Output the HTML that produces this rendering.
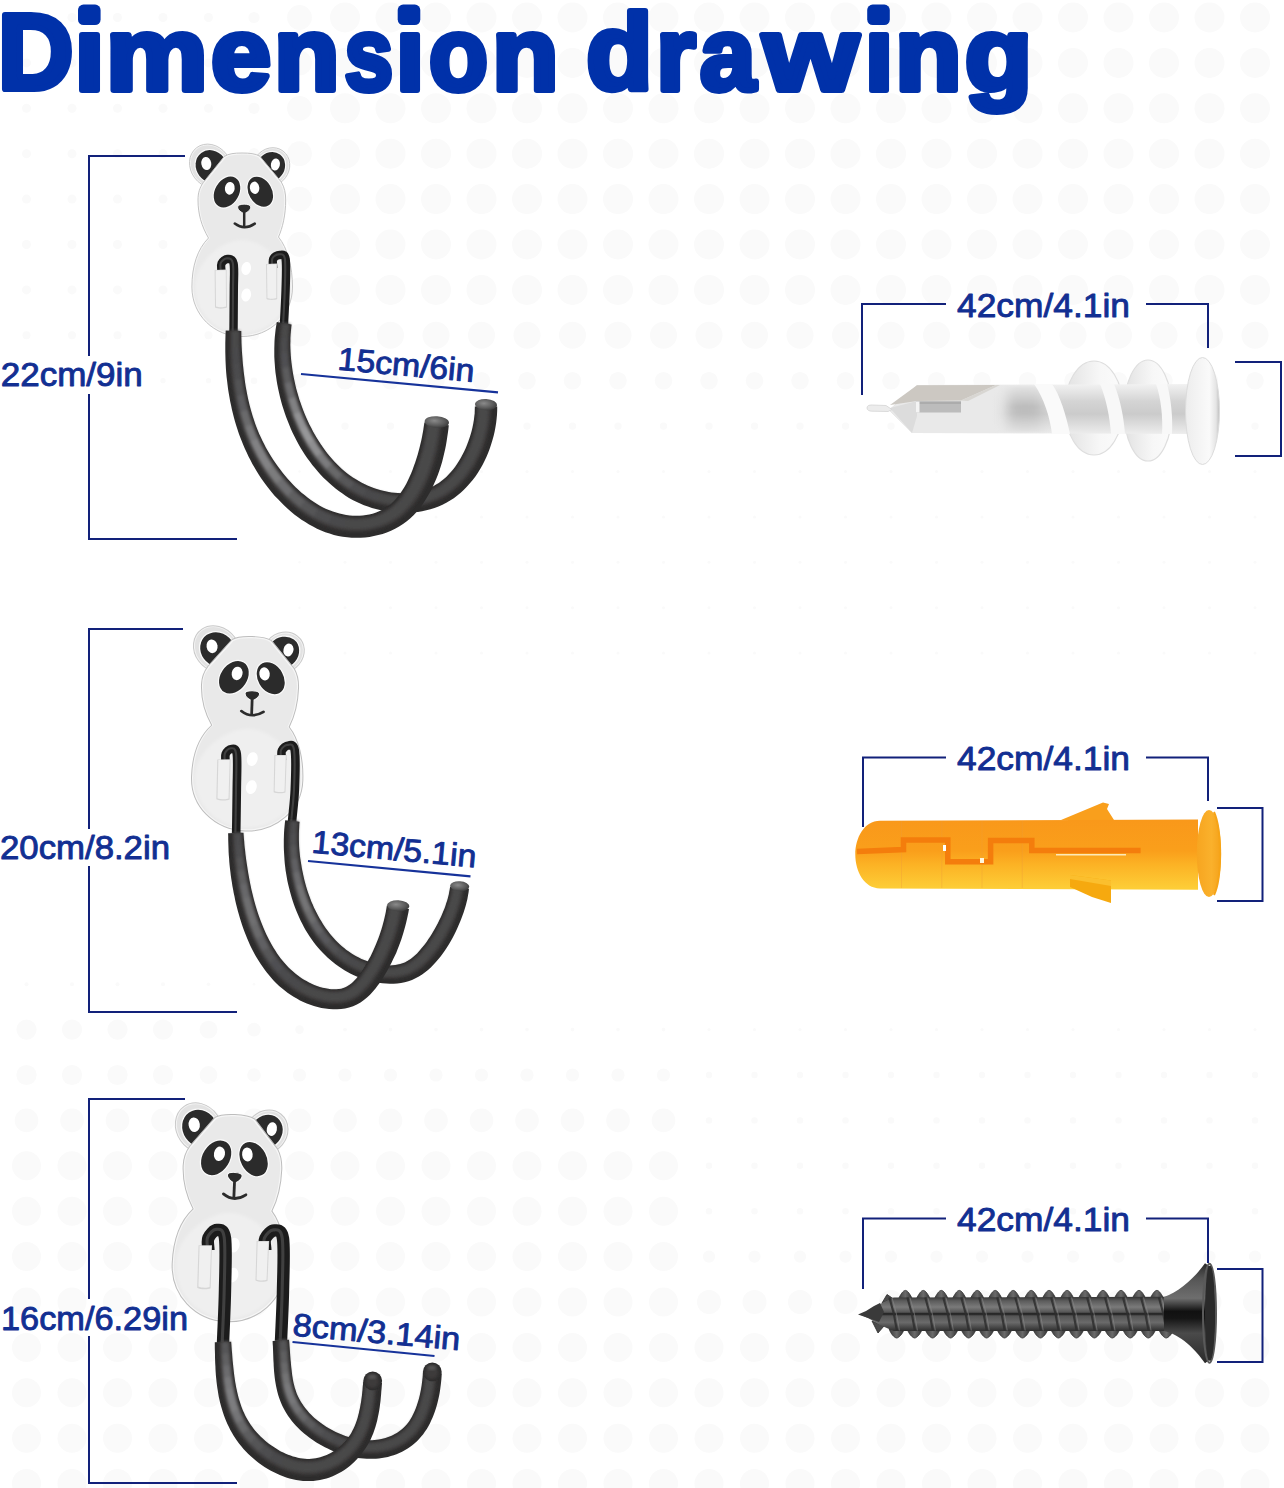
<!DOCTYPE html>
<html><head><meta charset="utf-8">
<style>
html,body{margin:0;padding:0;background:#fff;}
body{width:1284px;height:1488px;overflow:hidden;position:relative;}
svg{position:absolute;left:0;top:0;}
.t{font-family:"Liberation Sans",sans-serif;font-weight:normal;fill:#122f92;stroke:#122f92;stroke-width:0.9px;stroke-linejoin:round;}
</style></head><body>
<svg width="1284" height="1488" viewBox="0 0 1284 1488">

<defs>
<filter id="b1" x="-20%" y="-20%" width="140%" height="140%"><feGaussianBlur stdDeviation="1.6"/></filter>
<filter id="b3" x="-50%" y="-50%" width="200%" height="200%"><feGaussianBlur stdDeviation="6"/></filter>
<radialGradient id="capg" cx="0.4" cy="0.4" r="0.7"><stop offset="0" stop-color="#8a8a8a"/><stop offset="0.6" stop-color="#5a5a5a"/><stop offset="1" stop-color="#333"/></radialGradient>

<g id="plate">
 <ellipse cx="210.5" cy="166" rx="19.8" ry="23" transform="rotate(-37 210.5 166)" fill="#f3f3f3" stroke="#c9c9c9" stroke-width="0.9"/>
 <ellipse cx="271" cy="167" rx="18" ry="20" transform="rotate(37 271 167)" fill="#f3f3f3" stroke="#c9c9c9" stroke-width="0.9"/>
 <ellipse cx="210.5" cy="166" rx="18.5" ry="21.7" transform="rotate(-37 210.5 166)" fill="#e2e2e2"/>
 <ellipse cx="271" cy="167" rx="16.7" ry="18.7" transform="rotate(37 271 167)" fill="#e2e2e2"/>
 <ellipse cx="211.5" cy="166.5" rx="16.4" ry="18.2" transform="rotate(-37 211.5 166.5)" fill="#fafafa"/>
 <ellipse cx="211.5" cy="166.5" rx="15.2" ry="17" transform="rotate(-37 211.5 166.5)" fill="#2b2b2b"/>
 <ellipse cx="206.3" cy="163.5" rx="5" ry="6.5" transform="rotate(-10 206.3 163.5)" fill="#fff"/>
 <ellipse cx="270.6" cy="167" rx="15" ry="16.8" transform="rotate(37 270.6 167)" fill="#fafafa"/>
 <ellipse cx="270.6" cy="167" rx="13.8" ry="15.6" transform="rotate(37 270.6 167)" fill="#2b2b2b"/>
 <ellipse cx="275.4" cy="164.5" rx="4.5" ry="6.1" transform="rotate(10 275.4 164.5)" fill="#fff"/>
 <path d="M242,153 C249.5,153 255.5,153.6 259.8,156.2 L281.3,182 C284.5,187.5 285.7,193 285.7,200 C285.7,215 282.5,228 278.5,237 C287.5,248 292.5,267 292.5,287 C292.5,315 270,336.5 242,336.5 C214,336.5 191.9,315 191.9,287 C191.9,266 197.5,249 208.5,238 C201.5,226 198,214 198,200 C198,193 199.5,188 203.3,182.5 L224.2,156.5 C228.5,153.6 234.5,153 242,153 Z" fill="#f6f6f6" stroke="#bdbdbd" stroke-width="0.9"/>
 <path d="M242,154.6 C249,154.6 254.5,155.2 258.5,157.5 L279.8,182.8 C283,188 284.2,193 284.2,200 C284.2,215 281,228 277,237 C286,248 291,267 291,287 C291,314 269,335 242,335 C215,335 193.4,314 193.4,287 C193.4,266 199,249 210,238 C203,226 199.5,214 199.5,200 C199.5,193 201,188.5 204.8,183.3 L225.5,157.8 C229.5,155.2 235,154.6 242,154.6 Z" fill="#e9e9e9"/>
 <path d="M242,240 C262,240 289.5,262 289.5,287 C289.5,313 268,333.5 242,333.5 C216,333.5 194.9,313 194.9,287 C194.9,262 222,240 242,240Z" fill="#efefef" filter="url(#b1)"/>
 <!-- eye patches -->
 <ellipse cx="227" cy="192" rx="13.1" ry="17.6" transform="rotate(30 227 192)" fill="#fbfbfb"/>
 <ellipse cx="227" cy="192" rx="12" ry="16.5" transform="rotate(30 227 192)" fill="#2b2b2b"/>
 <ellipse cx="229.8" cy="188.3" rx="4.9" ry="6.4" transform="rotate(8 229.8 188.3)" fill="#fff"/>
 <ellipse cx="260.3" cy="191.7" rx="12.6" ry="17.1" transform="rotate(-30 260.3 191.7)" fill="#fbfbfb"/>
 <ellipse cx="260.3" cy="191.7" rx="11.5" ry="16" transform="rotate(-30 260.3 191.7)" fill="#2b2b2b"/>
 <ellipse cx="254.6" cy="187.8" rx="4.7" ry="6.2" transform="rotate(-8 254.6 187.8)" fill="#fff"/>
 <!-- nose & mouth -->
 <path d="M237.6,207 C237.6,203.2 250.8,203.2 250.8,207 C250.8,210.2 246.6,212.8 244.2,213.5 C241.8,212.8 237.6,210.2 237.6,207 Z" fill="#2b2b2b" stroke="#fbfbfb" stroke-width="0.9"/>
 <path d="M244.2,212 V226.5" stroke="#2b2b2b" stroke-width="2.5" fill="none"/>
 <path d="M234.8,223.6 Q244.3,230.8 254.8,223.6" stroke="#2b2b2b" stroke-width="2.5" fill="none" stroke-linecap="round"/>
 <!-- holes -->
 <ellipse cx="246.2" cy="268.5" rx="4.8" ry="6.6" transform="rotate(12 246.2 268.5)" fill="#fff"/>
 <ellipse cx="246.2" cy="295" rx="4.8" ry="6.6" transform="rotate(12 246.2 295)" fill="#fff"/>
</g>

<g id="brk">
 <path d="M214.6,270 L226.6,269.5 L227,307.5 C224,309 217.5,309 215,307.5 Z" fill="#d6d6d6"/>
 <path d="M215.6,270.6 L225.8,270.2 L226,306.5 C223.5,307.6 218.5,307.6 216,306.5 Z" fill="#f0f0f0"/>
 <path d="M266,264 L277.2,263.6 L277.2,299 C275,300.2 268.5,300.2 266.5,299 Z" fill="#d6d6d6"/>
 <path d="M267,264.6 L276.3,264.3 L276.3,298 C274.2,299 269,299 267.4,298 Z" fill="#f0f0f0"/>
</g>

</defs>
<g fill="#fafafa"><circle cx="26.5" cy="17.5" r="4.5"/><circle cx="72.0" cy="17.5" r="4.5"/><circle cx="117.5" cy="17.5" r="4.5"/><circle cx="163.0" cy="17.5" r="4.5"/><circle cx="208.5" cy="17.5" r="4.5"/><circle cx="254.0" cy="17.5" r="5.6"/><circle cx="299.5" cy="17.5" r="12.4"/><circle cx="345.0" cy="17.5" r="15.0"/><circle cx="390.5" cy="17.5" r="15.0"/><circle cx="436.0" cy="17.5" r="15.0"/><circle cx="481.5" cy="17.5" r="15.0"/><circle cx="527.0" cy="17.5" r="15.0"/><circle cx="572.5" cy="17.5" r="15.0"/><circle cx="618.0" cy="17.5" r="15.0"/><circle cx="663.5" cy="17.5" r="15.0"/><circle cx="709.0" cy="17.5" r="15.0"/><circle cx="754.5" cy="17.5" r="15.0"/><circle cx="800.0" cy="17.5" r="15.0"/><circle cx="845.5" cy="17.5" r="15.0"/><circle cx="891.0" cy="17.5" r="15.0"/><circle cx="936.5" cy="17.5" r="15.0"/><circle cx="982.0" cy="17.5" r="15.0"/><circle cx="1027.5" cy="17.5" r="15.0"/><circle cx="1073.0" cy="17.5" r="15.0"/><circle cx="1118.5" cy="17.5" r="15.0"/><circle cx="1164.0" cy="17.5" r="15.0"/><circle cx="1209.5" cy="17.5" r="15.0"/><circle cx="1255.0" cy="17.5" r="15.0"/><circle cx="1300.5" cy="17.5" r="15.0"/><circle cx="26.5" cy="62.9" r="4.5"/><circle cx="72.0" cy="62.9" r="4.5"/><circle cx="117.5" cy="62.9" r="4.5"/><circle cx="163.0" cy="62.9" r="4.5"/><circle cx="208.5" cy="62.9" r="4.5"/><circle cx="254.0" cy="62.9" r="5.6"/><circle cx="299.5" cy="62.9" r="12.4"/><circle cx="345.0" cy="62.9" r="15.0"/><circle cx="390.5" cy="62.9" r="15.0"/><circle cx="436.0" cy="62.9" r="15.0"/><circle cx="481.5" cy="62.9" r="15.0"/><circle cx="527.0" cy="62.9" r="15.0"/><circle cx="572.5" cy="62.9" r="15.0"/><circle cx="618.0" cy="62.9" r="15.0"/><circle cx="663.5" cy="62.9" r="15.0"/><circle cx="709.0" cy="62.9" r="15.0"/><circle cx="754.5" cy="62.9" r="15.0"/><circle cx="800.0" cy="62.9" r="15.0"/><circle cx="845.5" cy="62.9" r="15.0"/><circle cx="891.0" cy="62.9" r="15.0"/><circle cx="936.5" cy="62.9" r="15.0"/><circle cx="982.0" cy="62.9" r="15.0"/><circle cx="1027.5" cy="62.9" r="15.0"/><circle cx="1073.0" cy="62.9" r="15.0"/><circle cx="1118.5" cy="62.9" r="15.0"/><circle cx="1164.0" cy="62.9" r="15.0"/><circle cx="1209.5" cy="62.9" r="15.0"/><circle cx="1255.0" cy="62.9" r="15.0"/><circle cx="1300.5" cy="62.9" r="15.0"/><circle cx="26.5" cy="108.3" r="4.5"/><circle cx="72.0" cy="108.3" r="4.5"/><circle cx="117.5" cy="108.3" r="4.5"/><circle cx="163.0" cy="108.3" r="4.5"/><circle cx="208.5" cy="108.3" r="4.5"/><circle cx="254.0" cy="108.3" r="5.6"/><circle cx="299.5" cy="108.3" r="12.4"/><circle cx="345.0" cy="108.3" r="15.0"/><circle cx="390.5" cy="108.3" r="15.0"/><circle cx="436.0" cy="108.3" r="15.0"/><circle cx="481.5" cy="108.3" r="15.0"/><circle cx="527.0" cy="108.3" r="15.0"/><circle cx="572.5" cy="108.3" r="15.0"/><circle cx="618.0" cy="108.3" r="15.0"/><circle cx="663.5" cy="108.3" r="15.0"/><circle cx="709.0" cy="108.3" r="15.0"/><circle cx="754.5" cy="108.3" r="15.0"/><circle cx="800.0" cy="108.3" r="15.0"/><circle cx="845.5" cy="108.3" r="15.0"/><circle cx="891.0" cy="108.3" r="15.0"/><circle cx="936.5" cy="108.3" r="15.0"/><circle cx="982.0" cy="108.3" r="15.0"/><circle cx="1027.5" cy="108.3" r="15.0"/><circle cx="1073.0" cy="108.3" r="15.0"/><circle cx="1118.5" cy="108.3" r="15.0"/><circle cx="1164.0" cy="108.3" r="15.0"/><circle cx="1209.5" cy="108.3" r="15.0"/><circle cx="1255.0" cy="108.3" r="15.0"/><circle cx="1300.5" cy="108.3" r="15.0"/><circle cx="26.5" cy="153.7" r="4.5"/><circle cx="72.0" cy="153.7" r="4.5"/><circle cx="117.5" cy="153.7" r="4.5"/><circle cx="163.0" cy="153.7" r="4.5"/><circle cx="208.5" cy="153.7" r="4.5"/><circle cx="254.0" cy="153.7" r="5.6"/><circle cx="299.5" cy="153.7" r="12.4"/><circle cx="345.0" cy="153.7" r="15.0"/><circle cx="390.5" cy="153.7" r="15.0"/><circle cx="436.0" cy="153.7" r="15.0"/><circle cx="481.5" cy="153.7" r="15.0"/><circle cx="527.0" cy="153.7" r="15.0"/><circle cx="572.5" cy="153.7" r="15.0"/><circle cx="618.0" cy="153.7" r="15.0"/><circle cx="663.5" cy="153.7" r="15.0"/><circle cx="709.0" cy="153.7" r="15.0"/><circle cx="754.5" cy="153.7" r="15.0"/><circle cx="800.0" cy="153.7" r="15.0"/><circle cx="845.5" cy="153.7" r="15.0"/><circle cx="891.0" cy="153.7" r="15.0"/><circle cx="936.5" cy="153.7" r="15.0"/><circle cx="982.0" cy="153.7" r="15.0"/><circle cx="1027.5" cy="153.7" r="15.0"/><circle cx="1073.0" cy="153.7" r="15.0"/><circle cx="1118.5" cy="153.7" r="15.0"/><circle cx="1164.0" cy="153.7" r="15.0"/><circle cx="1209.5" cy="153.7" r="15.0"/><circle cx="1255.0" cy="153.7" r="15.0"/><circle cx="1300.5" cy="153.7" r="15.0"/><circle cx="26.5" cy="199.1" r="4.5"/><circle cx="72.0" cy="199.1" r="4.5"/><circle cx="117.5" cy="199.1" r="4.5"/><circle cx="163.0" cy="199.1" r="4.5"/><circle cx="208.5" cy="199.1" r="4.5"/><circle cx="254.0" cy="199.1" r="5.6"/><circle cx="299.5" cy="199.1" r="12.4"/><circle cx="345.0" cy="199.1" r="15.0"/><circle cx="390.5" cy="199.1" r="15.0"/><circle cx="436.0" cy="199.1" r="15.0"/><circle cx="481.5" cy="199.1" r="15.0"/><circle cx="527.0" cy="199.1" r="15.0"/><circle cx="572.5" cy="199.1" r="15.0"/><circle cx="618.0" cy="199.1" r="15.0"/><circle cx="663.5" cy="199.1" r="15.0"/><circle cx="709.0" cy="199.1" r="15.0"/><circle cx="754.5" cy="199.1" r="15.0"/><circle cx="800.0" cy="199.1" r="15.0"/><circle cx="845.5" cy="199.1" r="15.0"/><circle cx="891.0" cy="199.1" r="15.0"/><circle cx="936.5" cy="199.1" r="15.0"/><circle cx="982.0" cy="199.1" r="15.0"/><circle cx="1027.5" cy="199.1" r="15.0"/><circle cx="1073.0" cy="199.1" r="15.0"/><circle cx="1118.5" cy="199.1" r="15.0"/><circle cx="1164.0" cy="199.1" r="15.0"/><circle cx="1209.5" cy="199.1" r="15.0"/><circle cx="1255.0" cy="199.1" r="15.0"/><circle cx="1300.5" cy="199.1" r="15.0"/><circle cx="26.5" cy="244.5" r="4.5"/><circle cx="72.0" cy="244.5" r="4.5"/><circle cx="117.5" cy="244.5" r="4.5"/><circle cx="163.0" cy="244.5" r="4.5"/><circle cx="208.5" cy="244.5" r="4.5"/><circle cx="254.0" cy="244.5" r="5.6"/><circle cx="299.5" cy="244.5" r="12.4"/><circle cx="345.0" cy="244.5" r="15.0"/><circle cx="390.5" cy="244.5" r="15.0"/><circle cx="436.0" cy="244.5" r="15.0"/><circle cx="481.5" cy="244.5" r="15.0"/><circle cx="527.0" cy="244.5" r="15.0"/><circle cx="572.5" cy="244.5" r="15.0"/><circle cx="618.0" cy="244.5" r="15.0"/><circle cx="663.5" cy="244.5" r="15.0"/><circle cx="709.0" cy="244.5" r="15.0"/><circle cx="754.5" cy="244.5" r="15.0"/><circle cx="800.0" cy="244.5" r="15.0"/><circle cx="845.5" cy="244.5" r="15.0"/><circle cx="891.0" cy="244.5" r="15.0"/><circle cx="936.5" cy="244.5" r="15.0"/><circle cx="982.0" cy="244.5" r="15.0"/><circle cx="1027.5" cy="244.5" r="15.0"/><circle cx="1073.0" cy="244.5" r="15.0"/><circle cx="1118.5" cy="244.5" r="15.0"/><circle cx="1164.0" cy="244.5" r="15.0"/><circle cx="1209.5" cy="244.5" r="15.0"/><circle cx="1255.0" cy="244.5" r="15.0"/><circle cx="1300.5" cy="244.5" r="15.0"/><circle cx="26.5" cy="289.9" r="4.5"/><circle cx="72.0" cy="289.9" r="4.5"/><circle cx="117.5" cy="289.9" r="4.5"/><circle cx="163.0" cy="289.9" r="4.5"/><circle cx="208.5" cy="289.9" r="4.5"/><circle cx="254.0" cy="289.9" r="5.6"/><circle cx="299.5" cy="289.9" r="12.4"/><circle cx="345.0" cy="289.9" r="15.0"/><circle cx="390.5" cy="289.9" r="15.0"/><circle cx="436.0" cy="289.9" r="15.0"/><circle cx="481.5" cy="289.9" r="15.0"/><circle cx="527.0" cy="289.9" r="15.0"/><circle cx="572.5" cy="289.9" r="15.0"/><circle cx="618.0" cy="289.9" r="15.0"/><circle cx="663.5" cy="289.9" r="15.0"/><circle cx="709.0" cy="289.9" r="15.0"/><circle cx="754.5" cy="289.9" r="15.0"/><circle cx="800.0" cy="289.9" r="15.0"/><circle cx="845.5" cy="289.9" r="15.0"/><circle cx="891.0" cy="289.9" r="15.0"/><circle cx="936.5" cy="289.9" r="15.0"/><circle cx="982.0" cy="289.9" r="15.0"/><circle cx="1027.5" cy="289.9" r="15.0"/><circle cx="1073.0" cy="289.9" r="15.0"/><circle cx="1118.5" cy="289.9" r="15.0"/><circle cx="1164.0" cy="289.9" r="15.0"/><circle cx="1209.5" cy="289.9" r="15.0"/><circle cx="1255.0" cy="289.9" r="15.0"/><circle cx="1300.5" cy="289.9" r="15.0"/><circle cx="26.5" cy="335.3" r="4.0"/><circle cx="72.0" cy="335.3" r="4.0"/><circle cx="117.5" cy="335.3" r="4.0"/><circle cx="163.0" cy="335.3" r="4.0"/><circle cx="208.5" cy="335.3" r="4.0"/><circle cx="254.0" cy="335.3" r="5.0"/><circle cx="299.5" cy="335.3" r="11.2"/><circle cx="345.0" cy="335.3" r="13.5"/><circle cx="390.5" cy="335.3" r="13.5"/><circle cx="436.0" cy="335.3" r="13.5"/><circle cx="481.5" cy="335.3" r="13.5"/><circle cx="527.0" cy="335.3" r="13.5"/><circle cx="572.5" cy="335.3" r="13.5"/><circle cx="618.0" cy="335.3" r="13.5"/><circle cx="663.5" cy="335.3" r="13.5"/><circle cx="709.0" cy="335.3" r="13.5"/><circle cx="754.5" cy="335.3" r="13.5"/><circle cx="800.0" cy="335.3" r="13.5"/><circle cx="845.5" cy="335.3" r="13.5"/><circle cx="891.0" cy="335.3" r="13.5"/><circle cx="936.5" cy="335.3" r="13.5"/><circle cx="982.0" cy="335.3" r="13.5"/><circle cx="1027.5" cy="335.3" r="13.5"/><circle cx="1073.0" cy="335.3" r="13.5"/><circle cx="1118.5" cy="335.3" r="13.5"/><circle cx="1164.0" cy="335.3" r="13.5"/><circle cx="1209.5" cy="335.3" r="13.5"/><circle cx="1255.0" cy="335.3" r="13.5"/><circle cx="1300.5" cy="335.3" r="13.5"/><circle cx="26.5" cy="380.7" r="2.6"/><circle cx="72.0" cy="380.7" r="2.6"/><circle cx="117.5" cy="380.7" r="2.6"/><circle cx="163.0" cy="380.7" r="2.6"/><circle cx="208.5" cy="380.7" r="2.6"/><circle cx="254.0" cy="380.7" r="3.3"/><circle cx="299.5" cy="380.7" r="7.3"/><circle cx="345.0" cy="380.7" r="8.8"/><circle cx="390.5" cy="380.7" r="8.8"/><circle cx="436.0" cy="380.7" r="8.8"/><circle cx="481.5" cy="380.7" r="8.8"/><circle cx="527.0" cy="380.7" r="8.8"/><circle cx="572.5" cy="380.7" r="8.8"/><circle cx="618.0" cy="380.7" r="8.8"/><circle cx="663.5" cy="380.7" r="8.8"/><circle cx="709.0" cy="380.7" r="8.8"/><circle cx="754.5" cy="380.7" r="8.8"/><circle cx="800.0" cy="380.7" r="8.8"/><circle cx="845.5" cy="380.7" r="8.8"/><circle cx="891.0" cy="380.7" r="8.8"/><circle cx="936.5" cy="380.7" r="8.8"/><circle cx="982.0" cy="380.7" r="8.8"/><circle cx="1027.5" cy="380.7" r="8.8"/><circle cx="1073.0" cy="380.7" r="8.8"/><circle cx="1118.5" cy="380.7" r="8.8"/><circle cx="1164.0" cy="380.7" r="8.8"/><circle cx="1209.5" cy="380.7" r="8.8"/><circle cx="1255.0" cy="380.7" r="8.8"/><circle cx="1300.5" cy="380.7" r="8.8"/><circle cx="254.0" cy="426.1" r="1.4"/><circle cx="299.5" cy="426.1" r="3.1"/><circle cx="345.0" cy="426.1" r="3.7"/><circle cx="390.5" cy="426.1" r="3.7"/><circle cx="436.0" cy="426.1" r="3.7"/><circle cx="481.5" cy="426.1" r="3.7"/><circle cx="527.0" cy="426.1" r="3.7"/><circle cx="572.5" cy="426.1" r="3.7"/><circle cx="618.0" cy="426.1" r="3.7"/><circle cx="663.5" cy="426.1" r="3.7"/><circle cx="709.0" cy="426.1" r="3.7"/><circle cx="754.5" cy="426.1" r="3.7"/><circle cx="800.0" cy="426.1" r="3.7"/><circle cx="845.5" cy="426.1" r="3.7"/><circle cx="891.0" cy="426.1" r="3.7"/><circle cx="936.5" cy="426.1" r="3.7"/><circle cx="982.0" cy="426.1" r="3.7"/><circle cx="1027.5" cy="426.1" r="3.7"/><circle cx="1073.0" cy="426.1" r="3.7"/><circle cx="1118.5" cy="426.1" r="3.7"/><circle cx="1164.0" cy="426.1" r="3.7"/><circle cx="1209.5" cy="426.1" r="3.7"/><circle cx="1255.0" cy="426.1" r="3.7"/><circle cx="1300.5" cy="426.1" r="3.7"/><circle cx="299.5" cy="471.5" r="1.2"/><circle cx="345.0" cy="471.5" r="1.5"/><circle cx="390.5" cy="471.5" r="1.5"/><circle cx="436.0" cy="471.5" r="1.5"/><circle cx="481.5" cy="471.5" r="1.5"/><circle cx="527.0" cy="471.5" r="1.5"/><circle cx="572.5" cy="471.5" r="1.5"/><circle cx="618.0" cy="471.5" r="1.5"/><circle cx="663.5" cy="471.5" r="1.5"/><circle cx="709.0" cy="471.5" r="1.5"/><circle cx="754.5" cy="471.5" r="1.5"/><circle cx="800.0" cy="471.5" r="1.5"/><circle cx="845.5" cy="471.5" r="1.5"/><circle cx="891.0" cy="471.5" r="1.5"/><circle cx="936.5" cy="471.5" r="1.5"/><circle cx="982.0" cy="471.5" r="1.5"/><circle cx="1027.5" cy="471.5" r="1.5"/><circle cx="1073.0" cy="471.5" r="1.5"/><circle cx="1118.5" cy="471.5" r="1.5"/><circle cx="1164.0" cy="471.5" r="1.5"/><circle cx="1209.5" cy="471.5" r="1.5"/><circle cx="1255.0" cy="471.5" r="1.5"/><circle cx="1300.5" cy="471.5" r="1.5"/><circle cx="299.5" cy="516.9" r="1.2"/><circle cx="345.0" cy="516.9" r="1.5"/><circle cx="390.5" cy="516.9" r="1.5"/><circle cx="436.0" cy="516.9" r="1.5"/><circle cx="481.5" cy="516.9" r="1.5"/><circle cx="527.0" cy="516.9" r="1.5"/><circle cx="572.5" cy="516.9" r="1.5"/><circle cx="618.0" cy="516.9" r="1.5"/><circle cx="663.5" cy="516.9" r="1.5"/><circle cx="709.0" cy="516.9" r="1.5"/><circle cx="754.5" cy="516.9" r="1.5"/><circle cx="800.0" cy="516.9" r="1.5"/><circle cx="845.5" cy="516.9" r="1.5"/><circle cx="891.0" cy="516.9" r="1.5"/><circle cx="936.5" cy="516.9" r="1.5"/><circle cx="982.0" cy="516.9" r="1.5"/><circle cx="1027.5" cy="516.9" r="1.5"/><circle cx="1073.0" cy="516.9" r="1.5"/><circle cx="1118.5" cy="516.9" r="1.5"/><circle cx="1164.0" cy="516.9" r="1.5"/><circle cx="1209.5" cy="516.9" r="1.5"/><circle cx="1255.0" cy="516.9" r="1.5"/><circle cx="1300.5" cy="516.9" r="1.5"/><circle cx="299.5" cy="562.3" r="1.2"/><circle cx="345.0" cy="562.3" r="1.5"/><circle cx="390.5" cy="562.3" r="1.5"/><circle cx="436.0" cy="562.3" r="1.5"/><circle cx="481.5" cy="562.3" r="1.5"/><circle cx="527.0" cy="562.3" r="1.5"/><circle cx="572.5" cy="562.3" r="1.5"/><circle cx="618.0" cy="562.3" r="1.5"/><circle cx="663.5" cy="562.3" r="1.5"/><circle cx="709.0" cy="562.3" r="1.5"/><circle cx="754.5" cy="562.3" r="1.5"/><circle cx="800.0" cy="562.3" r="1.5"/><circle cx="845.5" cy="562.3" r="1.5"/><circle cx="891.0" cy="562.3" r="1.5"/><circle cx="936.5" cy="562.3" r="1.5"/><circle cx="982.0" cy="562.3" r="1.5"/><circle cx="1027.5" cy="562.3" r="1.5"/><circle cx="1073.0" cy="562.3" r="1.5"/><circle cx="1118.5" cy="562.3" r="1.5"/><circle cx="1164.0" cy="562.3" r="1.5"/><circle cx="1209.5" cy="562.3" r="1.5"/><circle cx="1255.0" cy="562.3" r="1.5"/><circle cx="1300.5" cy="562.3" r="1.5"/><circle cx="299.5" cy="607.7" r="1.2"/><circle cx="345.0" cy="607.7" r="1.5"/><circle cx="390.5" cy="607.7" r="1.5"/><circle cx="436.0" cy="607.7" r="1.5"/><circle cx="481.5" cy="607.7" r="1.5"/><circle cx="527.0" cy="607.7" r="1.5"/><circle cx="572.5" cy="607.7" r="1.5"/><circle cx="618.0" cy="607.7" r="1.5"/><circle cx="663.5" cy="607.7" r="1.5"/><circle cx="709.0" cy="607.7" r="1.5"/><circle cx="754.5" cy="607.7" r="1.5"/><circle cx="800.0" cy="607.7" r="1.5"/><circle cx="845.5" cy="607.7" r="1.5"/><circle cx="891.0" cy="607.7" r="1.5"/><circle cx="936.5" cy="607.7" r="1.5"/><circle cx="982.0" cy="607.7" r="1.5"/><circle cx="1027.5" cy="607.7" r="1.5"/><circle cx="1073.0" cy="607.7" r="1.5"/><circle cx="1118.5" cy="607.7" r="1.5"/><circle cx="1164.0" cy="607.7" r="1.5"/><circle cx="1209.5" cy="607.7" r="1.5"/><circle cx="1255.0" cy="607.7" r="1.5"/><circle cx="1300.5" cy="607.7" r="1.5"/><circle cx="299.5" cy="653.1" r="1.2"/><circle cx="345.0" cy="653.1" r="1.5"/><circle cx="390.5" cy="653.1" r="1.5"/><circle cx="436.0" cy="653.1" r="1.5"/><circle cx="481.5" cy="653.1" r="1.5"/><circle cx="527.0" cy="653.1" r="1.5"/><circle cx="572.5" cy="653.1" r="1.5"/><circle cx="618.0" cy="653.1" r="1.5"/><circle cx="663.5" cy="653.1" r="1.5"/><circle cx="709.0" cy="653.1" r="1.5"/><circle cx="754.5" cy="653.1" r="1.5"/><circle cx="800.0" cy="653.1" r="1.5"/><circle cx="845.5" cy="653.1" r="1.5"/><circle cx="891.0" cy="653.1" r="1.5"/><circle cx="936.5" cy="653.1" r="1.5"/><circle cx="982.0" cy="653.1" r="1.5"/><circle cx="1027.5" cy="653.1" r="1.5"/><circle cx="1073.0" cy="653.1" r="1.5"/><circle cx="1118.5" cy="653.1" r="1.5"/><circle cx="1164.0" cy="653.1" r="1.5"/><circle cx="1209.5" cy="653.1" r="1.5"/><circle cx="1255.0" cy="653.1" r="1.5"/><circle cx="1300.5" cy="653.1" r="1.5"/><circle cx="26.5" cy="984.2" r="2.0"/><circle cx="72.0" cy="984.2" r="2.0"/><circle cx="117.5" cy="984.2" r="2.0"/><circle cx="163.0" cy="984.2" r="2.0"/><circle cx="208.5" cy="984.2" r="1.8"/><circle cx="254.0" cy="984.2" r="1.3"/><circle cx="26.5" cy="1029.6" r="10.1"/><circle cx="72.0" cy="1029.6" r="10.1"/><circle cx="117.5" cy="1029.6" r="10.1"/><circle cx="163.0" cy="1029.6" r="10.1"/><circle cx="208.5" cy="1029.6" r="8.9"/><circle cx="254.0" cy="1029.6" r="6.8"/><circle cx="299.5" cy="1029.6" r="4.3"/><circle cx="345.0" cy="1029.6" r="1.9"/><circle cx="390.5" cy="1029.6" r="1.8"/><circle cx="436.0" cy="1029.6" r="1.8"/><circle cx="481.5" cy="1029.6" r="1.8"/><circle cx="527.0" cy="1029.6" r="1.8"/><circle cx="572.5" cy="1029.6" r="1.8"/><circle cx="618.0" cy="1029.6" r="1.8"/><circle cx="663.5" cy="1029.6" r="1.8"/><circle cx="709.0" cy="1029.6" r="1.6"/><circle cx="754.5" cy="1029.6" r="1.6"/><circle cx="800.0" cy="1029.6" r="1.6"/><circle cx="845.5" cy="1029.6" r="1.6"/><circle cx="891.0" cy="1029.6" r="1.6"/><circle cx="936.5" cy="1029.6" r="1.6"/><circle cx="982.0" cy="1029.6" r="1.6"/><circle cx="1027.5" cy="1029.6" r="1.6"/><circle cx="1073.0" cy="1029.6" r="1.6"/><circle cx="1118.5" cy="1029.6" r="1.6"/><circle cx="1164.0" cy="1029.6" r="1.6"/><circle cx="1209.5" cy="1029.6" r="1.6"/><circle cx="1255.0" cy="1029.6" r="1.6"/><circle cx="1300.5" cy="1029.6" r="1.6"/><circle cx="26.5" cy="1075.0" r="10.1"/><circle cx="72.0" cy="1075.0" r="10.1"/><circle cx="117.5" cy="1075.0" r="10.1"/><circle cx="163.0" cy="1075.0" r="10.1"/><circle cx="208.5" cy="1075.0" r="8.9"/><circle cx="254.0" cy="1075.0" r="6.8"/><circle cx="299.5" cy="1075.0" r="6.6"/><circle cx="345.0" cy="1075.0" r="6.6"/><circle cx="390.5" cy="1075.0" r="6.6"/><circle cx="436.0" cy="1075.0" r="6.6"/><circle cx="481.5" cy="1075.0" r="6.6"/><circle cx="527.0" cy="1075.0" r="6.6"/><circle cx="572.5" cy="1075.0" r="6.6"/><circle cx="618.0" cy="1075.0" r="6.6"/><circle cx="663.5" cy="1075.0" r="6.6"/><circle cx="709.0" cy="1075.0" r="3.2"/><circle cx="754.5" cy="1075.0" r="3.2"/><circle cx="800.0" cy="1075.0" r="3.2"/><circle cx="845.5" cy="1075.0" r="3.2"/><circle cx="891.0" cy="1075.0" r="3.2"/><circle cx="936.5" cy="1075.0" r="3.2"/><circle cx="982.0" cy="1075.0" r="3.2"/><circle cx="1027.5" cy="1075.0" r="3.2"/><circle cx="1073.0" cy="1075.0" r="3.2"/><circle cx="1118.5" cy="1075.0" r="3.2"/><circle cx="1164.0" cy="1075.0" r="3.2"/><circle cx="1209.5" cy="1075.0" r="3.2"/><circle cx="1255.0" cy="1075.0" r="3.2"/><circle cx="1300.5" cy="1075.0" r="3.2"/><circle cx="26.5" cy="1120.4" r="11.8"/><circle cx="72.0" cy="1120.4" r="11.8"/><circle cx="117.5" cy="1120.4" r="11.8"/><circle cx="163.0" cy="1120.4" r="11.8"/><circle cx="208.5" cy="1120.4" r="11.8"/><circle cx="254.0" cy="1120.4" r="11.8"/><circle cx="299.5" cy="1120.4" r="11.8"/><circle cx="345.0" cy="1120.4" r="11.8"/><circle cx="390.5" cy="1120.4" r="11.8"/><circle cx="436.0" cy="1120.4" r="11.8"/><circle cx="481.5" cy="1120.4" r="11.8"/><circle cx="527.0" cy="1120.4" r="11.8"/><circle cx="572.5" cy="1120.4" r="11.8"/><circle cx="618.0" cy="1120.4" r="11.8"/><circle cx="663.5" cy="1120.4" r="11.8"/><circle cx="709.0" cy="1120.4" r="3.2"/><circle cx="754.5" cy="1120.4" r="3.2"/><circle cx="800.0" cy="1120.4" r="3.2"/><circle cx="845.5" cy="1120.4" r="3.2"/><circle cx="891.0" cy="1120.4" r="3.2"/><circle cx="936.5" cy="1120.4" r="3.2"/><circle cx="982.0" cy="1120.4" r="3.2"/><circle cx="1027.5" cy="1120.4" r="3.2"/><circle cx="1073.0" cy="1120.4" r="3.2"/><circle cx="1118.5" cy="1120.4" r="3.2"/><circle cx="1164.0" cy="1120.4" r="3.2"/><circle cx="1209.5" cy="1120.4" r="3.2"/><circle cx="1255.0" cy="1120.4" r="3.2"/><circle cx="1300.5" cy="1120.4" r="3.2"/><circle cx="26.5" cy="1165.8" r="14.5"/><circle cx="72.0" cy="1165.8" r="14.5"/><circle cx="117.5" cy="1165.8" r="14.5"/><circle cx="163.0" cy="1165.8" r="14.5"/><circle cx="208.5" cy="1165.8" r="14.5"/><circle cx="254.0" cy="1165.8" r="14.5"/><circle cx="299.5" cy="1165.8" r="14.5"/><circle cx="345.0" cy="1165.8" r="14.5"/><circle cx="390.5" cy="1165.8" r="14.5"/><circle cx="436.0" cy="1165.8" r="14.5"/><circle cx="481.5" cy="1165.8" r="14.5"/><circle cx="527.0" cy="1165.8" r="14.5"/><circle cx="572.5" cy="1165.8" r="14.5"/><circle cx="618.0" cy="1165.8" r="14.5"/><circle cx="663.5" cy="1165.8" r="14.5"/><circle cx="709.0" cy="1165.8" r="3.2"/><circle cx="754.5" cy="1165.8" r="3.2"/><circle cx="800.0" cy="1165.8" r="3.2"/><circle cx="845.5" cy="1165.8" r="3.2"/><circle cx="891.0" cy="1165.8" r="3.2"/><circle cx="936.5" cy="1165.8" r="3.2"/><circle cx="982.0" cy="1165.8" r="3.2"/><circle cx="1027.5" cy="1165.8" r="3.2"/><circle cx="1073.0" cy="1165.8" r="3.2"/><circle cx="1118.5" cy="1165.8" r="3.2"/><circle cx="1164.0" cy="1165.8" r="3.2"/><circle cx="1209.5" cy="1165.8" r="3.2"/><circle cx="1255.0" cy="1165.8" r="3.2"/><circle cx="1300.5" cy="1165.8" r="3.2"/><circle cx="26.5" cy="1211.2" r="14.5"/><circle cx="72.0" cy="1211.2" r="14.5"/><circle cx="117.5" cy="1211.2" r="14.5"/><circle cx="163.0" cy="1211.2" r="14.5"/><circle cx="208.5" cy="1211.2" r="14.5"/><circle cx="254.0" cy="1211.2" r="14.5"/><circle cx="299.5" cy="1211.2" r="14.5"/><circle cx="345.0" cy="1211.2" r="14.5"/><circle cx="390.5" cy="1211.2" r="14.5"/><circle cx="436.0" cy="1211.2" r="14.5"/><circle cx="481.5" cy="1211.2" r="14.5"/><circle cx="527.0" cy="1211.2" r="14.5"/><circle cx="572.5" cy="1211.2" r="14.5"/><circle cx="618.0" cy="1211.2" r="14.5"/><circle cx="663.5" cy="1211.2" r="14.5"/><circle cx="709.0" cy="1211.2" r="3.2"/><circle cx="754.5" cy="1211.2" r="3.2"/><circle cx="800.0" cy="1211.2" r="3.2"/><circle cx="845.5" cy="1211.2" r="3.2"/><circle cx="891.0" cy="1211.2" r="3.2"/><circle cx="936.5" cy="1211.2" r="3.2"/><circle cx="982.0" cy="1211.2" r="3.2"/><circle cx="1027.5" cy="1211.2" r="3.2"/><circle cx="1073.0" cy="1211.2" r="3.2"/><circle cx="1118.5" cy="1211.2" r="3.2"/><circle cx="1164.0" cy="1211.2" r="3.2"/><circle cx="1209.5" cy="1211.2" r="3.2"/><circle cx="1255.0" cy="1211.2" r="3.2"/><circle cx="1300.5" cy="1211.2" r="3.2"/><circle cx="26.5" cy="1256.6" r="14.5"/><circle cx="72.0" cy="1256.6" r="14.5"/><circle cx="117.5" cy="1256.6" r="14.5"/><circle cx="163.0" cy="1256.6" r="14.5"/><circle cx="208.5" cy="1256.6" r="14.5"/><circle cx="254.0" cy="1256.6" r="14.5"/><circle cx="299.5" cy="1256.6" r="14.5"/><circle cx="345.0" cy="1256.6" r="14.5"/><circle cx="390.5" cy="1256.6" r="14.5"/><circle cx="436.0" cy="1256.6" r="14.5"/><circle cx="481.5" cy="1256.6" r="14.5"/><circle cx="527.0" cy="1256.6" r="14.5"/><circle cx="572.5" cy="1256.6" r="14.5"/><circle cx="618.0" cy="1256.6" r="14.5"/><circle cx="663.5" cy="1256.6" r="14.5"/><circle cx="709.0" cy="1256.6" r="6.1"/><circle cx="754.5" cy="1256.6" r="6.1"/><circle cx="800.0" cy="1256.6" r="6.1"/><circle cx="845.5" cy="1256.6" r="6.1"/><circle cx="891.0" cy="1256.6" r="6.1"/><circle cx="936.5" cy="1256.6" r="6.1"/><circle cx="982.0" cy="1256.6" r="6.1"/><circle cx="1027.5" cy="1256.6" r="6.1"/><circle cx="1073.0" cy="1256.6" r="6.1"/><circle cx="1118.5" cy="1256.6" r="6.1"/><circle cx="1164.0" cy="1256.6" r="6.1"/><circle cx="1209.5" cy="1256.6" r="6.1"/><circle cx="1255.0" cy="1256.6" r="6.1"/><circle cx="1300.5" cy="1256.6" r="6.1"/><circle cx="26.5" cy="1302.0" r="14.5"/><circle cx="72.0" cy="1302.0" r="14.5"/><circle cx="117.5" cy="1302.0" r="14.5"/><circle cx="163.0" cy="1302.0" r="14.5"/><circle cx="208.5" cy="1302.0" r="14.5"/><circle cx="254.0" cy="1302.0" r="14.5"/><circle cx="299.5" cy="1302.0" r="14.5"/><circle cx="345.0" cy="1302.0" r="14.5"/><circle cx="390.5" cy="1302.0" r="14.5"/><circle cx="436.0" cy="1302.0" r="14.5"/><circle cx="481.5" cy="1302.0" r="14.5"/><circle cx="527.0" cy="1302.0" r="14.5"/><circle cx="572.5" cy="1302.0" r="14.5"/><circle cx="618.0" cy="1302.0" r="14.5"/><circle cx="663.5" cy="1302.0" r="14.5"/><circle cx="709.0" cy="1302.0" r="12.0"/><circle cx="754.5" cy="1302.0" r="12.0"/><circle cx="800.0" cy="1302.0" r="12.0"/><circle cx="845.5" cy="1302.0" r="12.0"/><circle cx="891.0" cy="1302.0" r="12.0"/><circle cx="936.5" cy="1302.0" r="12.0"/><circle cx="982.0" cy="1302.0" r="12.0"/><circle cx="1027.5" cy="1302.0" r="12.0"/><circle cx="1073.0" cy="1302.0" r="12.0"/><circle cx="1118.5" cy="1302.0" r="12.0"/><circle cx="1164.0" cy="1302.0" r="12.0"/><circle cx="1209.5" cy="1302.0" r="12.0"/><circle cx="1255.0" cy="1302.0" r="12.0"/><circle cx="1300.5" cy="1302.0" r="12.0"/><circle cx="26.5" cy="1347.4" r="14.5"/><circle cx="72.0" cy="1347.4" r="14.5"/><circle cx="117.5" cy="1347.4" r="14.5"/><circle cx="163.0" cy="1347.4" r="14.5"/><circle cx="208.5" cy="1347.4" r="14.5"/><circle cx="254.0" cy="1347.4" r="14.5"/><circle cx="299.5" cy="1347.4" r="14.5"/><circle cx="345.0" cy="1347.4" r="14.5"/><circle cx="390.5" cy="1347.4" r="14.5"/><circle cx="436.0" cy="1347.4" r="14.5"/><circle cx="481.5" cy="1347.4" r="14.5"/><circle cx="527.0" cy="1347.4" r="14.5"/><circle cx="572.5" cy="1347.4" r="14.5"/><circle cx="618.0" cy="1347.4" r="14.5"/><circle cx="663.5" cy="1347.4" r="14.5"/><circle cx="709.0" cy="1347.4" r="14.5"/><circle cx="754.5" cy="1347.4" r="14.5"/><circle cx="800.0" cy="1347.4" r="14.5"/><circle cx="845.5" cy="1347.4" r="14.5"/><circle cx="891.0" cy="1347.4" r="14.5"/><circle cx="936.5" cy="1347.4" r="14.5"/><circle cx="982.0" cy="1347.4" r="14.5"/><circle cx="1027.5" cy="1347.4" r="14.5"/><circle cx="1073.0" cy="1347.4" r="14.5"/><circle cx="1118.5" cy="1347.4" r="14.5"/><circle cx="1164.0" cy="1347.4" r="14.5"/><circle cx="1209.5" cy="1347.4" r="14.5"/><circle cx="1255.0" cy="1347.4" r="14.5"/><circle cx="1300.5" cy="1347.4" r="14.5"/><circle cx="26.5" cy="1392.8" r="14.5"/><circle cx="72.0" cy="1392.8" r="14.5"/><circle cx="117.5" cy="1392.8" r="14.5"/><circle cx="163.0" cy="1392.8" r="14.5"/><circle cx="208.5" cy="1392.8" r="14.5"/><circle cx="254.0" cy="1392.8" r="14.5"/><circle cx="299.5" cy="1392.8" r="14.5"/><circle cx="345.0" cy="1392.8" r="14.5"/><circle cx="390.5" cy="1392.8" r="14.5"/><circle cx="436.0" cy="1392.8" r="14.5"/><circle cx="481.5" cy="1392.8" r="14.5"/><circle cx="527.0" cy="1392.8" r="14.5"/><circle cx="572.5" cy="1392.8" r="14.5"/><circle cx="618.0" cy="1392.8" r="14.5"/><circle cx="663.5" cy="1392.8" r="14.5"/><circle cx="709.0" cy="1392.8" r="14.5"/><circle cx="754.5" cy="1392.8" r="14.5"/><circle cx="800.0" cy="1392.8" r="14.5"/><circle cx="845.5" cy="1392.8" r="14.5"/><circle cx="891.0" cy="1392.8" r="14.5"/><circle cx="936.5" cy="1392.8" r="14.5"/><circle cx="982.0" cy="1392.8" r="14.5"/><circle cx="1027.5" cy="1392.8" r="14.5"/><circle cx="1073.0" cy="1392.8" r="14.5"/><circle cx="1118.5" cy="1392.8" r="14.5"/><circle cx="1164.0" cy="1392.8" r="14.5"/><circle cx="1209.5" cy="1392.8" r="14.5"/><circle cx="1255.0" cy="1392.8" r="14.5"/><circle cx="1300.5" cy="1392.8" r="14.5"/><circle cx="26.5" cy="1438.2" r="14.5"/><circle cx="72.0" cy="1438.2" r="14.5"/><circle cx="117.5" cy="1438.2" r="14.5"/><circle cx="163.0" cy="1438.2" r="14.5"/><circle cx="208.5" cy="1438.2" r="14.5"/><circle cx="254.0" cy="1438.2" r="14.5"/><circle cx="299.5" cy="1438.2" r="14.5"/><circle cx="345.0" cy="1438.2" r="14.5"/><circle cx="390.5" cy="1438.2" r="14.5"/><circle cx="436.0" cy="1438.2" r="14.5"/><circle cx="481.5" cy="1438.2" r="14.5"/><circle cx="527.0" cy="1438.2" r="14.5"/><circle cx="572.5" cy="1438.2" r="14.5"/><circle cx="618.0" cy="1438.2" r="14.5"/><circle cx="663.5" cy="1438.2" r="14.5"/><circle cx="709.0" cy="1438.2" r="14.5"/><circle cx="754.5" cy="1438.2" r="14.5"/><circle cx="800.0" cy="1438.2" r="14.5"/><circle cx="845.5" cy="1438.2" r="14.5"/><circle cx="891.0" cy="1438.2" r="14.5"/><circle cx="936.5" cy="1438.2" r="14.5"/><circle cx="982.0" cy="1438.2" r="14.5"/><circle cx="1027.5" cy="1438.2" r="14.5"/><circle cx="1073.0" cy="1438.2" r="14.5"/><circle cx="1118.5" cy="1438.2" r="14.5"/><circle cx="1164.0" cy="1438.2" r="14.5"/><circle cx="1209.5" cy="1438.2" r="14.5"/><circle cx="1255.0" cy="1438.2" r="14.5"/><circle cx="1300.5" cy="1438.2" r="14.5"/><circle cx="26.5" cy="1483.6" r="14.5"/><circle cx="72.0" cy="1483.6" r="14.5"/><circle cx="117.5" cy="1483.6" r="14.5"/><circle cx="163.0" cy="1483.6" r="14.5"/><circle cx="208.5" cy="1483.6" r="14.5"/><circle cx="254.0" cy="1483.6" r="14.5"/><circle cx="299.5" cy="1483.6" r="14.5"/><circle cx="345.0" cy="1483.6" r="14.5"/><circle cx="390.5" cy="1483.6" r="14.5"/><circle cx="436.0" cy="1483.6" r="14.5"/><circle cx="481.5" cy="1483.6" r="14.5"/><circle cx="527.0" cy="1483.6" r="14.5"/><circle cx="572.5" cy="1483.6" r="14.5"/><circle cx="618.0" cy="1483.6" r="14.5"/><circle cx="663.5" cy="1483.6" r="14.5"/><circle cx="709.0" cy="1483.6" r="14.5"/><circle cx="754.5" cy="1483.6" r="14.5"/><circle cx="800.0" cy="1483.6" r="14.5"/><circle cx="845.5" cy="1483.6" r="14.5"/><circle cx="891.0" cy="1483.6" r="14.5"/><circle cx="936.5" cy="1483.6" r="14.5"/><circle cx="982.0" cy="1483.6" r="14.5"/><circle cx="1027.5" cy="1483.6" r="14.5"/><circle cx="1073.0" cy="1483.6" r="14.5"/><circle cx="1118.5" cy="1483.6" r="14.5"/><circle cx="1164.0" cy="1483.6" r="14.5"/><circle cx="1209.5" cy="1483.6" r="14.5"/><circle cx="1255.0" cy="1483.6" r="14.5"/><circle cx="1300.5" cy="1483.6" r="14.5"/></g><g style="font-family:'Liberation Sans',sans-serif;font-weight:bold;font-size:104px;fill:#0031a9;stroke:#0031a9;stroke-width:6px;stroke-linejoin:round"><text x="0" y="89.5" transform="translate(2.00,-3.24) scale(1.0031,1.0350) translate(-3.96,0)">D</text><text x="0" y="89.5" transform="translate(79.00,0.00) scale(1.0360,1.0000) translate(-4.36,0)">ı</text><text x="0" y="89.5" transform="translate(110.00,0.00) scale(1.1037,1.0000) translate(-3.86,0)">m</text><text x="0" y="89.5" transform="translate(212.00,0.00) scale(1.0405,1.0000) translate(-1.06,0)">e</text><text x="0" y="89.5" transform="translate(278.00,0.00) scale(1.0316,1.0000) translate(-3.86,0)">n</text><text x="0" y="89.5" transform="translate(345.00,0.00) scale(0.8405,1.0000) translate(-0.66,0)">s</text><text x="0" y="89.5" transform="translate(400.00,0.00) scale(0.9867,1.0000) translate(-4.36,0)">ı</text><text x="0" y="89.5" transform="translate(430.00,0.00) scale(0.9283,1.0000) translate(-1.06,0)">o</text><text x="0" y="89.5" transform="translate(496.00,0.00) scale(1.0494,1.0000) translate(-3.86,0)">n</text><text x="0" y="89.5" transform="translate(587.50,-2.78) scale(1.0444,1.0300) translate(-1.27,0)">d</text><text x="0" y="89.5" transform="translate(660.00,0.00) scale(0.9726,1.0000) translate(-3.86,0)">r</text><text x="0" y="89.5" transform="translate(700.00,0.00) scale(0.9601,1.0000) translate(-0.05,0)">a</text><text x="0" y="89.5" transform="translate(759.00,0.00) scale(1.1785,1.0000) translate(3.30,0)">w</text><text x="0" y="89.5" transform="translate(869.00,0.00) scale(0.9867,1.0000) translate(-4.36,0)">ı</text><text x="0" y="89.5" transform="translate(899.00,0.00) scale(1.0494,1.0000) translate(-3.86,0)">n</text><text x="0" y="89.5" transform="translate(966.00,0.00) scale(1.0634,1.0000) translate(-1.27,0)">g</text></g><rect x="78.0" y="4.6" width="22.6" height="20.4" rx="5.5" fill="#0031a9"/><rect x="397.7" y="4.6" width="22.6" height="20.4" rx="5.5" fill="#0031a9"/><rect x="867.2" y="4.6" width="22.6" height="20.4" rx="5.5" fill="#0031a9"/><use href="#plate"/><path d="M221.5,272.0 C221.5,269.2 220.5,265.7 221.5,263.5 C222.5,261.3 225.5,259.0 227.5,259.0 C229.5,259.0 232.5,258.3 233.6,263.5 C234.7,268.7 233.8,278.6 233.8,290.0 C233.8,301.4 233.6,318.0 233.5,332.0" fill="none" stroke="#1c1c1c" stroke-width="8.4" stroke-linejoin="round"/><path d="M221.5,272.0 C221.5,269.2 220.5,265.7 221.5,263.5 C222.5,261.3 225.5,259.0 227.5,259.0 C229.5,259.0 232.5,258.3 233.6,263.5 C234.7,268.7 233.8,278.6 233.8,290.0 C233.8,301.4 233.6,318.0 233.5,332.0" fill="none" stroke="#505050" stroke-width="2.1" transform="translate(-0.8,-0.6)" opacity="0.7"/><path d="M273.2,268.0 C273.2,265.0 272.2,261.2 273.2,259.0 C274.2,256.8 277.3,255.0 279.4,255.0 C281.5,255.0 284.6,253.2 285.6,259.0 C286.6,264.8 285.9,279.2 285.6,290.0 C285.3,300.8 284.5,312.7 284.0,324.0" fill="none" stroke="#1c1c1c" stroke-width="8.4" stroke-linejoin="round"/><path d="M273.2,268.0 C273.2,265.0 272.2,261.2 273.2,259.0 C274.2,256.8 277.3,255.0 279.4,255.0 C281.5,255.0 284.6,253.2 285.6,259.0 C286.6,264.8 285.9,279.2 285.6,290.0 C285.3,300.8 284.5,312.7 284.0,324.0" fill="none" stroke="#505050" stroke-width="2.1" transform="translate(-0.8,-0.6)" opacity="0.7"/><use href="#brk"/><path d="M291.6,324.6 L291.2,327.9 L290.9,331.2 L290.6,334.6 L290.4,338.0 L290.4,341.5 L290.3,345.0 L290.4,348.6 L290.6,352.2 L290.8,355.8 L291.1,359.4 L291.5,363.0 L292.0,366.7 L292.5,370.4 L293.1,374.1 L293.8,377.8 L294.6,381.5 L295.4,385.2 L296.3,388.9 L297.3,392.6 L298.4,396.2 L299.5,399.9 L300.8,403.5 L302.0,407.1 L303.4,410.7 L304.8,414.3 L306.3,417.8 L307.9,421.2 L309.5,424.7 L311.3,428.0 L313.0,431.4 L314.9,434.7 L316.8,437.9 L318.7,441.1 L320.8,444.2 L322.9,447.3 L325.0,450.3 L327.2,453.2 L329.5,456.0 L331.9,458.8 L334.3,461.4 L336.8,464.0 L339.3,466.5 L341.9,468.9 L344.5,471.2 L347.3,473.4 L350.0,475.5 L352.9,477.5 L355.9,479.3 L358.8,481.0 L361.8,482.7 L364.9,484.3 L368.0,485.7 L371.1,487.0 L374.4,488.2 L377.6,489.3 L381.0,490.3 L384.3,491.1 L387.7,491.8 L391.2,492.4 L394.6,492.8 L398.0,493.1 L401.5,493.2 L404.9,493.3 L408.3,493.1 L411.6,492.7 L414.9,492.2 L418.2,491.6 L421.4,490.8 L424.5,489.9 L427.5,488.8 L430.5,487.5 L433.4,486.2 L436.1,484.6 L438.8,482.9 L441.4,481.1 L443.9,479.1 L446.3,476.9 L448.6,474.6 L450.9,472.1 L453.1,469.4 L455.2,466.7 L457.2,463.8 L459.1,460.8 L460.9,457.7 L462.6,454.5 L464.3,451.2 L465.8,447.9 L467.2,444.5 L468.5,441.1 L469.7,437.6 L470.8,434.1 L471.8,430.6 L472.6,427.0 L473.3,423.5 L473.9,420.0 L474.3,416.6 L474.7,413.2 L474.8,409.8 L474.9,406.5 L497.2,406.4 L497.2,410.6 L497.0,414.8 L496.6,419.0 L496.1,423.3 L495.4,427.5 L494.6,431.8 L493.6,436.1 L492.4,440.3 L491.1,444.6 L489.7,448.8 L488.1,452.9 L486.4,457.0 L484.5,461.1 L482.5,465.0 L480.2,468.9 L477.9,472.7 L475.4,476.4 L472.7,479.9 L469.9,483.3 L467.0,486.6 L463.9,489.8 L460.7,492.8 L457.3,495.6 L453.8,498.2 L450.1,500.6 L446.3,502.8 L442.5,504.7 L438.5,506.5 L434.5,508.0 L430.4,509.2 L426.3,510.3 L422.1,511.2 L417.9,511.9 L413.7,512.3 L409.5,512.6 L405.3,512.7 L401.0,512.7 L396.8,512.6 L392.6,512.2 L388.4,511.7 L384.2,511.0 L380.0,510.1 L375.9,509.1 L371.9,507.9 L367.9,506.6 L364.0,505.2 L360.1,503.5 L356.3,501.8 L352.6,499.9 L349.0,497.9 L345.5,495.7 L342.1,493.3 L338.8,490.9 L335.5,488.4 L332.3,485.8 L329.2,483.1 L326.2,480.3 L323.2,477.4 L320.4,474.4 L317.6,471.3 L314.9,468.1 L312.3,464.9 L309.8,461.6 L307.3,458.2 L304.9,454.7 L302.7,451.2 L300.5,447.7 L298.4,444.0 L296.4,440.3 L294.5,436.6 L292.6,432.8 L290.9,428.9 L289.3,425.0 L287.7,421.1 L286.2,417.2 L284.8,413.2 L283.5,409.2 L282.2,405.2 L281.1,401.2 L280.0,397.1 L279.1,393.1 L278.2,389.0 L277.4,384.9 L276.7,380.9 L276.1,376.8 L275.5,372.7 L275.1,368.7 L274.8,364.6 L274.5,360.6 L274.3,356.6 L274.3,352.6 L274.3,348.7 L274.4,344.8 L274.5,340.9 L274.8,337.0 L275.2,333.2 L275.6,329.5 L276.2,325.8 L276.8,322.1Z" fill="#2d2c2c"/><path d="M290.2,324.3 L289.7,327.6 L289.4,331.0 L289.1,334.4 L288.9,337.9 L288.8,341.4 L288.7,345.0 L288.8,348.6 L288.9,352.2 L289.1,355.8 L289.4,359.5 L289.8,363.2 L290.3,366.9 L290.8,370.6 L291.4,374.4 L292.1,378.1 L292.8,381.8 L293.7,385.6 L294.6,389.3 L295.6,393.0 L296.7,396.7 L297.8,400.4 L299.0,404.1 L300.3,407.7 L301.7,411.3 L303.1,414.9 L304.6,418.5 L306.2,422.0 L307.9,425.5 L309.6,428.9 L311.4,432.3 L313.2,435.6 L315.2,438.9 L317.1,442.1 L319.2,445.3 L321.3,448.4 L323.5,451.4 L325.7,454.3 L328.1,457.2 L330.4,460.0 L332.9,462.7 L335.4,465.4 L338.0,467.9 L340.6,470.3 L343.3,472.7 L346.1,474.9 L348.9,477.1 L351.8,479.1 L354.8,480.9 L357.8,482.7 L360.9,484.4 L364.0,486.0 L367.2,487.5 L370.4,488.8 L373.7,490.1 L377.1,491.2 L380.5,492.2 L383.9,493.0 L387.4,493.7 L390.9,494.3 L394.4,494.7 L397.9,495.0 L401.4,495.2 L404.9,495.2 L408.4,495.0 L411.8,494.7 L415.2,494.2 L418.6,493.6 L421.9,492.8 L425.1,491.8 L428.2,490.7 L431.3,489.4 L434.3,488.0 L437.1,486.4 L439.9,484.7 L442.6,482.8 L445.2,480.7 L447.7,478.5 L450.2,476.1 L452.5,473.5 L454.8,470.8 L456.9,468.0 L459.0,465.0 L461.0,462.0 L462.8,458.8 L464.6,455.5 L466.3,452.2 L467.8,448.8 L469.3,445.4 L470.6,441.8 L471.9,438.3 L473.0,434.7 L473.9,431.1 L474.8,427.5 L475.5,423.9 L476.1,420.4 L476.6,416.8 L476.9,413.3 L477.1,409.9 L477.1,406.5 L491.0,406.4 L490.9,410.3 L490.7,414.3 L490.4,418.3 L489.9,422.4 L489.2,426.4 L488.4,430.5 L487.5,434.5 L486.4,438.6 L485.1,442.6 L483.8,446.6 L482.3,450.6 L480.6,454.5 L478.8,458.3 L476.9,462.1 L474.8,465.8 L472.6,469.3 L470.3,472.8 L467.8,476.2 L465.2,479.4 L462.5,482.6 L459.6,485.5 L456.6,488.3 L453.5,490.9 L450.3,493.4 L446.9,495.6 L443.5,497.7 L439.9,499.5 L436.3,501.2 L432.5,502.6 L428.8,503.8 L424.9,504.9 L421.0,505.7 L417.1,506.4 L413.1,506.8 L409.1,507.1 L405.2,507.3 L401.1,507.3 L397.1,507.1 L393.1,506.8 L389.1,506.3 L385.2,505.6 L381.2,504.8 L377.3,503.8 L373.5,502.7 L369.7,501.5 L366.0,500.1 L362.3,498.5 L358.7,496.9 L355.2,495.1 L351.7,493.2 L348.4,491.1 L345.1,488.9 L341.9,486.6 L338.8,484.2 L335.7,481.7 L332.7,479.1 L329.8,476.4 L327.0,473.6 L324.3,470.7 L321.6,467.8 L319.0,464.7 L316.5,461.6 L314.0,458.4 L311.7,455.1 L309.4,451.8 L307.2,448.4 L305.0,444.9 L303.0,441.4 L301.0,437.8 L299.2,434.2 L297.4,430.5 L295.7,426.8 L294.0,423.0 L292.5,419.2 L291.0,415.4 L289.6,411.5 L288.3,407.6 L287.1,403.7 L285.9,399.8 L284.9,395.8 L283.9,391.9 L283.0,387.9 L282.2,384.0 L281.5,380.0 L280.8,376.0 L280.3,372.1 L279.8,368.1 L279.4,364.2 L279.1,360.3 L278.9,356.4 L278.8,352.5 L278.8,348.7 L278.8,344.8 L279.0,341.1 L279.2,337.3 L279.5,333.6 L279.9,330.0 L280.4,326.3 L281.0,322.8Z" fill="#3c3b3b" filter="url(#b1)"/><g filter="url(#b1)"><path d="M289.3,324.2 L289.0,325.8 L288.8,327.5 L288.6,329.2 L288.4,330.9 L288.3,332.6 L288.2,334.4 L288.0,336.1 L287.9,337.9 L287.9,339.6 L281.0,339.3 L281.1,337.4 L281.2,335.6 L281.4,333.8 L281.5,332.0 L281.7,330.2 L282.0,328.4 L282.2,326.6 L282.5,324.8 L282.8,323.1Z" fill="#48484a"/><path d="M287.9,337.9 L287.9,339.6 L287.8,341.4 L287.8,343.2 L287.8,345.0 L287.8,346.8 L287.8,348.6 L287.9,350.4 L287.9,352.2 L288.0,354.1 L280.8,354.4 L280.8,352.4 L280.7,350.5 L280.7,348.6 L280.7,346.8 L280.8,344.9 L280.8,343.0 L280.9,341.1 L281.0,339.3 L281.1,337.4Z" fill="#4b4b4d"/><path d="M287.9,352.2 L288.0,354.1 L288.2,355.9 L288.3,357.7 L288.4,359.6 L288.6,361.4 L288.8,363.3 L289.0,365.2 L289.3,367.0 L289.5,368.9 L282.1,369.8 L281.8,367.9 L281.6,365.9 L281.4,364.0 L281.3,362.1 L281.1,360.1 L281.0,358.2 L280.9,356.3 L280.8,354.4 L280.8,352.4Z" fill="#505052"/><path d="M289.3,367.0 L289.5,368.9 L289.8,370.8 L290.1,372.6 L290.4,374.5 L290.7,376.4 L291.1,378.3 L291.4,380.2 L291.8,382.0 L292.2,383.9 L284.7,385.5 L284.3,383.5 L283.9,381.6 L283.5,379.6 L283.2,377.7 L282.9,375.7 L282.6,373.8 L282.3,371.8 L282.1,369.8 L281.8,367.9Z" fill="#5b5b5d"/><path d="M291.8,382.0 L292.2,383.9 L292.6,385.8 L293.1,387.7 L293.6,389.5 L294.0,391.4 L294.6,393.3 L295.1,395.2 L295.6,397.0 L296.2,398.9 L288.6,401.1 L288.0,399.2 L287.5,397.2 L287.0,395.3 L286.5,393.3 L286.0,391.4 L285.5,389.4 L285.1,387.5 L284.7,385.5 L284.3,383.5Z" fill="#6c6c6e"/><path d="M295.6,397.0 L296.2,398.9 L296.8,400.7 L297.4,402.6 L298.0,404.4 L298.6,406.3 L299.3,408.1 L299.9,409.9 L300.6,411.7 L301.3,413.5 L293.8,416.5 L293.1,414.6 L292.4,412.7 L291.7,410.8 L291.0,408.9 L290.4,406.9 L289.8,405.0 L289.2,403.1 L288.6,401.1 L288.0,399.2Z" fill="#818183"/><path d="M300.6,411.7 L301.3,413.5 L302.1,415.4 L302.8,417.1 L303.6,418.9 L304.4,420.7 L305.2,422.5 L306.0,424.2 L306.8,426.0 L307.7,427.7 L300.3,431.3 L299.4,429.5 L298.5,427.7 L297.7,425.8 L296.9,424.0 L296.1,422.1 L295.3,420.3 L294.5,418.4 L293.8,416.5 L293.1,414.6Z" fill="#929294"/><path d="M306.8,426.0 L307.7,427.7 L308.6,429.4 L309.5,431.1 L310.4,432.8 L311.3,434.5 L312.2,436.2 L313.2,437.8 L314.2,439.5 L315.2,441.1 L308.0,445.5 L307.0,443.8 L306.0,442.0 L305.0,440.3 L304.0,438.5 L303.0,436.7 L302.1,435.0 L301.2,433.2 L300.3,431.3 L299.4,429.5Z" fill="#979799"/><path d="M314.2,439.5 L315.2,441.1 L316.2,442.7 L317.2,444.3 L318.2,445.9 L319.3,447.5 L320.4,449.0 L321.5,450.6 L322.6,452.1 L323.7,453.6 L317.0,458.6 L315.9,457.1 L314.7,455.5 L313.5,453.8 L312.4,452.2 L311.3,450.5 L310.2,448.9 L309.1,447.2 L308.0,445.5 L307.0,443.8Z" fill="#8e8e90"/><path d="M322.6,452.1 L323.7,453.6 L324.8,455.0 L326.0,456.5 L327.2,457.9 L328.4,459.4 L329.6,460.8 L330.8,462.1 L332.1,463.5 L333.3,464.8 L327.3,470.6 L325.9,469.2 L324.6,467.7 L323.3,466.3 L322.0,464.8 L320.7,463.3 L319.5,461.8 L318.3,460.2 L317.0,458.6 L315.9,457.1Z" fill="#7c7c7e"/><path d="M332.1,463.5 L333.3,464.8 L334.6,466.2 L335.9,467.4 L337.2,468.7 L338.5,470.0 L339.9,471.2 L341.2,472.4 L342.6,473.6 L344.0,474.7 L338.7,481.2 L337.2,480.0 L335.7,478.7 L334.3,477.4 L332.8,476.1 L331.4,474.8 L330.0,473.4 L328.6,472.0 L327.3,470.6 L325.9,469.2Z" fill="#676769"/><path d="M342.6,473.6 L344.0,474.7 L345.4,475.8 L346.8,476.9 L348.2,478.0 L349.7,479.0 L351.2,480.0 L352.7,481.0 L354.2,481.9 L355.7,482.8 L351.3,490.1 L349.6,489.1 L348.0,488.1 L346.4,487.0 L344.8,485.9 L343.3,484.7 L341.7,483.6 L340.2,482.4 L338.7,481.2 L337.2,480.0Z" fill="#575759"/><path d="M354.2,481.9 L355.7,482.8 L357.2,483.7 L358.8,484.6 L360.3,485.4 L361.9,486.3 L363.5,487.1 L365.1,487.8 L366.7,488.6 L368.3,489.3 L365.0,497.2 L363.2,496.4 L361.5,495.6 L359.7,494.8 L358.0,493.9 L356.3,493.0 L354.6,492.1 L352.9,491.1 L351.3,490.1 L349.6,489.1Z" fill="#4e4e50"/><path d="M366.7,488.6 L368.3,489.3 L370.0,489.9 L371.6,490.6 L373.3,491.2 L375.0,491.7 L376.7,492.3 L378.4,492.8 L380.2,493.3 L381.9,493.7 L379.9,502.1 L378.0,501.6 L376.1,501.1 L374.2,500.5 L372.3,499.9 L370.5,499.3 L368.6,498.6 L366.8,497.9 L365.0,497.2 L363.2,496.4Z" fill="#4a4a4c"/><path d="M380.2,493.3 L381.9,493.7 L383.7,494.1 L385.4,494.5 L387.2,494.9 L388.9,495.2 L390.7,495.5 L392.5,495.7 L394.3,495.9 L396.1,496.1 L395.3,504.6 L393.4,504.4 L391.4,504.2 L389.5,503.9 L387.5,503.6 L385.6,503.3 L383.7,502.9 L381.8,502.5 L379.9,502.1 L378.0,501.6Z" fill="#48484a"/><path d="M394.3,495.9 L396.1,496.1 L397.8,496.2 L399.6,496.3 L401.4,496.4 L403.2,496.4 L404.9,496.4 L406.7,496.3 L408.5,496.2 L410.2,496.1 L410.9,504.7 L409.0,504.8 L407.1,504.9 L405.1,505.0 L403.2,505.0 L401.2,504.9 L399.2,504.9 L397.3,504.8 L395.3,504.6 L393.4,504.4Z" fill="#48484a"/><path d="M408.5,496.2 L410.2,496.1 L412.0,495.9 L413.7,495.6 L415.4,495.4 L417.1,495.1 L418.8,494.7 L420.5,494.3 L422.2,493.9 L423.8,493.5 L426.2,502.0 L424.3,502.5 L422.4,503.0 L420.6,503.3 L418.6,503.7 L416.7,504.0 L414.8,504.3 L412.9,504.5 L410.9,504.7 L409.0,504.8Z" fill="#48484a"/><path d="M422.2,493.9 L423.8,493.5 L425.4,493.0 L427.1,492.4 L428.6,491.8 L430.2,491.2 L431.8,490.6 L433.3,489.9 L434.8,489.1 L436.3,488.3 L440.5,496.4 L438.8,497.3 L437.1,498.1 L435.3,498.9 L433.5,499.6 L431.7,500.3 L429.9,500.9 L428.0,501.5 L426.2,502.0 L424.3,502.5Z" fill="#48484a"/><path d="M434.8,489.1 L436.3,488.3 L437.8,487.5 L439.2,486.7 L440.6,485.8 L442.0,484.8 L443.4,483.8 L444.7,482.8 L446.0,481.7 L447.3,480.6 L453.4,487.7 L451.9,489.0 L450.4,490.2 L448.8,491.3 L447.2,492.5 L445.6,493.5 L443.9,494.5 L442.2,495.5 L440.5,496.4 L438.8,497.3Z" fill="#48484a"/><path d="M446.0,481.7 L447.3,480.6 L448.6,479.4 L449.8,478.2 L451.1,477.0 L452.3,475.7 L453.5,474.4 L454.6,473.0 L455.8,471.7 L456.9,470.2 L464.5,476.2 L463.2,477.8 L461.9,479.3 L460.6,480.8 L459.2,482.3 L457.8,483.7 L456.4,485.1 L454.9,486.4 L453.4,487.7 L451.9,489.0Z" fill="#48484a"/><path d="M455.8,471.7 L456.9,470.2 L458.0,468.8 L459.1,467.3 L460.1,465.8 L461.1,464.3 L462.1,462.7 L463.1,461.1 L464.0,459.5 L464.9,457.8 L473.5,462.6 L472.5,464.4 L471.5,466.2 L470.4,467.9 L469.2,469.6 L468.1,471.3 L466.9,473.0 L465.7,474.6 L464.5,476.2 L463.2,477.8Z" fill="#48484a"/><path d="M464.0,459.5 L464.9,457.8 L465.8,456.2 L466.6,454.5 L467.5,452.8 L468.3,451.1 L469.1,449.4 L469.8,447.6 L470.6,445.9 L471.3,444.1 L480.5,447.6 L479.7,449.6 L479.0,451.5 L478.1,453.4 L477.3,455.3 L476.4,457.1 L475.5,459.0 L474.5,460.8 L473.5,462.6 L472.5,464.4Z" fill="#48484a"/><path d="M470.6,445.9 L471.3,444.1 L471.9,442.3 L472.6,440.5 L473.2,438.7 L473.7,436.9 L474.3,435.1 L474.8,433.3 L475.2,431.5 L475.7,429.6 L485.3,431.9 L484.8,433.9 L484.3,435.9 L483.8,437.8 L483.2,439.8 L482.6,441.8 L481.9,443.7 L481.2,445.7 L480.5,447.6 L479.7,449.6Z" fill="#48484a"/><path d="M475.2,431.5 L475.7,429.6 L476.1,427.8 L476.5,426.0 L476.8,424.2 L477.1,422.4 L477.4,420.6 L477.7,418.8 L477.9,417.0 L478.1,415.2 L487.9,416.1 L487.7,418.0 L487.5,420.0 L487.2,422.0 L486.9,423.9 L486.6,425.9 L486.2,427.9 L485.8,429.9 L485.3,431.9 L484.8,433.9Z" fill="#48484a"/><path d="M477.9,417.0 L478.1,415.2 L478.2,413.4 L478.3,411.7 L478.4,409.9 L478.5,408.2 L478.5,406.5 L478.5,404.8 L488.3,404.6 L488.3,406.4 L488.3,408.3 L488.2,410.3 L488.2,412.2 L488.0,414.1 L487.9,416.1 L487.7,418.0Z" fill="#48484a"/></g><ellipse cx="486.0" cy="404.6" rx="11.1" ry="5.6" transform="rotate(3.0 486.0 404.6)" fill="url(#capg)"/><path d="M241.3,330.9 L241.3,335.0 L241.4,339.1 L241.5,343.1 L241.7,347.2 L241.9,351.2 L242.2,355.2 L242.5,359.2 L242.8,363.2 L243.2,367.1 L243.6,371.1 L244.1,375.0 L244.6,378.8 L245.1,382.7 L245.7,386.5 L246.4,390.3 L247.1,394.1 L247.9,397.9 L248.7,401.6 L249.6,405.3 L250.6,409.0 L251.6,412.6 L252.7,416.2 L253.9,419.8 L255.1,423.4 L256.4,426.9 L257.8,430.4 L259.2,433.9 L260.8,437.3 L262.4,440.7 L264.1,444.1 L265.8,447.4 L267.7,450.7 L269.6,454.0 L271.6,457.2 L273.7,460.4 L275.8,463.6 L278.1,466.7 L280.4,469.8 L282.8,472.9 L285.3,475.9 L287.8,478.9 L290.4,481.8 L293.1,484.7 L295.8,487.4 L298.6,490.1 L301.5,492.7 L304.5,495.1 L307.5,497.4 L310.5,499.7 L313.5,501.8 L316.6,503.8 L319.8,505.7 L323.0,507.4 L326.2,508.9 L329.5,510.3 L332.8,511.5 L336.1,512.6 L339.4,513.6 L342.8,514.3 L346.1,515.0 L349.5,515.4 L352.9,515.7 L356.3,515.8 L359.6,515.7 L363.0,515.5 L366.2,515.1 L369.4,514.5 L372.6,513.7 L375.6,512.8 L378.6,511.6 L381.4,510.3 L384.2,508.8 L386.8,507.1 L389.3,505.2 L391.7,503.2 L394.0,501.0 L396.2,498.6 L398.3,496.0 L400.4,493.2 L402.4,490.3 L404.3,487.2 L406.2,483.9 L407.9,480.5 L409.5,477.1 L411.1,473.5 L412.6,469.8 L413.9,466.1 L415.2,462.4 L416.4,458.7 L417.6,454.9 L418.6,451.2 L419.6,447.4 L420.5,443.7 L421.4,440.0 L422.1,436.4 L422.8,432.8 L423.4,429.2 L423.9,425.8 L424.4,422.4 L448.8,425.2 L448.4,428.9 L447.9,432.8 L447.3,436.7 L446.7,440.8 L446.0,444.9 L445.2,449.1 L444.2,453.3 L443.2,457.6 L442.1,461.9 L440.8,466.3 L439.4,470.6 L437.8,474.9 L436.1,479.3 L434.2,483.5 L432.3,487.8 L430.1,492.0 L427.8,496.1 L425.4,500.1 L422.8,504.0 L420.0,507.8 L417.0,511.5 L413.8,514.9 L410.4,518.2 L406.8,521.2 L403.0,524.0 L399.1,526.5 L395.1,528.8 L391.0,530.7 L386.8,532.4 L382.6,533.9 L378.3,535.1 L373.9,536.1 L369.5,536.9 L365.1,537.4 L360.6,537.7 L356.1,537.8 L351.6,537.7 L347.2,537.3 L342.7,536.7 L338.3,535.9 L333.9,534.9 L329.6,533.6 L325.3,532.2 L321.1,530.5 L317.0,528.7 L313.0,526.6 L309.1,524.4 L305.3,522.1 L301.5,519.7 L297.8,517.1 L294.3,514.4 L290.8,511.5 L287.4,508.5 L284.2,505.5 L281.0,502.3 L277.9,499.1 L274.8,495.9 L271.9,492.5 L269.1,489.1 L266.4,485.6 L263.8,482.1 L261.3,478.5 L259.0,474.9 L256.7,471.2 L254.5,467.6 L252.4,463.9 L250.4,460.1 L248.5,456.4 L246.7,452.6 L244.9,448.8 L243.3,445.0 L241.7,441.1 L240.2,437.2 L238.8,433.4 L237.5,429.4 L236.2,425.5 L235.0,421.6 L233.9,417.6 L232.9,413.6 L231.9,409.6 L231.1,405.5 L230.2,401.5 L229.5,397.4 L228.8,393.4 L228.1,389.3 L227.6,385.2 L227.1,381.0 L226.6,376.9 L226.2,372.7 L225.9,368.6 L225.7,364.4 L225.5,360.2 L225.4,356.0 L225.3,351.8 L225.3,347.6 L225.3,343.3 L225.4,339.1 L225.5,334.9 L225.7,330.6Z" fill="#2d2c2c"/><path d="M239.7,330.9 L239.7,335.0 L239.8,339.1 L239.9,343.2 L240.0,347.2 L240.2,351.3 L240.5,355.3 L240.8,359.3 L241.1,363.3 L241.5,367.3 L241.9,371.2 L242.3,375.2 L242.8,379.1 L243.4,382.9 L244.0,386.8 L244.6,390.6 L245.3,394.5 L246.1,398.2 L246.9,402.0 L247.8,405.7 L248.8,409.4 L249.9,413.1 L251.0,416.8 L252.1,420.4 L253.4,424.0 L254.7,427.6 L256.0,431.1 L257.5,434.6 L259.0,438.1 L260.6,441.5 L262.3,444.9 L264.1,448.3 L265.9,451.6 L267.9,455.0 L269.9,458.2 L272.0,461.5 L274.1,464.7 L276.4,467.9 L278.7,471.0 L281.2,474.2 L283.7,477.2 L286.2,480.2 L288.9,483.2 L291.6,486.1 L294.3,488.9 L297.2,491.6 L300.1,494.2 L303.1,496.7 L306.2,499.1 L309.2,501.4 L312.3,503.6 L315.5,505.7 L318.7,507.6 L322.0,509.3 L325.3,510.9 L328.7,512.3 L332.0,513.6 L335.4,514.7 L338.9,515.7 L342.3,516.5 L345.8,517.1 L349.3,517.6 L352.8,517.9 L356.3,518.0 L359.7,517.9 L363.2,517.7 L366.6,517.3 L369.9,516.7 L373.1,515.9 L376.3,514.9 L379.4,513.7 L382.4,512.3 L385.3,510.8 L388.1,509.0 L390.7,507.1 L393.2,505.0 L395.6,502.7 L398.0,500.2 L400.2,497.5 L402.4,494.7 L404.4,491.6 L406.4,488.4 L408.3,485.1 L410.1,481.7 L411.8,478.1 L413.4,474.5 L414.9,470.8 L416.3,467.0 L417.6,463.2 L418.9,459.4 L420.0,455.6 L421.1,451.8 L422.1,448.0 L423.0,444.2 L423.8,440.5 L424.6,436.8 L425.3,433.2 L425.8,429.6 L426.4,426.1 L426.8,422.7 L441.9,424.4 L441.5,428.0 L441.0,431.8 L440.5,435.6 L439.8,439.5 L439.1,443.5 L438.3,447.6 L437.4,451.7 L436.3,455.8 L435.2,460.0 L434.0,464.1 L432.6,468.3 L431.1,472.5 L429.5,476.6 L427.8,480.7 L425.9,484.8 L423.9,488.8 L421.8,492.7 L419.5,496.5 L417.1,500.2 L414.5,503.7 L411.7,507.1 L408.9,510.3 L405.8,513.4 L402.6,516.2 L399.2,518.8 L395.7,521.1 L392.1,523.2 L388.3,525.0 L384.5,526.6 L380.6,528.0 L376.7,529.1 L372.6,530.1 L368.6,530.8 L364.5,531.3 L360.3,531.6 L356.2,531.6 L352.0,531.5 L347.8,531.2 L343.7,530.6 L339.6,529.9 L335.5,528.9 L331.4,527.8 L327.4,526.4 L323.5,524.9 L319.6,523.1 L315.8,521.2 L312.1,519.2 L308.5,517.0 L304.9,514.7 L301.4,512.2 L298.0,509.6 L294.6,506.9 L291.4,504.1 L288.2,501.2 L285.1,498.2 L282.1,495.1 L279.2,491.9 L276.4,488.7 L273.6,485.4 L271.0,482.0 L268.5,478.6 L266.0,475.2 L263.7,471.7 L261.4,468.2 L259.3,464.7 L257.2,461.1 L255.2,457.5 L253.3,453.9 L251.5,450.2 L249.8,446.5 L248.2,442.8 L246.6,439.1 L245.1,435.3 L243.7,431.6 L242.4,427.7 L241.2,423.9 L240.0,420.1 L238.9,416.2 L237.9,412.3 L236.9,408.4 L236.0,404.4 L235.2,400.5 L234.4,396.5 L233.7,392.5 L233.1,388.5 L232.5,384.5 L232.0,380.4 L231.5,376.4 L231.1,372.3 L230.8,368.2 L230.5,364.1 L230.3,359.9 L230.1,355.8 L230.0,351.6 L229.9,347.5 L229.9,343.3 L229.9,339.1 L229.9,334.9 L230.0,330.7Z" fill="#3c3b3b" filter="url(#b1)"/><g filter="url(#b1)"><path d="M238.8,330.8 L238.8,332.9 L238.8,335.0 L238.8,337.0 L238.8,339.1 L238.9,341.1 L238.9,343.2 L239.0,345.2 L239.1,347.3 L239.2,349.3 L231.9,349.5 L231.9,347.4 L231.8,345.3 L231.8,343.3 L231.8,341.2 L231.8,339.1 L231.8,337.0 L231.8,334.9 L231.9,332.8 L231.9,330.7Z" fill="#48484a"/><path d="M239.1,347.3 L239.2,349.3 L239.2,351.3 L239.4,353.3 L239.5,355.4 L239.6,357.4 L239.8,359.4 L239.9,361.4 L240.1,363.4 L240.3,365.4 L232.7,366.0 L232.5,363.9 L232.4,361.9 L232.3,359.8 L232.2,357.8 L232.1,355.7 L232.0,353.6 L232.0,351.6 L231.9,349.5 L231.9,347.4Z" fill="#49494b"/><path d="M240.1,363.4 L240.3,365.4 L240.4,367.4 L240.7,369.4 L240.9,371.3 L241.1,373.3 L241.3,375.3 L241.5,377.2 L241.8,379.2 L242.0,381.1 L234.3,382.2 L234.1,380.2 L233.8,378.1 L233.6,376.1 L233.4,374.1 L233.2,372.1 L233.0,370.0 L232.8,368.0 L232.7,366.0 L232.5,363.9Z" fill="#4c4c4e"/><path d="M241.8,379.2 L242.0,381.1 L242.3,383.1 L242.6,385.0 L242.9,387.0 L243.2,388.9 L243.6,390.8 L243.9,392.7 L244.3,394.7 L244.6,396.6 L236.9,398.1 L236.5,396.1 L236.2,394.1 L235.8,392.2 L235.5,390.2 L235.2,388.2 L234.9,386.2 L234.6,384.2 L234.3,382.2 L234.1,380.2Z" fill="#525254"/><path d="M244.3,394.7 L244.6,396.6 L245.0,398.5 L245.5,400.4 L245.9,402.2 L246.3,404.1 L246.8,406.0 L247.3,407.9 L247.8,409.7 L248.3,411.6 L240.5,413.7 L240.0,411.7 L239.5,409.8 L239.0,407.9 L238.6,405.9 L238.1,404.0 L237.7,402.0 L237.3,400.1 L236.9,398.1 L236.5,396.1Z" fill="#5c5c5e"/><path d="M247.8,409.7 L248.3,411.6 L248.8,413.4 L249.3,415.3 L249.9,417.1 L250.5,418.9 L251.1,420.7 L251.7,422.5 L252.3,424.4 L252.9,426.2 L245.2,428.9 L244.5,427.0 L243.9,425.1 L243.3,423.2 L242.7,421.3 L242.1,419.4 L241.5,417.5 L241.0,415.6 L240.5,413.7 L240.0,411.7Z" fill="#6a6a6c"/><path d="M252.3,424.4 L252.9,426.2 L253.6,427.9 L254.3,429.7 L255.0,431.5 L255.7,433.3 L256.4,435.0 L257.2,436.8 L258.0,438.5 L258.8,440.3 L251.1,443.7 L250.3,441.9 L249.5,440.1 L248.7,438.2 L248.0,436.4 L247.2,434.5 L246.5,432.6 L245.8,430.8 L245.2,428.9 L244.5,427.0Z" fill="#78787a"/><path d="M258.0,438.5 L258.8,440.3 L259.6,442.0 L260.4,443.7 L261.3,445.4 L262.2,447.1 L263.1,448.8 L264.0,450.5 L264.9,452.2 L265.9,453.9 L258.3,458.1 L257.3,456.4 L256.3,454.6 L255.4,452.8 L254.5,451.0 L253.6,449.2 L252.8,447.4 L251.9,445.6 L251.1,443.7 L250.3,441.9Z" fill="#828284"/><path d="M264.9,452.2 L265.9,453.9 L266.8,455.6 L267.8,457.2 L268.9,458.9 L269.9,460.5 L270.9,462.1 L272.0,463.8 L273.1,465.4 L274.3,467.0 L266.9,472.1 L265.7,470.4 L264.6,468.6 L263.5,466.9 L262.4,465.2 L261.3,463.4 L260.3,461.7 L259.3,459.9 L258.3,458.1 L257.3,456.4Z" fill="#838385"/><path d="M273.1,465.4 L274.3,467.0 L275.4,468.6 L276.6,470.2 L277.8,471.8 L279.0,473.4 L280.2,474.9 L281.4,476.5 L282.7,478.0 L284.0,479.5 L276.9,485.4 L275.6,483.8 L274.3,482.2 L273.0,480.5 L271.7,478.8 L270.5,477.2 L269.2,475.5 L268.0,473.8 L266.9,472.1 L265.7,470.4Z" fill="#7b7b7d"/><path d="M282.7,478.0 L284.0,479.5 L285.3,481.0 L286.6,482.6 L287.9,484.0 L289.3,485.5 L290.7,487.0 L292.0,488.4 L293.4,489.8 L294.9,491.2 L288.4,497.9 L286.9,496.4 L285.4,494.9 L284.0,493.3 L282.5,491.8 L281.1,490.2 L279.7,488.7 L278.3,487.1 L276.9,485.4 L275.6,483.8Z" fill="#6d6d6f"/><path d="M293.4,489.8 L294.9,491.2 L296.3,492.6 L297.8,493.9 L299.3,495.2 L300.8,496.5 L302.3,497.7 L303.8,498.9 L305.4,500.1 L306.9,501.3 L301.2,508.9 L299.5,507.6 L297.9,506.3 L296.3,504.9 L294.7,503.6 L293.1,502.2 L291.5,500.8 L290.0,499.3 L288.4,497.9 L286.9,496.4Z" fill="#5f5f61"/><path d="M305.4,500.1 L306.9,501.3 L308.5,502.5 L310.0,503.6 L311.6,504.7 L313.2,505.7 L314.8,506.8 L316.5,507.7 L318.1,508.7 L319.7,509.6 L315.2,518.0 L313.4,516.9 L311.6,515.9 L309.8,514.8 L308.1,513.7 L306.3,512.5 L304.6,511.3 L302.9,510.1 L301.2,508.9 L299.5,507.6Z" fill="#545456"/><path d="M318.1,508.7 L319.7,509.6 L321.4,510.4 L323.1,511.3 L324.8,512.1 L326.5,512.8 L328.2,513.5 L329.9,514.2 L331.6,514.8 L333.3,515.4 L330.2,524.6 L328.3,523.9 L326.4,523.2 L324.5,522.4 L322.6,521.6 L320.7,520.8 L318.8,519.9 L317.0,518.9 L315.2,518.0 L313.4,516.9Z" fill="#4d4d4f"/><path d="M331.6,514.8 L333.3,515.4 L335.0,516.0 L336.8,516.5 L338.5,517.0 L340.3,517.4 L342.1,517.8 L343.8,518.1 L345.6,518.4 L347.4,518.7 L346.1,528.3 L344.1,528.0 L342.1,527.7 L340.1,527.3 L338.1,526.8 L336.1,526.3 L334.1,525.8 L332.2,525.2 L330.2,524.6 L328.3,523.9Z" fill="#4a4a4c"/><path d="M345.6,518.4 L347.4,518.7 L349.2,518.9 L350.9,519.1 L352.7,519.2 L354.5,519.3 L356.3,519.3 L358.0,519.3 L359.8,519.3 L361.6,519.2 L362.2,528.8 L360.2,528.9 L358.2,529.0 L356.2,529.0 L354.2,529.0 L352.2,528.9 L350.1,528.7 L348.1,528.5 L346.1,528.3 L344.1,528.0Z" fill="#48484a"/><path d="M359.8,519.3 L361.6,519.2 L363.3,519.0 L365.0,518.8 L366.8,518.6 L368.5,518.3 L370.2,518.0 L371.8,517.6 L373.5,517.2 L375.1,516.7 L377.9,526.0 L376.0,526.6 L374.1,527.1 L372.1,527.5 L370.2,527.9 L368.2,528.2 L366.2,528.4 L364.2,528.7 L362.2,528.8 L360.2,528.9Z" fill="#48484a"/><path d="M373.5,517.2 L375.1,516.7 L376.7,516.1 L378.3,515.6 L379.9,515.0 L381.5,514.3 L383.0,513.6 L384.5,512.8 L385.9,512.0 L387.4,511.1 L392.5,519.8 L390.8,520.8 L389.0,521.7 L387.2,522.6 L385.4,523.4 L383.5,524.1 L381.7,524.8 L379.8,525.5 L377.9,526.0 L376.0,526.6Z" fill="#48484a"/><path d="M385.9,512.0 L387.4,511.1 L388.8,510.2 L390.2,509.2 L391.5,508.2 L392.8,507.2 L394.1,506.1 L395.4,505.0 L396.6,503.8 L397.8,502.5 L405.3,509.9 L403.8,511.3 L402.3,512.7 L400.8,514.0 L399.2,515.3 L397.6,516.5 L395.9,517.7 L394.2,518.8 L392.5,519.8 L390.8,520.8Z" fill="#48484a"/><path d="M396.6,503.8 L397.8,502.5 L399.0,501.2 L400.2,499.9 L401.3,498.5 L402.4,497.0 L403.5,495.5 L404.6,494.0 L405.7,492.5 L406.7,490.9 L415.8,496.8 L414.6,498.5 L413.4,500.3 L412.1,502.0 L410.8,503.6 L409.5,505.3 L408.1,506.9 L406.7,508.4 L405.3,509.9 L403.8,511.3Z" fill="#48484a"/><path d="M405.7,492.5 L406.7,490.9 L407.7,489.2 L408.7,487.6 L409.6,485.9 L410.5,484.1 L411.4,482.4 L412.3,480.6 L413.2,478.8 L414.0,476.9 L424.1,481.5 L423.2,483.5 L422.2,485.5 L421.2,487.4 L420.2,489.3 L419.2,491.2 L418.1,493.1 L417.0,494.9 L415.8,496.8 L414.6,498.5Z" fill="#48484a"/><path d="M413.2,478.8 L414.0,476.9 L414.8,475.1 L415.6,473.2 L416.3,471.3 L417.0,469.4 L417.7,467.5 L418.4,465.6 L419.1,463.7 L419.7,461.8 L430.4,465.3 L429.7,467.3 L429.0,469.4 L428.3,471.4 L427.5,473.5 L426.7,475.5 L425.9,477.5 L425.0,479.5 L424.1,481.5 L423.2,483.5Z" fill="#48484a"/><path d="M419.1,463.7 L419.7,461.8 L420.3,459.9 L420.9,458.0 L421.5,456.0 L422.0,454.1 L422.6,452.2 L423.1,450.3 L423.6,448.4 L424.0,446.5 L434.9,448.9 L434.4,451.0 L433.9,453.0 L433.4,455.0 L432.8,457.1 L432.3,459.1 L431.7,461.2 L431.0,463.2 L430.4,465.3 L429.7,467.3Z" fill="#48484a"/><path d="M423.6,448.4 L424.0,446.5 L424.5,444.6 L424.9,442.7 L425.3,440.8 L425.7,438.9 L426.1,437.1 L426.4,435.2 L426.7,433.4 L427.0,431.6 L437.8,433.2 L437.5,435.2 L437.2,437.1 L436.9,439.0 L436.5,441.0 L436.1,442.9 L435.7,444.9 L435.3,446.9 L434.9,448.9 L434.4,451.0Z" fill="#48484a"/><path d="M426.7,433.4 L427.0,431.6 L427.3,429.8 L427.6,428.0 L427.8,426.3 L428.1,424.5 L428.3,422.8 L428.5,421.2 L439.2,422.3 L439.0,424.1 L438.8,425.8 L438.6,427.7 L438.4,429.5 L438.1,431.4 L437.8,433.2 L437.5,435.2Z" fill="#48484a"/></g><ellipse cx="436.8" cy="422.0" rx="12.2" ry="5.8" transform="rotate(4.0 436.8 422.0)" fill="url(#capg)"/><use href="#plate" transform="translate(252.3,695.4) rotate(2) scale(1.107,1.06) translate(-244.2,-208.5)"/><path d="M225.7,764.0 C225.7,760.7 224.8,756.5 225.7,754.0 C226.6,751.5 229.3,749.0 231.2,749.0 C233.0,749.0 235.9,747.2 236.8,754.0 C237.7,760.8 236.9,776.8 236.8,790.0 C236.7,803.2 236.4,818.7 236.2,833.0" fill="none" stroke="#1c1c1c" stroke-width="8.6" stroke-linejoin="round"/><path d="M225.7,764.0 C225.7,760.7 224.8,756.5 225.7,754.0 C226.6,751.5 229.3,749.0 231.2,749.0 C233.0,749.0 235.9,747.2 236.8,754.0 C237.7,760.8 236.9,776.8 236.8,790.0 C236.7,803.2 236.4,818.7 236.2,833.0" fill="none" stroke="#505050" stroke-width="2.1" transform="translate(-0.8,-0.6)" opacity="0.7"/><path d="M281.9,760.0 C281.9,756.8 280.8,752.9 281.9,750.5 C283.0,748.1 286.1,745.5 288.3,745.5 C290.5,745.5 293.7,743.1 294.8,750.5 C295.9,757.9 295.3,778.1 294.8,790.0 C294.3,801.9 292.9,811.3 292.0,822.0" fill="none" stroke="#1c1c1c" stroke-width="8.6" stroke-linejoin="round"/><path d="M281.9,760.0 C281.9,756.8 280.8,752.9 281.9,750.5 C283.0,748.1 286.1,745.5 288.3,745.5 C290.5,745.5 293.7,743.1 294.8,750.5 C295.9,757.9 295.3,778.1 294.8,790.0 C294.3,801.9 292.9,811.3 292.0,822.0" fill="none" stroke="#505050" stroke-width="2.1" transform="translate(-0.8,-0.6)" opacity="0.7"/><use href="#brk" transform="translate(252.3,695.4) rotate(2) scale(1.107,1.06) translate(-244.2,-208.5)"/><path d="M299.6,821.8 L299.3,824.8 L299.2,827.7 L299.0,830.7 L298.9,833.7 L298.9,836.8 L298.9,839.8 L299.0,842.9 L299.1,846.0 L299.3,849.1 L299.6,852.3 L299.9,855.4 L300.3,858.6 L300.8,861.7 L301.3,864.8 L301.8,868.0 L302.4,871.1 L303.1,874.3 L303.8,877.4 L304.5,880.5 L305.3,883.6 L306.2,886.7 L307.1,889.7 L308.1,892.8 L309.2,895.8 L310.3,898.7 L311.4,901.7 L312.7,904.6 L313.9,907.4 L315.3,910.3 L316.7,913.0 L318.1,915.8 L319.6,918.4 L321.2,921.1 L322.8,923.7 L324.4,926.2 L326.1,928.7 L327.9,931.1 L329.7,933.5 L331.6,935.8 L333.6,938.0 L335.6,940.2 L337.6,942.3 L339.7,944.3 L341.9,946.2 L344.1,948.1 L346.4,949.9 L348.8,951.6 L351.2,953.2 L353.6,954.8 L356.2,956.2 L358.8,957.6 L361.4,958.9 L364.2,960.1 L366.9,961.1 L369.8,962.1 L372.6,963.0 L375.5,963.8 L378.4,964.4 L381.3,964.9 L384.2,965.2 L387.0,965.4 L389.8,965.4 L392.5,965.3 L395.2,965.0 L397.7,964.6 L400.2,964.0 L402.5,963.3 L404.8,962.4 L406.9,961.3 L409.0,960.1 L411.0,958.7 L413.1,957.1 L415.1,955.3 L417.1,953.4 L419.0,951.3 L420.9,949.1 L422.8,946.8 L424.7,944.4 L426.6,941.9 L428.3,939.3 L430.1,936.7 L431.8,934.0 L433.4,931.3 L435.0,928.6 L436.5,925.8 L438.0,923.0 L439.4,920.1 L440.8,917.3 L442.0,914.4 L443.2,911.6 L444.4,908.8 L445.4,905.9 L446.3,903.1 L447.2,900.4 L448.0,897.6 L448.7,894.8 L449.2,892.1 L449.7,889.4 L450.1,886.7 L469.0,888.8 L468.6,892.2 L468.0,895.6 L467.4,899.0 L466.6,902.3 L465.7,905.7 L464.7,909.0 L463.7,912.3 L462.5,915.5 L461.3,918.8 L460.0,922.0 L458.6,925.3 L457.2,928.5 L455.7,931.7 L454.1,935.0 L452.4,938.2 L450.7,941.3 L448.8,944.5 L446.9,947.5 L444.9,950.6 L442.8,953.6 L440.6,956.5 L438.3,959.3 L435.9,962.1 L433.4,964.8 L430.8,967.4 L428.0,969.9 L425.1,972.3 L422.1,974.5 L418.9,976.5 L415.5,978.3 L412.0,979.9 L408.4,981.2 L404.7,982.2 L401.0,982.9 L397.3,983.4 L393.6,983.7 L389.8,983.7 L386.1,983.6 L382.3,983.2 L378.6,982.7 L375.0,982.1 L371.3,981.3 L367.7,980.3 L364.2,979.2 L360.7,978.0 L357.3,976.7 L353.9,975.2 L350.7,973.7 L347.5,972.0 L344.4,970.2 L341.4,968.3 L338.4,966.3 L335.6,964.3 L332.8,962.1 L330.1,959.8 L327.5,957.5 L325.0,955.1 L322.5,952.6 L320.1,950.0 L317.9,947.4 L315.6,944.7 L313.5,941.9 L311.4,939.1 L309.5,936.2 L307.6,933.3 L305.7,930.3 L304.0,927.2 L302.4,924.1 L300.8,921.0 L299.3,917.8 L297.9,914.6 L296.5,911.3 L295.2,908.0 L294.0,904.7 L292.9,901.4 L291.8,898.0 L290.8,894.6 L289.9,891.2 L289.0,887.8 L288.2,884.4 L287.4,881.0 L286.8,877.5 L286.2,874.1 L285.6,870.6 L285.2,867.1 L284.8,863.7 L284.5,860.2 L284.3,856.8 L284.1,853.4 L283.9,850.0 L283.8,846.6 L283.8,843.2 L283.8,839.8 L283.9,836.5 L284.0,833.2 L284.2,829.9 L284.5,826.6 L284.8,823.4 L285.2,820.2Z" fill="#2d2c2c"/><path d="M298.2,821.7 L297.9,824.6 L297.7,827.6 L297.5,830.6 L297.4,833.7 L297.4,836.7 L297.4,839.8 L297.5,842.9 L297.6,846.1 L297.8,849.2 L298.0,852.4 L298.4,855.5 L298.7,858.7 L299.2,861.9 L299.7,865.1 L300.2,868.3 L300.8,871.4 L301.4,874.6 L302.1,877.7 L302.9,880.9 L303.7,884.0 L304.6,887.1 L305.5,890.2 L306.5,893.3 L307.5,896.3 L308.7,899.3 L309.8,902.3 L311.0,905.2 L312.3,908.2 L313.7,911.0 L315.1,913.8 L316.6,916.6 L318.1,919.3 L319.7,922.0 L321.3,924.6 L322.9,927.2 L324.7,929.7 L326.5,932.2 L328.3,934.6 L330.2,937.0 L332.2,939.2 L334.2,941.4 L336.3,943.6 L338.5,945.6 L340.7,947.6 L343.0,949.5 L345.3,951.3 L347.7,953.1 L350.2,954.7 L352.7,956.3 L355.3,957.8 L358.0,959.2 L360.7,960.5 L363.5,961.7 L366.3,962.8 L369.2,963.8 L372.2,964.7 L375.1,965.5 L378.1,966.2 L381.1,966.7 L384.0,967.0 L386.9,967.2 L389.8,967.2 L392.6,967.1 L395.4,966.9 L398.1,966.4 L400.6,965.8 L403.1,965.1 L405.5,964.1 L407.7,963.0 L410.0,961.7 L412.1,960.3 L414.3,958.6 L416.4,956.8 L418.4,954.8 L420.5,952.7 L422.4,950.4 L424.4,948.0 L426.3,945.6 L428.2,943.0 L430.0,940.4 L431.8,937.8 L433.5,935.1 L435.1,932.3 L436.7,929.5 L438.3,926.7 L439.8,923.8 L441.2,921.0 L442.5,918.1 L443.8,915.2 L445.0,912.3 L446.2,909.4 L447.2,906.6 L448.2,903.7 L449.1,900.9 L449.8,898.1 L450.5,895.3 L451.1,892.5 L451.6,889.7 L452.0,886.9 L463.7,888.2 L463.3,891.4 L462.8,894.6 L462.1,897.8 L461.4,901.0 L460.5,904.2 L459.6,907.3 L458.6,910.5 L457.4,913.6 L456.2,916.8 L455.0,919.9 L453.6,923.0 L452.2,926.2 L450.7,929.3 L449.2,932.4 L447.5,935.5 L445.8,938.5 L444.0,941.5 L442.2,944.5 L440.2,947.4 L438.2,950.3 L436.2,953.1 L434.0,955.8 L431.7,958.5 L429.4,961.0 L427.0,963.5 L424.4,965.8 L421.8,968.0 L419.0,970.1 L416.1,971.9 L413.1,973.6 L410.0,975.0 L406.8,976.2 L403.5,977.1 L400.1,977.8 L396.7,978.3 L393.3,978.5 L389.8,978.6 L386.3,978.5 L382.9,978.2 L379.4,977.7 L375.9,977.1 L372.5,976.4 L369.1,975.5 L365.7,974.4 L362.4,973.3 L359.2,972.0 L356.0,970.6 L352.9,969.2 L349.9,967.6 L347.0,965.9 L344.1,964.1 L341.3,962.2 L338.6,960.2 L336.0,958.2 L333.4,956.0 L330.9,953.8 L328.5,951.5 L326.2,949.1 L323.9,946.7 L321.7,944.1 L319.6,941.6 L317.5,938.9 L315.6,936.2 L313.7,933.4 L311.8,930.6 L310.1,927.7 L308.4,924.8 L306.8,921.8 L305.2,918.7 L303.8,915.7 L302.4,912.6 L301.0,909.4 L299.8,906.2 L298.6,903.0 L297.4,899.8 L296.4,896.5 L295.4,893.3 L294.4,890.0 L293.6,886.6 L292.8,883.3 L292.0,880.0 L291.3,876.6 L290.7,873.2 L290.2,869.9 L289.7,866.5 L289.3,863.1 L288.9,859.8 L288.6,856.4 L288.4,853.1 L288.2,849.7 L288.1,846.4 L288.0,843.1 L288.0,839.8 L288.1,836.6 L288.2,833.3 L288.4,830.1 L288.6,826.9 L288.9,823.8 L289.2,820.7Z" fill="#3c3b3b" filter="url(#b1)"/><g filter="url(#b1)"><path d="M297.3,821.6 L297.1,823.1 L297.0,824.5 L296.9,826.0 L296.8,827.5 L296.7,829.0 L296.6,830.6 L296.6,832.1 L296.5,833.6 L296.5,835.2 L289.9,835.0 L290.0,833.4 L290.1,831.8 L290.1,830.2 L290.2,828.6 L290.4,827.1 L290.5,825.5 L290.6,823.9 L290.8,822.4 L290.9,820.9Z" fill="#4b4b4d"/><path d="M296.5,833.6 L296.5,835.2 L296.5,836.7 L296.5,838.3 L296.5,839.8 L296.5,841.4 L296.6,843.0 L296.6,844.5 L296.7,846.1 L296.8,847.7 L290.0,848.0 L289.9,846.3 L289.9,844.7 L289.9,843.1 L289.8,841.4 L289.8,839.8 L289.9,838.2 L289.9,836.6 L289.9,835.0 L290.0,833.4Z" fill="#4f4f51"/><path d="M296.7,846.1 L296.8,847.7 L296.9,849.3 L297.0,850.9 L297.1,852.4 L297.2,854.0 L297.4,855.6 L297.6,857.2 L297.8,858.8 L298.0,860.4 L291.0,861.2 L290.8,859.6 L290.7,857.9 L290.5,856.2 L290.4,854.6 L290.3,852.9 L290.2,851.3 L290.1,849.6 L290.0,848.0 L289.9,846.3Z" fill="#575759"/><path d="M297.8,858.8 L298.0,860.4 L298.2,862.0 L298.5,863.6 L298.7,865.2 L299.0,866.8 L299.2,868.4 L299.5,870.0 L299.8,871.6 L300.1,873.2 L293.0,874.6 L292.7,872.9 L292.4,871.2 L292.1,869.6 L291.9,867.9 L291.6,866.2 L291.4,864.6 L291.2,862.9 L291.0,861.2 L290.8,859.6Z" fill="#616163"/><path d="M299.8,871.6 L300.1,873.2 L300.5,874.8 L300.8,876.4 L301.2,878.0 L301.5,879.5 L301.9,881.1 L302.3,882.7 L302.7,884.3 L303.2,885.8 L296.0,887.8 L295.5,886.1 L295.1,884.5 L294.7,882.8 L294.3,881.2 L294.0,879.5 L293.6,877.9 L293.3,876.2 L293.0,874.6 L292.7,872.9Z" fill="#6c6c6e"/><path d="M302.7,884.3 L303.2,885.8 L303.6,887.4 L304.1,889.0 L304.5,890.5 L305.0,892.1 L305.5,893.6 L306.0,895.1 L306.6,896.7 L307.1,898.2 L300.0,900.7 L299.4,899.1 L298.9,897.5 L298.3,895.9 L297.8,894.3 L297.3,892.7 L296.9,891.0 L296.4,889.4 L296.0,887.8 L295.5,886.1Z" fill="#737375"/><path d="M306.6,896.7 L307.1,898.2 L307.7,899.7 L308.3,901.2 L308.8,902.7 L309.5,904.2 L310.1,905.7 L310.7,907.1 L311.4,908.6 L312.0,910.0 L305.0,913.2 L304.3,911.7 L303.6,910.2 L303.0,908.6 L302.3,907.1 L301.7,905.5 L301.1,903.9 L300.5,902.3 L300.0,900.7 L299.4,899.1Z" fill="#747476"/><path d="M311.4,908.6 L312.0,910.0 L312.7,911.5 L313.4,912.9 L314.1,914.3 L314.9,915.7 L315.6,917.1 L316.4,918.5 L317.1,919.9 L317.9,921.2 L311.1,925.2 L310.3,923.7 L309.5,922.3 L308.7,920.8 L307.9,919.3 L307.1,917.8 L306.4,916.3 L305.7,914.8 L305.0,913.2 L304.3,911.7Z" fill="#6e6e70"/><path d="M317.1,919.9 L317.9,921.2 L318.7,922.6 L319.5,923.9 L320.4,925.2 L321.2,926.5 L322.0,927.8 L322.9,929.1 L323.8,930.4 L324.7,931.6 L318.3,936.3 L317.3,934.9 L316.4,933.6 L315.5,932.2 L314.5,930.8 L313.7,929.4 L312.8,928.0 L311.9,926.6 L311.1,925.2 L310.3,923.7Z" fill="#646466"/><path d="M323.8,930.4 L324.7,931.6 L325.6,932.9 L326.5,934.1 L327.5,935.3 L328.4,936.5 L329.4,937.6 L330.4,938.8 L331.4,939.9 L332.4,941.1 L326.6,946.4 L325.5,945.2 L324.4,944.0 L323.4,942.8 L322.3,941.5 L321.3,940.2 L320.3,938.9 L319.3,937.6 L318.3,936.3 L317.3,934.9Z" fill="#59595b"/><path d="M331.4,939.9 L332.4,941.1 L333.5,942.2 L334.5,943.3 L335.6,944.3 L336.7,945.4 L337.8,946.4 L338.9,947.4 L340.0,948.4 L341.2,949.4 L336.1,955.5 L334.8,954.4 L333.6,953.3 L332.4,952.2 L331.2,951.1 L330.0,950.0 L328.9,948.8 L327.7,947.6 L326.6,946.4 L325.5,945.2Z" fill="#515153"/><path d="M340.0,948.4 L341.2,949.4 L342.3,950.3 L343.5,951.3 L344.7,952.2 L345.9,953.1 L347.1,954.0 L348.3,954.8 L349.6,955.6 L350.9,956.4 L346.7,963.2 L345.3,962.3 L343.9,961.4 L342.6,960.4 L341.2,959.5 L339.9,958.5 L338.6,957.5 L337.3,956.5 L336.1,955.5 L334.8,954.4Z" fill="#4c4c4e"/><path d="M349.6,955.6 L350.9,956.4 L352.2,957.2 L353.5,958.0 L354.8,958.7 L356.1,959.5 L357.5,960.2 L358.8,960.8 L360.2,961.5 L361.6,962.1 L358.5,969.4 L356.9,968.7 L355.4,968.0 L353.9,967.2 L352.4,966.5 L351.0,965.7 L349.5,964.9 L348.1,964.0 L346.7,963.2 L345.3,962.3Z" fill="#49494b"/><path d="M360.2,961.5 L361.6,962.1 L363.1,962.7 L364.5,963.3 L365.9,963.8 L367.4,964.4 L368.9,964.9 L370.4,965.3 L371.9,965.8 L373.4,966.2 L371.3,973.8 L369.7,973.4 L368.1,972.9 L366.4,972.4 L364.8,971.8 L363.2,971.3 L361.6,970.7 L360.0,970.0 L358.5,969.4 L356.9,968.7Z" fill="#48484a"/><path d="M371.9,965.8 L373.4,966.2 L374.9,966.6 L376.4,966.9 L377.9,967.2 L379.4,967.5 L380.9,967.7 L382.4,967.9 L383.9,968.1 L385.4,968.2 L384.8,976.2 L383.1,976.0 L381.4,975.8 L379.7,975.6 L378.0,975.3 L376.4,975.0 L374.7,974.6 L373.0,974.3 L371.3,973.8 L369.7,973.4Z" fill="#48484a"/><path d="M383.9,968.1 L385.4,968.2 L386.9,968.3 L388.4,968.3 L389.8,968.3 L391.3,968.3 L392.7,968.2 L394.1,968.1 L395.5,968.0 L396.9,967.8 L398.1,975.8 L396.5,976.0 L394.8,976.2 L393.2,976.3 L391.5,976.4 L389.8,976.4 L388.1,976.4 L386.5,976.3 L384.8,976.2 L383.1,976.0Z" fill="#48484a"/><path d="M395.5,968.0 L396.9,967.8 L398.3,967.5 L399.6,967.2 L400.9,966.9 L402.2,966.5 L403.5,966.1 L404.7,965.7 L405.9,965.2 L407.1,964.6 L410.6,972.2 L409.1,972.9 L407.6,973.5 L406.1,974.0 L404.5,974.5 L402.9,974.9 L401.3,975.3 L399.7,975.6 L398.1,975.8 L396.5,976.0Z" fill="#48484a"/><path d="M405.9,965.2 L407.1,964.6 L408.3,964.1 L409.4,963.4 L410.6,962.7 L411.7,962.0 L412.8,961.2 L413.9,960.4 L415.0,959.5 L416.1,958.6 L421.6,965.2 L420.3,966.2 L419.0,967.2 L417.7,968.2 L416.3,969.1 L414.9,970.0 L413.5,970.8 L412.1,971.5 L410.6,972.2 L409.1,972.9Z" fill="#48484a"/><path d="M415.0,959.5 L416.1,958.6 L417.2,957.7 L418.2,956.7 L419.3,955.7 L420.3,954.6 L421.3,953.5 L422.3,952.4 L423.3,951.2 L424.3,950.0 L431.0,955.6 L429.9,956.9 L428.8,958.2 L427.7,959.4 L426.5,960.6 L425.3,961.8 L424.1,963.0 L422.9,964.1 L421.6,965.2 L420.3,966.2Z" fill="#48484a"/><path d="M423.3,951.2 L424.3,950.0 L425.3,948.8 L426.3,947.6 L427.3,946.3 L428.2,945.0 L429.2,943.7 L430.1,942.4 L431.0,941.1 L431.9,939.8 L439.2,944.6 L438.3,946.1 L437.3,947.5 L436.3,948.9 L435.3,950.3 L434.3,951.6 L433.2,953.0 L432.1,954.3 L431.0,955.6 L429.9,956.9Z" fill="#48484a"/><path d="M431.0,941.1 L431.9,939.8 L432.8,938.4 L433.6,937.1 L434.5,935.7 L435.3,934.3 L436.1,932.9 L437.0,931.5 L437.8,930.1 L438.6,928.7 L446.3,932.8 L445.4,934.3 L444.6,935.8 L443.8,937.3 L442.9,938.8 L442.0,940.3 L441.1,941.7 L440.2,943.2 L439.2,944.6 L438.3,946.1Z" fill="#48484a"/><path d="M437.8,930.1 L438.6,928.7 L439.3,927.2 L440.1,925.8 L440.8,924.4 L441.5,922.9 L442.2,921.5 L442.9,920.0 L443.6,918.6 L444.3,917.1 L452.2,920.5 L451.5,922.1 L450.8,923.6 L450.1,925.2 L449.4,926.7 L448.6,928.2 L447.8,929.8 L447.1,931.3 L446.3,932.8 L445.4,934.3Z" fill="#48484a"/><path d="M443.6,918.6 L444.3,917.1 L444.9,915.7 L445.5,914.2 L446.1,912.7 L446.7,911.3 L447.3,909.8 L447.8,908.4 L448.3,907.0 L448.8,905.5 L456.9,908.2 L456.4,909.7 L455.8,911.3 L455.3,912.8 L454.7,914.4 L454.1,915.9 L453.4,917.5 L452.8,919.0 L452.2,920.5 L451.5,922.1Z" fill="#48484a"/><path d="M448.3,907.0 L448.8,905.5 L449.3,904.1 L449.7,902.6 L450.2,901.2 L450.6,899.8 L451.0,898.3 L451.3,896.9 L451.7,895.5 L452.0,894.1 L460.2,895.8 L459.9,897.3 L459.5,898.9 L459.2,900.4 L458.7,902.0 L458.3,903.5 L457.9,905.1 L457.4,906.6 L456.9,908.2 L456.4,909.7Z" fill="#48484a"/><path d="M451.7,895.5 L452.0,894.1 L452.3,892.7 L452.5,891.3 L452.7,889.8 L453.0,888.4 L453.1,887.0 L453.3,885.6 L461.6,886.4 L461.5,888.0 L461.3,889.5 L461.0,891.1 L460.8,892.7 L460.5,894.2 L460.2,895.8 L459.9,897.3Z" fill="#48484a"/></g><ellipse cx="459.7" cy="886.2" rx="9.6" ry="4.9" transform="rotate(4.0 459.7 886.2)" fill="url(#capg)"/><path d="M243.5,832.8 L243.7,835.7 L243.9,838.6 L244.2,841.5 L244.4,844.5 L244.7,847.5 L245.1,850.6 L245.4,853.7 L245.8,856.8 L246.2,860.0 L246.7,863.2 L247.2,866.4 L247.7,869.7 L248.2,872.9 L248.8,876.2 L249.4,879.5 L250.0,882.8 L250.7,886.1 L251.4,889.4 L252.2,892.7 L253.0,896.0 L253.8,899.3 L254.7,902.5 L255.6,905.8 L256.6,909.0 L257.6,912.3 L258.7,915.4 L259.8,918.6 L261.0,921.7 L262.2,924.8 L263.5,927.9 L264.8,930.9 L266.1,933.9 L267.5,936.8 L269.0,939.7 L270.5,942.5 L272.0,945.3 L273.6,948.0 L275.3,950.6 L276.9,953.2 L278.7,955.8 L280.5,958.2 L282.4,960.6 L284.3,962.8 L286.3,965.0 L288.3,967.2 L290.4,969.2 L292.5,971.1 L294.7,973.0 L296.9,974.8 L299.2,976.6 L301.6,978.2 L304.0,979.7 L306.5,981.1 L309.0,982.5 L311.6,983.7 L314.3,984.9 L317.0,985.9 L319.8,986.9 L322.6,987.7 L325.5,988.3 L328.3,988.8 L331.0,989.2 L333.7,989.3 L336.3,989.3 L338.8,989.1 L341.1,988.7 L343.3,988.1 L345.3,987.3 L347.2,986.3 L349.1,985.1 L351.0,983.7 L353.0,982.0 L354.9,980.0 L356.8,977.9 L358.6,975.6 L360.5,973.1 L362.3,970.4 L364.0,967.7 L365.7,964.8 L367.4,962.0 L369.0,959.1 L370.6,956.2 L372.0,953.3 L373.4,950.3 L374.7,947.3 L375.9,944.4 L377.1,941.4 L378.3,938.4 L379.4,935.4 L380.4,932.4 L381.4,929.4 L382.3,926.4 L383.1,923.4 L383.9,920.4 L384.6,917.4 L385.3,914.4 L385.9,911.4 L386.4,908.4 L386.9,905.4 L409.0,909.1 L408.4,912.4 L407.7,915.8 L407.0,919.1 L406.2,922.5 L405.3,925.9 L404.4,929.3 L403.4,932.7 L402.4,936.1 L401.3,939.4 L400.1,942.8 L398.8,946.2 L397.5,949.6 L396.2,952.9 L394.6,956.3 L393.0,959.6 L391.4,962.9 L389.6,966.2 L387.9,969.4 L386.1,972.7 L384.1,976.0 L382.1,979.2 L380.0,982.4 L377.7,985.6 L375.3,988.7 L372.7,991.7 L370.0,994.7 L367.0,997.4 L363.9,1000.0 L360.5,1002.4 L356.9,1004.5 L353.1,1006.2 L349.1,1007.5 L345.1,1008.4 L341.1,1009.0 L337.1,1009.3 L333.1,1009.3 L329.2,1009.1 L325.3,1008.6 L321.4,1007.9 L317.6,1007.0 L313.9,1006.0 L310.3,1004.8 L306.8,1003.4 L303.3,1001.9 L300.0,1000.4 L296.8,998.6 L293.6,996.8 L290.5,994.8 L287.5,992.8 L284.7,990.6 L281.9,988.3 L279.1,986.0 L276.5,983.5 L274.0,981.0 L271.6,978.3 L269.3,975.6 L267.0,972.8 L264.9,970.0 L262.8,967.0 L260.7,964.1 L258.8,961.1 L256.9,958.0 L255.1,954.9 L253.4,951.7 L251.7,948.4 L250.1,945.2 L248.6,941.8 L247.2,938.5 L245.8,935.1 L244.5,931.7 L243.2,928.3 L242.0,924.8 L240.9,921.3 L239.8,917.8 L238.8,914.3 L237.8,910.8 L236.9,907.3 L236.0,903.7 L235.2,900.2 L234.5,896.6 L233.7,893.1 L233.1,889.6 L232.4,886.0 L231.9,882.5 L231.3,879.0 L230.8,875.6 L230.4,872.1 L230.0,868.7 L229.6,865.3 L229.3,861.9 L229.1,858.5 L228.8,855.2 L228.6,851.9 L228.5,848.7 L228.4,845.5 L228.3,842.4 L228.2,839.3 L228.2,836.3 L228.1,833.3Z" fill="#2d2c2c"/><path d="M242.0,832.9 L242.2,835.7 L242.4,838.6 L242.6,841.6 L242.8,844.6 L243.1,847.6 L243.4,850.7 L243.8,853.9 L244.1,857.0 L244.6,860.2 L245.0,863.4 L245.5,866.7 L246.0,869.9 L246.5,873.2 L247.0,876.5 L247.6,879.8 L248.3,883.1 L248.9,886.4 L249.6,889.8 L250.4,893.1 L251.2,896.4 L252.0,899.7 L252.9,903.0 L253.9,906.3 L254.8,909.6 L255.9,912.8 L256.9,916.0 L258.0,919.2 L259.2,922.4 L260.4,925.5 L261.7,928.6 L263.0,931.7 L264.4,934.7 L265.8,937.7 L267.2,940.6 L268.8,943.4 L270.3,946.2 L272.0,949.0 L273.6,951.7 L275.3,954.3 L277.1,956.9 L278.9,959.4 L280.8,961.8 L282.8,964.1 L284.8,966.4 L286.9,968.5 L289.0,970.6 L291.2,972.6 L293.4,974.6 L295.7,976.4 L298.1,978.2 L300.5,979.8 L302.9,981.4 L305.5,982.9 L308.1,984.3 L310.8,985.6 L313.5,986.7 L316.4,987.8 L319.2,988.8 L322.1,989.6 L325.1,990.3 L328.0,990.8 L330.8,991.2 L333.7,991.3 L336.4,991.3 L339.0,991.1 L341.5,990.7 L343.9,990.0 L346.1,989.2 L348.2,988.1 L350.3,986.8 L352.3,985.3 L354.4,983.5 L356.4,981.5 L358.3,979.3 L360.3,976.9 L362.2,974.3 L364.0,971.6 L365.8,968.8 L367.6,966.0 L369.3,963.1 L370.9,960.1 L372.5,957.2 L374.0,954.2 L375.3,951.2 L376.6,948.2 L377.9,945.2 L379.2,942.2 L380.3,939.2 L381.4,936.2 L382.5,933.1 L383.5,930.1 L384.4,927.1 L385.2,924.0 L386.0,921.0 L386.8,917.9 L387.4,914.9 L388.0,911.8 L388.6,908.8 L389.1,905.8 L402.8,908.0 L402.2,911.3 L401.6,914.6 L400.9,917.8 L400.1,921.1 L399.3,924.4 L398.4,927.6 L397.5,930.9 L396.5,934.2 L395.4,937.5 L394.3,940.8 L393.1,944.0 L391.8,947.3 L390.5,950.5 L389.0,953.8 L387.5,957.0 L386.0,960.2 L384.3,963.4 L382.6,966.5 L380.8,969.7 L379.0,972.8 L377.0,976.0 L375.0,979.0 L372.9,982.1 L370.6,985.0 L368.2,987.9 L365.7,990.6 L363.1,993.1 L360.3,995.4 L357.3,997.5 L354.2,999.4 L350.9,1000.9 L347.5,1002.1 L344.0,1002.9 L340.4,1003.4 L336.9,1003.7 L333.3,1003.7 L329.7,1003.5 L326.1,1003.1 L322.5,1002.4 L319.0,1001.6 L315.6,1000.6 L312.2,999.5 L308.9,998.2 L305.7,996.8 L302.5,995.3 L299.5,993.7 L296.5,992.0 L293.6,990.2 L290.8,988.2 L288.1,986.2 L285.5,984.1 L282.9,981.8 L280.4,979.5 L278.0,977.1 L275.7,974.6 L273.5,972.0 L271.3,969.4 L269.2,966.7 L267.2,963.9 L265.3,961.0 L263.4,958.1 L261.6,955.2 L259.8,952.2 L258.2,949.1 L256.6,946.0 L255.0,942.8 L253.5,939.6 L252.1,936.4 L250.7,933.1 L249.4,929.8 L248.2,926.4 L247.0,923.1 L245.9,919.7 L244.8,916.3 L243.8,912.8 L242.8,909.4 L241.9,905.9 L241.0,902.5 L240.2,899.0 L239.4,895.5 L238.7,892.1 L238.0,888.6 L237.4,885.1 L236.8,881.7 L236.2,878.2 L235.7,874.8 L235.2,871.4 L234.8,868.0 L234.4,864.7 L234.1,861.4 L233.8,858.1 L233.5,854.8 L233.2,851.6 L233.0,848.4 L232.9,845.2 L232.7,842.1 L232.6,839.1 L232.5,836.1 L232.5,833.2Z" fill="#3c3b3b" filter="url(#b1)"/><g filter="url(#b1)"><path d="M241.1,832.9 L241.1,834.3 L241.2,835.8 L241.3,837.2 L241.4,838.7 L241.5,840.2 L241.6,841.6 L241.7,843.1 L241.9,844.7 L242.0,846.2 L234.9,846.7 L234.8,845.1 L234.7,843.6 L234.6,842.0 L234.6,840.5 L234.5,839.0 L234.4,837.5 L234.4,836.0 L234.3,834.6 L234.3,833.1Z" fill="#4b4b4d"/><path d="M241.9,844.7 L242.0,846.2 L242.1,847.7 L242.3,849.3 L242.4,850.8 L242.6,852.4 L242.8,853.9 L243.0,855.5 L243.1,857.1 L243.3,858.7 L235.9,859.5 L235.8,857.9 L235.6,856.2 L235.5,854.6 L235.3,853.0 L235.2,851.4 L235.1,849.8 L235.0,848.2 L234.9,846.7 L234.8,845.1Z" fill="#4e4e50"/><path d="M243.1,857.1 L243.3,858.7 L243.5,860.3 L243.7,861.9 L244.0,863.5 L244.2,865.2 L244.4,866.8 L244.7,868.4 L244.9,870.1 L245.2,871.7 L237.5,872.8 L237.3,871.1 L237.1,869.4 L236.9,867.8 L236.7,866.1 L236.5,864.4 L236.3,862.8 L236.1,861.1 L235.9,859.5 L235.8,857.9Z" fill="#555557"/><path d="M244.9,870.1 L245.2,871.7 L245.4,873.4 L245.7,875.0 L246.0,876.7 L246.3,878.3 L246.6,880.0 L246.9,881.6 L247.2,883.3 L247.5,885.0 L239.8,886.5 L239.5,884.7 L239.2,883.0 L238.9,881.3 L238.6,879.6 L238.3,877.9 L238.0,876.2 L237.8,874.5 L237.5,872.8 L237.3,871.1Z" fill="#5e5e60"/><path d="M247.2,883.3 L247.5,885.0 L247.9,886.6 L248.2,888.3 L248.6,890.0 L249.0,891.7 L249.3,893.3 L249.7,895.0 L250.1,896.7 L250.6,898.3 L242.7,900.2 L242.3,898.5 L241.9,896.8 L241.5,895.1 L241.2,893.3 L240.8,891.6 L240.5,889.9 L240.1,888.2 L239.8,886.5 L239.5,884.7Z" fill="#68686a"/><path d="M250.1,896.7 L250.6,898.3 L251.0,900.0 L251.4,901.6 L251.9,903.3 L252.3,905.0 L252.8,906.6 L253.3,908.2 L253.8,909.9 L254.3,911.5 L246.4,913.9 L245.9,912.2 L245.4,910.5 L245.0,908.8 L244.5,907.1 L244.0,905.4 L243.6,903.7 L243.2,901.9 L242.7,900.2 L242.3,898.5Z" fill="#6e6e70"/><path d="M253.8,909.9 L254.3,911.5 L254.8,913.1 L255.3,914.8 L255.9,916.4 L256.4,918.0 L257.0,919.6 L257.6,921.2 L258.2,922.8 L258.8,924.4 L250.9,927.3 L250.3,925.7 L249.7,924.0 L249.2,922.3 L248.6,920.7 L248.0,919.0 L247.5,917.3 L247.0,915.6 L246.4,913.9 L245.9,912.2Z" fill="#6f6f71"/><path d="M258.2,922.8 L258.8,924.4 L259.4,925.9 L260.0,927.5 L260.6,929.1 L261.3,930.6 L262.0,932.1 L262.6,933.7 L263.3,935.2 L264.0,936.7 L256.4,940.2 L255.6,938.7 L254.9,937.1 L254.2,935.5 L253.5,933.9 L252.9,932.2 L252.2,930.6 L251.6,929.0 L250.9,927.3 L250.3,925.7Z" fill="#6a6a6c"/><path d="M263.3,935.2 L264.0,936.7 L264.7,938.2 L265.5,939.6 L266.2,941.1 L267.0,942.5 L267.7,944.0 L268.5,945.4 L269.3,946.8 L270.1,948.2 L262.7,952.5 L261.9,951.0 L261.0,949.5 L260.2,948.0 L259.4,946.5 L258.6,944.9 L257.9,943.4 L257.1,941.8 L256.4,940.2 L255.6,938.7Z" fill="#616163"/><path d="M269.3,946.8 L270.1,948.2 L271.0,949.6 L271.8,951.0 L272.6,952.3 L273.5,953.7 L274.4,955.0 L275.2,956.3 L276.1,957.6 L277.1,958.8 L270.1,963.9 L269.1,962.5 L268.2,961.1 L267.2,959.7 L266.3,958.3 L265.4,956.9 L264.5,955.4 L263.6,954.0 L262.7,952.5 L261.9,951.0Z" fill="#575759"/><path d="M276.1,957.6 L277.1,958.8 L278.0,960.1 L279.0,961.3 L279.9,962.5 L280.9,963.7 L281.9,964.9 L282.9,966.0 L283.9,967.2 L285.0,968.3 L278.6,974.2 L277.5,973.0 L276.4,971.8 L275.3,970.5 L274.2,969.2 L273.2,967.9 L272.1,966.6 L271.1,965.3 L270.1,963.9 L269.1,962.5Z" fill="#505052"/><path d="M283.9,967.2 L285.0,968.3 L286.0,969.4 L287.1,970.4 L288.2,971.5 L289.3,972.5 L290.4,973.5 L291.5,974.5 L292.7,975.5 L293.8,976.4 L288.3,983.3 L287.0,982.2 L285.7,981.1 L284.5,980.1 L283.3,978.9 L282.1,977.8 L280.9,976.6 L279.8,975.4 L278.6,974.2 L277.5,973.0Z" fill="#4b4b4d"/><path d="M292.7,975.5 L293.8,976.4 L295.0,977.4 L296.2,978.3 L297.4,979.1 L298.6,980.0 L299.8,980.8 L301.1,981.7 L302.3,982.4 L303.6,983.2 L299.2,990.8 L297.7,990.0 L296.3,989.1 L294.9,988.2 L293.6,987.2 L292.2,986.3 L290.9,985.3 L289.6,984.3 L288.3,983.3 L287.0,982.2Z" fill="#49494b"/><path d="M302.3,982.4 L303.6,983.2 L304.9,983.9 L306.2,984.7 L307.6,985.3 L308.9,986.0 L310.3,986.6 L311.7,987.3 L313.1,987.8 L314.5,988.4 L311.4,996.6 L309.8,996.0 L308.2,995.3 L306.6,994.7 L305.1,993.9 L303.6,993.2 L302.1,992.4 L300.6,991.6 L299.2,990.8 L297.7,990.0Z" fill="#48484a"/><path d="M313.1,987.8 L314.5,988.4 L315.9,988.9 L317.4,989.4 L318.9,989.9 L320.4,990.4 L321.8,990.8 L323.3,991.1 L324.8,991.4 L326.3,991.7 L324.7,1000.4 L323.0,1000.1 L321.3,999.7 L319.6,999.3 L318.0,998.8 L316.3,998.3 L314.6,997.8 L313.0,997.2 L311.4,996.6 L309.8,996.0Z" fill="#48484a"/><path d="M324.8,991.4 L326.3,991.7 L327.8,992.0 L329.3,992.2 L330.7,992.3 L332.2,992.5 L333.6,992.5 L335.0,992.5 L336.4,992.5 L337.8,992.4 L338.5,1001.2 L336.8,1001.3 L335.1,1001.3 L333.4,1001.3 L331.6,1001.2 L329.9,1001.1 L328.2,1000.9 L326.5,1000.7 L324.7,1000.4 L323.0,1000.1Z" fill="#48484a"/><path d="M336.4,992.5 L337.8,992.4 L339.2,992.3 L340.5,992.1 L341.8,991.8 L343.0,991.5 L344.2,991.2 L345.4,990.8 L346.6,990.3 L347.7,989.8 L351.5,998.0 L350.0,998.6 L348.4,999.2 L346.8,999.7 L345.2,1000.2 L343.5,1000.5 L341.8,1000.8 L340.2,1001.0 L338.5,1001.2 L336.8,1001.3Z" fill="#48484a"/><path d="M346.6,990.3 L347.7,989.8 L348.8,989.2 L349.9,988.6 L351.0,987.9 L352.0,987.1 L353.1,986.3 L354.2,985.4 L355.2,984.4 L356.2,983.4 L362.7,990.1 L361.4,991.2 L360.1,992.4 L358.8,993.5 L357.4,994.5 L356.0,995.5 L354.5,996.4 L353.0,997.2 L351.5,998.0 L350.0,998.6Z" fill="#48484a"/><path d="M355.2,984.4 L356.2,983.4 L357.3,982.4 L358.3,981.3 L359.3,980.1 L360.3,978.9 L361.3,977.7 L362.3,976.4 L363.2,975.1 L364.2,973.7 L371.8,979.1 L370.8,980.6 L369.7,982.0 L368.6,983.4 L367.5,984.8 L366.3,986.2 L365.1,987.5 L363.9,988.8 L362.7,990.1 L361.4,991.2Z" fill="#48484a"/><path d="M363.2,975.1 L364.2,973.7 L365.1,972.3 L366.0,970.9 L366.9,969.5 L367.8,968.1 L368.7,966.6 L369.5,965.2 L370.4,963.7 L371.2,962.2 L379.5,966.9 L378.6,968.4 L377.7,970.0 L376.8,971.5 L375.8,973.0 L374.9,974.6 L373.9,976.1 L372.9,977.6 L371.8,979.1 L370.8,980.6Z" fill="#48484a"/><path d="M370.4,963.7 L371.2,962.2 L372.1,960.8 L372.9,959.3 L373.6,957.8 L374.4,956.3 L375.1,954.8 L375.8,953.3 L376.5,951.8 L377.2,950.3 L385.9,954.3 L385.2,955.9 L384.4,957.5 L383.6,959.0 L382.8,960.6 L382.0,962.2 L381.2,963.7 L380.3,965.3 L379.5,966.9 L378.6,968.4Z" fill="#48484a"/><path d="M376.5,951.8 L377.2,950.3 L377.8,948.8 L378.5,947.2 L379.1,945.7 L379.8,944.2 L380.4,942.7 L381.0,941.2 L381.6,939.7 L382.1,938.1 L391.2,941.5 L390.6,943.1 L390.0,944.7 L389.4,946.3 L388.7,947.9 L388.0,949.5 L387.4,951.1 L386.6,952.7 L385.9,954.3 L385.2,955.9Z" fill="#48484a"/><path d="M381.6,939.7 L382.1,938.1 L382.7,936.6 L383.2,935.1 L383.7,933.6 L384.2,932.0 L384.7,930.5 L385.2,929.0 L385.6,927.4 L386.1,925.9 L395.4,928.6 L395.0,930.2 L394.5,931.8 L394.0,933.4 L393.5,935.0 L392.9,936.6 L392.4,938.3 L391.8,939.9 L391.2,941.5 L390.6,943.1Z" fill="#48484a"/><path d="M385.6,927.4 L386.1,925.9 L386.5,924.4 L386.9,922.8 L387.3,921.3 L387.7,919.8 L388.0,918.2 L388.4,916.7 L388.7,915.2 L389.1,913.6 L398.6,915.6 L398.3,917.2 L397.9,918.9 L397.6,920.5 L397.2,922.1 L396.8,923.7 L396.3,925.3 L395.9,926.9 L395.4,928.6 L395.0,930.2Z" fill="#48484a"/><path d="M388.7,915.2 L389.1,913.6 L389.4,912.1 L389.6,910.6 L389.9,909.0 L390.2,907.5 L390.4,906.0 L390.7,904.5 L400.4,906.0 L400.2,907.6 L399.9,909.2 L399.6,910.8 L399.3,912.4 L399.0,914.0 L398.6,915.6 L398.3,917.2Z" fill="#48484a"/></g><ellipse cx="398.2" cy="905.7" rx="11.2" ry="5.5" transform="rotate(3.0 398.2 905.7)" fill="url(#capg)"/><use href="#plate" transform="translate(234.7,1177.3) rotate(2.4) scale(1.125,1.13) translate(-244.2,-208.5)"/><path d="M208.4,1250.0 C208.4,1246.0 207.0,1241.3 208.4,1238.0 C209.8,1234.7 213.9,1230.0 216.7,1230.0 C219.5,1230.0 223.6,1228.0 225.0,1238.0 C226.4,1248.0 225.3,1272.5 225.0,1290.0 C224.7,1307.5 223.7,1325.3 223.0,1343.0" fill="none" stroke="#1c1c1c" stroke-width="12.4" stroke-linejoin="round"/><path d="M208.4,1250.0 C208.4,1246.0 207.0,1241.3 208.4,1238.0 C209.8,1234.7 213.9,1230.0 216.7,1230.0 C219.5,1230.0 223.6,1228.0 225.0,1238.0 C226.4,1248.0 225.3,1272.5 225.0,1290.0 C224.7,1307.5 223.7,1325.3 223.0,1343.0" fill="none" stroke="#505050" stroke-width="3.1" transform="translate(-0.8,-0.6)" opacity="0.7"/><path d="M265.3,1250.0 C265.3,1246.2 263.8,1241.8 265.3,1238.5 C266.8,1235.2 271.2,1230.5 274.2,1230.5 C277.1,1230.5 281.5,1228.6 283.0,1238.5 C284.5,1248.4 283.3,1272.9 283.0,1290.0 C282.7,1307.1 281.7,1324.0 281.0,1341.0" fill="none" stroke="#1c1c1c" stroke-width="12.4" stroke-linejoin="round"/><path d="M265.3,1250.0 C265.3,1246.2 263.8,1241.8 265.3,1238.5 C266.8,1235.2 271.2,1230.5 274.2,1230.5 C277.1,1230.5 281.5,1228.6 283.0,1238.5 C284.5,1248.4 283.3,1272.9 283.0,1290.0 C282.7,1307.1 281.7,1324.0 281.0,1341.0" fill="none" stroke="#505050" stroke-width="3.1" transform="translate(-0.8,-0.6)" opacity="0.7"/><use href="#brk" transform="translate(234.7,1177.3) rotate(2.4) scale(1.125,1.13) translate(-244.2,-208.5)"/><path d="M289.0,1339.7 L289.3,1342.5 L289.5,1345.3 L289.7,1348.1 L289.9,1350.9 L290.1,1353.7 L290.3,1356.5 L290.5,1359.2 L290.8,1362.0 L291.0,1364.7 L291.3,1367.4 L291.6,1370.0 L291.9,1372.7 L292.2,1375.2 L292.6,1377.8 L293.0,1380.3 L293.5,1382.7 L294.1,1385.1 L294.7,1387.4 L295.4,1389.6 L296.1,1391.8 L296.9,1393.9 L297.8,1396.0 L298.8,1398.0 L299.9,1400.0 L301.0,1401.9 L302.2,1403.8 L303.5,1405.7 L304.8,1407.5 L306.2,1409.3 L307.7,1411.1 L309.3,1412.9 L310.9,1414.6 L312.6,1416.3 L314.4,1417.9 L316.3,1419.5 L318.2,1421.1 L320.2,1422.6 L322.3,1424.1 L324.4,1425.6 L326.6,1426.9 L328.8,1428.3 L331.1,1429.6 L333.4,1430.8 L335.7,1431.9 L338.1,1433.0 L340.5,1434.1 L342.9,1435.0 L345.4,1435.9 L347.8,1436.7 L350.3,1437.5 L352.8,1438.1 L355.2,1438.7 L357.7,1439.2 L360.1,1439.6 L362.6,1439.9 L365.0,1440.1 L367.4,1440.3 L369.8,1440.3 L372.1,1440.3 L374.5,1440.1 L376.7,1439.8 L379.0,1439.5 L381.2,1439.0 L383.4,1438.5 L385.5,1437.9 L387.5,1437.3 L389.6,1436.5 L391.6,1435.7 L393.5,1434.8 L395.3,1433.8 L397.2,1432.7 L398.9,1431.5 L400.6,1430.2 L402.2,1428.9 L403.8,1427.5 L405.3,1426.0 L406.7,1424.4 L408.1,1422.7 L409.4,1420.9 L410.6,1419.0 L411.8,1416.9 L412.9,1414.8 L414.0,1412.6 L415.0,1410.3 L415.9,1408.0 L416.8,1405.5 L417.6,1403.1 L418.4,1400.5 L419.1,1398.0 L419.7,1395.4 L420.3,1392.8 L420.8,1390.2 L421.3,1387.6 L421.7,1385.0 L422.0,1382.5 L422.3,1380.0 L422.6,1377.5 L422.8,1375.1 L422.9,1372.7 L441.7,1373.5 L441.6,1376.2 L441.4,1379.0 L441.1,1381.9 L440.8,1384.8 L440.4,1387.7 L440.0,1390.7 L439.5,1393.7 L438.9,1396.7 L438.2,1399.7 L437.5,1402.7 L436.7,1405.8 L435.8,1408.8 L434.8,1411.8 L433.7,1414.7 L432.5,1417.7 L431.2,1420.6 L429.9,1423.4 L428.4,1426.2 L426.8,1428.9 L425.0,1431.6 L423.2,1434.2 L421.2,1436.6 L419.1,1439.0 L417.0,1441.2 L414.7,1443.3 L412.3,1445.2 L409.9,1447.0 L407.3,1448.7 L404.7,1450.3 L402.1,1451.7 L399.3,1453.0 L396.5,1454.2 L393.7,1455.2 L390.8,1456.1 L387.9,1456.9 L384.9,1457.5 L381.9,1458.0 L378.9,1458.4 L375.9,1458.7 L372.8,1458.8 L369.7,1458.8 L366.7,1458.8 L363.6,1458.6 L360.5,1458.3 L357.4,1457.9 L354.4,1457.4 L351.3,1456.8 L348.3,1456.1 L345.3,1455.3 L342.3,1454.4 L339.3,1453.4 L336.4,1452.3 L333.5,1451.2 L330.6,1449.9 L327.7,1448.6 L324.9,1447.3 L322.2,1445.8 L319.5,1444.3 L316.8,1442.7 L314.2,1441.0 L311.7,1439.3 L309.2,1437.5 L306.7,1435.6 L304.4,1433.7 L302.1,1431.7 L299.9,1429.7 L297.7,1427.6 L295.7,1425.4 L293.7,1423.2 L291.8,1420.9 L290.0,1418.6 L288.3,1416.2 L286.7,1413.7 L285.2,1411.2 L283.7,1408.6 L282.4,1406.0 L281.2,1403.3 L280.1,1400.5 L279.1,1397.7 L278.2,1394.9 L277.4,1392.0 L276.7,1389.1 L276.1,1386.3 L275.6,1383.4 L275.1,1380.5 L274.7,1377.6 L274.4,1374.7 L274.1,1371.8 L273.9,1368.9 L273.7,1366.0 L273.6,1363.1 L273.4,1360.3 L273.3,1357.4 L273.2,1354.6 L273.1,1351.8 L273.0,1349.1 L272.9,1346.3 L272.7,1343.7 L272.6,1341.0Z" fill="#2d2c2c"/><path d="M287.4,1339.8 L287.6,1342.6 L287.9,1345.4 L288.1,1348.2 L288.3,1351.0 L288.4,1353.8 L288.6,1356.6 L288.8,1359.3 L289.0,1362.1 L289.3,1364.8 L289.5,1367.5 L289.8,1370.2 L290.1,1372.9 L290.5,1375.5 L290.9,1378.0 L291.3,1380.6 L291.8,1383.0 L292.3,1385.5 L293.0,1387.8 L293.6,1390.1 L294.4,1392.4 L295.2,1394.5 L296.2,1396.7 L297.2,1398.8 L298.2,1400.8 L299.4,1402.8 L300.6,1404.8 L302.0,1406.7 L303.3,1408.6 L304.8,1410.5 L306.3,1412.3 L307.9,1414.1 L309.6,1415.9 L311.3,1417.6 L313.2,1419.3 L315.1,1420.9 L317.1,1422.5 L319.1,1424.1 L321.2,1425.6 L323.4,1427.1 L325.6,1428.5 L327.9,1429.9 L330.2,1431.2 L332.5,1432.4 L334.9,1433.6 L337.3,1434.7 L339.8,1435.8 L342.3,1436.8 L344.8,1437.7 L347.3,1438.5 L349.8,1439.2 L352.3,1439.9 L354.8,1440.5 L357.4,1441.0 L359.9,1441.4 L362.4,1441.7 L364.9,1442.0 L367.3,1442.1 L369.8,1442.2 L372.2,1442.1 L374.6,1441.9 L377.0,1441.7 L379.3,1441.3 L381.6,1440.9 L383.8,1440.4 L386.0,1439.7 L388.2,1439.1 L390.3,1438.3 L392.3,1437.4 L394.3,1436.5 L396.3,1435.4 L398.2,1434.3 L400.0,1433.1 L401.8,1431.7 L403.5,1430.3 L405.1,1428.9 L406.7,1427.3 L408.2,1425.6 L409.6,1423.8 L410.9,1421.9 L412.2,1420.0 L413.4,1417.9 L414.6,1415.7 L415.7,1413.4 L416.7,1411.1 L417.7,1408.6 L418.6,1406.2 L419.5,1403.6 L420.2,1401.1 L420.9,1398.5 L421.6,1395.8 L422.2,1393.2 L422.7,1390.6 L423.2,1387.9 L423.6,1385.3 L423.9,1382.7 L424.2,1380.2 L424.5,1377.6 L424.6,1375.2 L424.8,1372.8 L436.4,1373.3 L436.3,1375.9 L436.1,1378.6 L435.9,1381.3 L435.6,1384.1 L435.2,1387.0 L434.8,1389.8 L434.3,1392.7 L433.7,1395.6 L433.1,1398.5 L432.3,1401.4 L431.6,1404.3 L430.7,1407.2 L429.7,1410.0 L428.7,1412.8 L427.6,1415.6 L426.4,1418.4 L425.1,1421.0 L423.7,1423.6 L422.2,1426.2 L420.6,1428.6 L418.9,1430.9 L417.1,1433.2 L415.3,1435.3 L413.3,1437.3 L411.2,1439.2 L409.0,1441.0 L406.8,1442.7 L404.5,1444.2 L402.1,1445.7 L399.7,1447.0 L397.2,1448.2 L394.6,1449.2 L392.0,1450.2 L389.3,1451.0 L386.6,1451.8 L383.9,1452.4 L381.1,1452.8 L378.3,1453.2 L375.5,1453.5 L372.6,1453.6 L369.8,1453.6 L366.9,1453.6 L364.0,1453.4 L361.1,1453.1 L358.2,1452.8 L355.3,1452.3 L352.4,1451.7 L349.5,1451.0 L346.7,1450.3 L343.8,1449.4 L341.0,1448.5 L338.2,1447.5 L335.4,1446.4 L332.7,1445.2 L330.0,1444.0 L327.3,1442.6 L324.7,1441.2 L322.1,1439.8 L319.5,1438.3 L317.1,1436.7 L314.6,1435.0 L312.3,1433.3 L310.0,1431.5 L307.7,1429.7 L305.5,1427.8 L303.5,1425.9 L301.4,1423.9 L299.5,1421.9 L297.6,1419.8 L295.8,1417.7 L294.1,1415.5 L292.5,1413.2 L291.0,1410.9 L289.6,1408.6 L288.3,1406.2 L287.0,1403.7 L285.9,1401.2 L284.8,1398.7 L283.9,1396.0 L283.0,1393.4 L282.3,1390.7 L281.6,1388.0 L281.0,1385.3 L280.5,1382.5 L280.0,1379.7 L279.6,1376.9 L279.3,1374.1 L279.0,1371.3 L278.8,1368.5 L278.6,1365.6 L278.4,1362.8 L278.2,1360.0 L278.1,1357.2 L277.9,1354.4 L277.8,1351.6 L277.7,1348.8 L277.5,1346.1 L277.4,1343.3 L277.2,1340.6Z" fill="#3c3b3b" filter="url(#b1)"/><g filter="url(#b1)"><path d="M286.4,1339.9 L286.5,1341.3 L286.6,1342.7 L286.8,1344.1 L286.9,1345.5 L287.0,1346.9 L287.1,1348.3 L287.2,1349.7 L287.2,1351.0 L287.3,1352.4 L279.9,1352.9 L279.8,1351.5 L279.8,1350.1 L279.7,1348.7 L279.6,1347.3 L279.5,1345.9 L279.4,1344.6 L279.4,1343.2 L279.3,1341.8 L279.2,1340.5Z" fill="#545456"/><path d="M287.2,1351.0 L287.3,1352.4 L287.4,1353.8 L287.5,1355.2 L287.6,1356.6 L287.7,1358.0 L287.8,1359.4 L287.9,1360.8 L288.0,1362.2 L288.1,1363.5 L280.5,1364.1 L280.4,1362.7 L280.4,1361.3 L280.3,1359.9 L280.2,1358.4 L280.1,1357.0 L280.1,1355.6 L280.0,1354.2 L279.9,1352.9 L279.8,1351.5Z" fill="#5e5e60"/><path d="M288.0,1362.2 L288.1,1363.5 L288.2,1364.9 L288.4,1366.3 L288.5,1367.6 L288.6,1369.0 L288.8,1370.3 L288.9,1371.7 L289.1,1373.0 L289.2,1374.3 L281.6,1375.2 L281.4,1373.9 L281.2,1372.5 L281.1,1371.1 L281.0,1369.7 L280.9,1368.3 L280.7,1366.9 L280.6,1365.5 L280.5,1364.1 L280.4,1362.7Z" fill="#69696b"/><path d="M289.1,1373.0 L289.2,1374.3 L289.4,1375.6 L289.6,1376.9 L289.8,1378.2 L290.0,1379.5 L290.2,1380.8 L290.5,1382.0 L290.7,1383.3 L291.0,1384.5 L283.4,1386.2 L283.1,1384.8 L282.8,1383.5 L282.6,1382.1 L282.3,1380.8 L282.1,1379.4 L281.9,1378.0 L281.7,1376.6 L281.6,1375.2 L281.4,1373.9Z" fill="#737375"/><path d="M290.7,1383.3 L291.0,1384.5 L291.3,1385.7 L291.6,1386.9 L291.9,1388.1 L292.3,1389.3 L292.6,1390.4 L293.0,1391.6 L293.4,1392.7 L293.8,1393.8 L286.4,1396.6 L285.9,1395.3 L285.5,1394.1 L285.1,1392.8 L284.7,1391.5 L284.3,1390.2 L284.0,1388.8 L283.7,1387.5 L283.4,1386.2 L283.1,1384.8Z" fill="#79797b"/><path d="M293.4,1392.7 L293.8,1393.8 L294.2,1394.9 L294.7,1396.0 L295.2,1397.1 L295.7,1398.2 L296.2,1399.3 L296.7,1400.3 L297.3,1401.3 L297.9,1402.4 L290.8,1406.3 L290.2,1405.1 L289.6,1404.0 L289.0,1402.8 L288.4,1401.6 L287.9,1400.3 L287.3,1399.1 L286.8,1397.9 L286.4,1396.6 L285.9,1395.3Z" fill="#78787a"/><path d="M297.3,1401.3 L297.9,1402.4 L298.5,1403.4 L299.1,1404.4 L299.7,1405.4 L300.4,1406.4 L301.0,1407.3 L301.7,1408.3 L302.4,1409.3 L303.2,1410.2 L296.7,1415.2 L295.9,1414.2 L295.1,1413.1 L294.4,1412.0 L293.6,1410.9 L292.9,1409.8 L292.2,1408.6 L291.5,1407.5 L290.8,1406.3 L290.2,1405.1Z" fill="#717173"/><path d="M302.4,1409.3 L303.2,1410.2 L303.9,1411.2 L304.7,1412.1 L305.5,1413.0 L306.3,1414.0 L307.1,1414.9 L307.9,1415.8 L308.8,1416.7 L309.7,1417.5 L304.0,1423.3 L303.0,1422.4 L302.1,1421.4 L301.1,1420.4 L300.2,1419.4 L299.3,1418.4 L298.4,1417.3 L297.6,1416.3 L296.7,1415.2 L295.9,1414.2Z" fill="#666668"/><path d="M308.8,1416.7 L309.7,1417.5 L310.6,1418.4 L311.5,1419.3 L312.4,1420.1 L313.4,1420.9 L314.4,1421.8 L315.4,1422.6 L316.4,1423.4 L317.4,1424.2 L312.5,1430.7 L311.3,1429.8 L310.2,1428.9 L309.1,1428.0 L308.1,1427.1 L307.0,1426.2 L306.0,1425.2 L305.0,1424.3 L304.0,1423.3 L303.0,1422.4Z" fill="#5b5b5d"/><path d="M316.4,1423.4 L317.4,1424.2 L318.4,1425.0 L319.5,1425.8 L320.6,1426.5 L321.7,1427.3 L322.8,1428.0 L323.9,1428.7 L325.0,1429.5 L326.2,1430.2 L322.0,1437.1 L320.7,1436.4 L319.5,1435.6 L318.3,1434.8 L317.1,1434.0 L315.9,1433.2 L314.7,1432.4 L313.6,1431.5 L312.5,1430.7 L311.3,1429.8Z" fill="#525254"/><path d="M325.0,1429.5 L326.2,1430.2 L327.3,1430.8 L328.5,1431.5 L329.6,1432.2 L330.8,1432.8 L332.0,1433.4 L333.2,1434.0 L334.4,1434.6 L335.7,1435.2 L332.3,1442.6 L330.9,1442.0 L329.6,1441.3 L328.3,1440.7 L327.0,1440.0 L325.7,1439.3 L324.5,1438.6 L323.2,1437.9 L322.0,1437.1 L320.7,1436.4Z" fill="#4d4d4f"/><path d="M334.4,1434.6 L335.7,1435.2 L336.9,1435.7 L338.1,1436.3 L339.4,1436.8 L340.6,1437.3 L341.9,1437.8 L343.1,1438.3 L344.4,1438.7 L345.7,1439.1 L343.1,1446.9 L341.7,1446.4 L340.4,1445.9 L339.0,1445.4 L337.6,1444.9 L336.3,1444.3 L334.9,1443.8 L333.6,1443.2 L332.3,1442.6 L330.9,1442.0Z" fill="#4a4a4c"/><path d="M344.4,1438.7 L345.7,1439.1 L346.9,1439.5 L348.2,1439.9 L349.5,1440.3 L350.8,1440.6 L352.0,1441.0 L353.3,1441.3 L354.6,1441.6 L355.9,1441.8 L354.3,1449.8 L352.9,1449.5 L351.5,1449.2 L350.1,1448.9 L348.7,1448.5 L347.3,1448.1 L345.9,1447.7 L344.5,1447.3 L343.1,1446.9 L341.7,1446.4Z" fill="#48484a"/><path d="M354.6,1441.6 L355.9,1441.8 L357.2,1442.1 L358.4,1442.3 L359.7,1442.5 L361.0,1442.7 L362.3,1442.8 L363.5,1443.0 L364.8,1443.1 L366.0,1443.2 L365.6,1451.3 L364.2,1451.2 L362.8,1451.1 L361.3,1450.9 L359.9,1450.8 L358.5,1450.6 L357.1,1450.3 L355.7,1450.1 L354.3,1449.8 L352.9,1449.5Z" fill="#48484a"/><path d="M364.8,1443.1 L366.0,1443.2 L367.3,1443.2 L368.5,1443.3 L369.8,1443.3 L371.0,1443.3 L372.2,1443.2 L373.5,1443.2 L374.7,1443.1 L375.9,1442.9 L376.7,1451.1 L375.3,1451.2 L373.9,1451.3 L372.5,1451.4 L371.2,1451.4 L369.8,1451.4 L368.4,1451.4 L367.0,1451.4 L365.6,1451.3 L364.2,1451.2Z" fill="#48484a"/><path d="M374.7,1443.1 L375.9,1442.9 L377.1,1442.8 L378.3,1442.6 L379.5,1442.4 L380.6,1442.2 L381.8,1442.0 L382.9,1441.7 L384.1,1441.5 L385.2,1441.2 L387.4,1449.2 L386.1,1449.6 L384.8,1449.9 L383.4,1450.1 L382.1,1450.4 L380.8,1450.6 L379.4,1450.8 L378.0,1451.0 L376.7,1451.1 L375.3,1451.2Z" fill="#48484a"/><path d="M384.1,1441.5 L385.2,1441.2 L386.3,1440.8 L387.4,1440.5 L388.5,1440.1 L389.6,1439.7 L390.7,1439.3 L391.8,1438.9 L392.8,1438.5 L393.8,1438.0 L397.4,1445.5 L396.2,1446.1 L395.0,1446.6 L393.8,1447.1 L392.5,1447.6 L391.2,1448.0 L390.0,1448.5 L388.7,1448.9 L387.4,1449.2 L386.1,1449.6Z" fill="#48484a"/><path d="M392.8,1438.5 L393.8,1438.0 L394.9,1437.5 L395.9,1436.9 L396.8,1436.4 L397.8,1435.8 L398.8,1435.2 L399.7,1434.6 L400.7,1434.0 L401.6,1433.3 L406.6,1440.0 L405.5,1440.8 L404.4,1441.6 L403.3,1442.3 L402.1,1443.0 L401.0,1443.7 L399.8,1444.3 L398.6,1444.9 L397.4,1445.5 L396.2,1446.1Z" fill="#48484a"/><path d="M400.7,1434.0 L401.6,1433.3 L402.5,1432.6 L403.3,1431.9 L404.2,1431.2 L405.1,1430.4 L405.9,1429.7 L406.7,1428.9 L407.5,1428.0 L408.3,1427.2 L414.5,1432.8 L413.6,1433.8 L412.6,1434.7 L411.7,1435.7 L410.7,1436.6 L409.7,1437.5 L408.7,1438.4 L407.6,1439.2 L406.6,1440.0 L405.5,1440.8Z" fill="#48484a"/><path d="M407.5,1428.0 L408.3,1427.2 L409.0,1426.3 L409.8,1425.4 L410.5,1424.5 L411.2,1423.6 L411.9,1422.6 L412.5,1421.6 L413.2,1420.6 L413.8,1419.5 L421.0,1423.7 L420.3,1425.0 L419.5,1426.1 L418.8,1427.3 L418.0,1428.5 L417.1,1429.6 L416.3,1430.7 L415.4,1431.7 L414.5,1432.8 L413.6,1433.8Z" fill="#48484a"/><path d="M413.2,1420.6 L413.8,1419.5 L414.4,1418.4 L415.0,1417.3 L415.6,1416.2 L416.2,1415.1 L416.7,1413.9 L417.3,1412.7 L417.8,1411.5 L418.3,1410.3 L426.1,1413.4 L425.5,1414.7 L424.9,1416.1 L424.3,1417.4 L423.7,1418.7 L423.1,1420.0 L422.4,1421.3 L421.7,1422.5 L421.0,1423.7 L420.3,1425.0Z" fill="#48484a"/><path d="M417.8,1411.5 L418.3,1410.3 L418.8,1409.0 L419.2,1407.8 L419.7,1406.5 L420.1,1405.3 L420.5,1404.0 L420.9,1402.7 L421.3,1401.4 L421.7,1400.1 L429.8,1402.3 L429.4,1403.7 L428.9,1405.1 L428.5,1406.5 L428.1,1407.9 L427.6,1409.3 L427.1,1410.7 L426.6,1412.0 L426.1,1413.4 L425.5,1414.7Z" fill="#48484a"/><path d="M421.3,1401.4 L421.7,1400.1 L422.0,1398.7 L422.4,1397.4 L422.7,1396.1 L423.0,1394.8 L423.3,1393.4 L423.6,1392.1 L423.8,1390.8 L424.1,1389.4 L432.3,1390.9 L432.0,1392.3 L431.8,1393.7 L431.5,1395.1 L431.2,1396.6 L430.8,1398.0 L430.5,1399.4 L430.1,1400.8 L429.8,1402.3 L429.4,1403.7Z" fill="#48484a"/><path d="M423.8,1390.8 L424.1,1389.4 L424.3,1388.1 L424.5,1386.8 L424.7,1385.5 L424.9,1384.2 L425.0,1382.9 L425.2,1381.6 L425.3,1380.3 L425.5,1379.0 L433.7,1379.8 L433.6,1381.1 L433.5,1382.5 L433.3,1383.9 L433.1,1385.2 L432.9,1386.6 L432.7,1388.0 L432.5,1389.5 L432.3,1390.9 L432.0,1392.3Z" fill="#48484a"/><path d="M425.3,1380.3 L425.5,1379.0 L425.6,1377.7 L425.7,1376.5 L425.8,1375.3 L425.8,1374.0 L425.9,1372.8 L426.0,1371.6 L434.2,1371.9 L434.2,1373.2 L434.1,1374.5 L434.0,1375.8 L434.0,1377.1 L433.9,1378.4 L433.7,1379.8 L433.6,1381.1Z" fill="#48484a"/></g><circle cx="432.3" cy="1371.9" r="9.4" fill="#2d2c2c"/><circle cx="431.8" cy="1372.4" r="6.6" fill="#3c3b3b" filter="url(#b1)"/><ellipse cx="431.8" cy="1367.6" rx="4.7" ry="2.4" fill="#6a6a6a" opacity="0.6" filter="url(#b1)"/><path d="M231.2,1341.7 L231.4,1344.6 L231.6,1347.5 L231.8,1350.5 L232.1,1353.4 L232.3,1356.3 L232.5,1359.3 L232.8,1362.2 L233.1,1365.1 L233.4,1367.9 L233.7,1370.8 L234.0,1373.6 L234.4,1376.5 L234.8,1379.3 L235.2,1382.1 L235.7,1384.8 L236.2,1387.5 L236.8,1390.3 L237.4,1392.9 L238.0,1395.6 L238.7,1398.2 L239.5,1400.8 L240.3,1403.3 L241.1,1405.8 L242.0,1408.3 L243.0,1410.7 L244.1,1413.1 L245.2,1415.5 L246.4,1417.8 L247.7,1420.0 L249.1,1422.3 L250.5,1424.4 L252.0,1426.6 L253.6,1428.7 L255.2,1430.7 L257.0,1432.8 L258.9,1434.8 L260.8,1436.7 L262.8,1438.6 L264.9,1440.4 L267.0,1442.2 L269.2,1443.9 L271.5,1445.6 L273.8,1447.1 L276.1,1448.6 L278.4,1450.0 L280.8,1451.4 L283.2,1452.6 L285.7,1453.7 L288.1,1454.7 L290.5,1455.6 L292.9,1456.4 L295.4,1457.1 L297.8,1457.7 L300.1,1458.2 L302.5,1458.5 L304.8,1458.8 L307.0,1458.9 L309.3,1458.9 L311.5,1458.8 L313.7,1458.6 L315.9,1458.2 L318.1,1457.8 L320.3,1457.3 L322.4,1456.6 L324.6,1455.8 L326.7,1455.0 L328.7,1454.0 L330.8,1452.9 L332.8,1451.8 L334.7,1450.5 L336.7,1449.1 L338.5,1447.7 L340.4,1446.2 L342.2,1444.5 L343.9,1442.8 L345.5,1441.0 L347.1,1439.1 L348.6,1437.1 L350.0,1435.0 L351.3,1432.9 L352.5,1430.6 L353.7,1428.3 L354.7,1426.0 L355.7,1423.5 L356.6,1420.9 L357.5,1418.3 L358.2,1415.6 L358.9,1412.8 L359.5,1410.0 L360.1,1407.2 L360.6,1404.3 L361.1,1401.5 L361.5,1398.6 L361.9,1395.7 L362.2,1392.8 L362.5,1389.9 L362.7,1387.1 L363.0,1384.3 L363.2,1381.5 L382.0,1382.9 L381.8,1385.7 L381.6,1388.6 L381.3,1391.6 L381.1,1394.6 L380.8,1397.7 L380.5,1400.9 L380.1,1404.1 L379.7,1407.3 L379.2,1410.6 L378.6,1413.8 L377.9,1417.1 L377.2,1420.4 L376.4,1423.6 L375.4,1426.9 L374.4,1430.1 L373.2,1433.4 L371.9,1436.5 L370.5,1439.7 L368.9,1442.7 L367.2,1445.7 L365.4,1448.5 L363.4,1451.3 L361.4,1454.0 L359.3,1456.6 L357.1,1459.1 L354.7,1461.5 L352.3,1463.8 L349.8,1466.0 L347.2,1468.0 L344.4,1469.9 L341.6,1471.7 L338.7,1473.3 L335.8,1474.8 L332.7,1476.2 L329.6,1477.4 L326.5,1478.4 L323.2,1479.3 L320.0,1480.0 L316.6,1480.5 L313.3,1480.9 L309.9,1481.1 L306.4,1481.1 L303.0,1480.9 L299.6,1480.6 L296.2,1480.0 L292.8,1479.3 L289.5,1478.4 L286.2,1477.4 L283.0,1476.3 L279.8,1475.0 L276.6,1473.6 L273.5,1472.1 L270.4,1470.5 L267.4,1468.7 L264.5,1466.9 L261.6,1465.0 L258.8,1462.9 L256.0,1460.8 L253.4,1458.6 L250.8,1456.3 L248.3,1453.9 L245.9,1451.4 L243.5,1448.9 L241.3,1446.3 L239.2,1443.7 L237.2,1440.9 L235.3,1438.2 L233.5,1435.4 L231.8,1432.6 L230.2,1429.7 L228.8,1426.8 L227.4,1423.9 L226.1,1421.0 L224.9,1418.0 L223.8,1415.0 L222.8,1412.1 L221.9,1409.1 L221.0,1406.0 L220.2,1403.0 L219.5,1400.0 L218.8,1396.9 L218.3,1393.9 L217.8,1390.8 L217.3,1387.8 L216.9,1384.7 L216.5,1381.6 L216.2,1378.6 L215.9,1375.5 L215.7,1372.4 L215.5,1369.4 L215.4,1366.3 L215.2,1363.3 L215.1,1360.3 L215.0,1357.2 L215.0,1354.2 L214.9,1351.2 L214.8,1348.2 L214.8,1345.3 L214.8,1342.3Z" fill="#2d2c2c"/><path d="M229.6,1341.7 L229.8,1344.7 L230.0,1347.6 L230.2,1350.6 L230.4,1353.5 L230.6,1356.4 L230.8,1359.4 L231.0,1362.3 L231.3,1365.2 L231.6,1368.1 L231.9,1371.0 L232.2,1373.8 L232.6,1376.7 L233.0,1379.5 L233.4,1382.3 L233.9,1385.1 L234.4,1387.9 L234.9,1390.6 L235.6,1393.3 L236.2,1396.0 L236.9,1398.7 L237.6,1401.3 L238.4,1403.9 L239.3,1406.5 L240.2,1409.0 L241.2,1411.5 L242.3,1413.9 L243.4,1416.3 L244.7,1418.7 L246.0,1421.0 L247.3,1423.3 L248.8,1425.5 L250.3,1427.7 L251.9,1429.9 L253.6,1432.0 L255.4,1434.1 L257.3,1436.2 L259.3,1438.2 L261.4,1440.1 L263.5,1442.0 L265.7,1443.8 L267.9,1445.6 L270.2,1447.3 L272.5,1448.9 L274.9,1450.5 L277.3,1451.9 L279.8,1453.3 L282.3,1454.5 L284.7,1455.7 L287.2,1456.7 L289.8,1457.7 L292.3,1458.5 L294.8,1459.3 L297.3,1459.9 L299.7,1460.4 L302.2,1460.7 L304.6,1461.0 L307.0,1461.1 L309.3,1461.1 L311.7,1461.0 L314.0,1460.8 L316.3,1460.4 L318.6,1460.0 L320.9,1459.4 L323.1,1458.7 L325.4,1457.9 L327.6,1457.0 L329.7,1455.9 L331.8,1454.8 L333.9,1453.6 L336.0,1452.2 L338.0,1450.8 L339.9,1449.3 L341.8,1447.7 L343.7,1446.0 L345.4,1444.2 L347.1,1442.3 L348.7,1440.3 L350.3,1438.2 L351.7,1436.1 L353.1,1433.8 L354.3,1431.5 L355.5,1429.2 L356.6,1426.7 L357.6,1424.1 L358.5,1421.5 L359.3,1418.8 L360.1,1416.1 L360.8,1413.3 L361.4,1410.4 L362.0,1407.5 L362.5,1404.6 L363.0,1401.7 L363.4,1398.8 L363.8,1395.9 L364.1,1393.0 L364.4,1390.1 L364.6,1387.2 L364.8,1384.4 L365.1,1381.7 L376.7,1382.5 L376.5,1385.3 L376.3,1388.2 L376.1,1391.1 L375.8,1394.1 L375.5,1397.2 L375.2,1400.2 L374.8,1403.3 L374.3,1406.5 L373.8,1409.6 L373.2,1412.8 L372.6,1415.9 L371.9,1419.0 L371.1,1422.1 L370.2,1425.2 L369.2,1428.3 L368.0,1431.3 L366.8,1434.2 L365.4,1437.1 L364.0,1440.0 L362.4,1442.7 L360.7,1445.3 L358.9,1447.9 L357.0,1450.4 L355.0,1452.7 L352.9,1455.0 L350.7,1457.2 L348.5,1459.3 L346.1,1461.2 L343.7,1463.1 L341.2,1464.8 L338.6,1466.4 L335.9,1467.9 L333.2,1469.3 L330.4,1470.5 L327.6,1471.5 L324.7,1472.5 L321.8,1473.3 L318.8,1473.9 L315.8,1474.4 L312.8,1474.7 L309.7,1474.9 L306.6,1474.9 L303.5,1474.7 L300.4,1474.4 L297.3,1473.9 L294.2,1473.3 L291.1,1472.5 L288.1,1471.6 L285.1,1470.5 L282.1,1469.3 L279.1,1468.1 L276.2,1466.6 L273.3,1465.1 L270.5,1463.5 L267.7,1461.8 L265.0,1460.0 L262.3,1458.1 L259.7,1456.1 L257.2,1454.0 L254.7,1451.8 L252.3,1449.6 L250.0,1447.3 L247.8,1444.9 L245.7,1442.5 L243.7,1440.0 L241.8,1437.5 L239.9,1434.9 L238.2,1432.3 L236.6,1429.7 L235.1,1427.0 L233.7,1424.3 L232.4,1421.6 L231.2,1418.8 L230.0,1416.0 L228.9,1413.2 L227.9,1410.3 L227.0,1407.5 L226.2,1404.6 L225.4,1401.7 L224.7,1398.8 L224.0,1395.8 L223.5,1392.9 L222.9,1389.9 L222.5,1386.9 L222.0,1384.0 L221.6,1381.0 L221.3,1378.0 L221.0,1375.0 L220.7,1372.0 L220.5,1369.0 L220.3,1366.0 L220.1,1363.0 L220.0,1360.0 L219.9,1357.0 L219.7,1354.0 L219.6,1351.0 L219.5,1348.0 L219.5,1345.1 L219.4,1342.1Z" fill="#3c3b3b" filter="url(#b1)"/><g filter="url(#b1)"><path d="M228.6,1341.8 L228.7,1343.2 L228.8,1344.7 L228.9,1346.2 L229.0,1347.7 L229.0,1349.1 L229.1,1350.6 L229.2,1352.1 L229.3,1353.5 L229.4,1355.0 L221.9,1355.4 L221.8,1353.9 L221.7,1352.4 L221.7,1350.9 L221.6,1349.4 L221.6,1348.0 L221.5,1346.5 L221.5,1345.0 L221.4,1343.5 L221.4,1342.0Z" fill="#565658"/><path d="M229.3,1353.5 L229.4,1355.0 L229.5,1356.5 L229.6,1357.9 L229.7,1359.4 L229.9,1360.9 L230.0,1362.3 L230.1,1363.8 L230.2,1365.3 L230.4,1366.7 L222.5,1367.3 L222.4,1365.8 L222.3,1364.3 L222.2,1362.8 L222.2,1361.4 L222.1,1359.9 L222.0,1358.4 L221.9,1356.9 L221.9,1355.4 L221.8,1353.9Z" fill="#606062"/><path d="M230.2,1365.3 L230.4,1366.7 L230.5,1368.2 L230.7,1369.6 L230.8,1371.1 L231.0,1372.5 L231.1,1373.9 L231.3,1375.4 L231.5,1376.8 L231.7,1378.2 L223.7,1379.2 L223.5,1377.7 L223.3,1376.2 L223.2,1374.8 L223.0,1373.3 L222.9,1371.8 L222.8,1370.3 L222.7,1368.8 L222.5,1367.3 L222.4,1365.8Z" fill="#6c6c6e"/><path d="M231.5,1376.8 L231.7,1378.2 L231.9,1379.7 L232.1,1381.1 L232.3,1382.5 L232.5,1383.9 L232.8,1385.3 L233.0,1386.7 L233.3,1388.1 L233.5,1389.5 L225.4,1391.0 L225.1,1389.5 L224.9,1388.1 L224.7,1386.6 L224.4,1385.1 L224.2,1383.6 L224.0,1382.2 L223.8,1380.7 L223.7,1379.2 L223.5,1377.7Z" fill="#78787a"/><path d="M233.3,1388.1 L233.5,1389.5 L233.8,1390.8 L234.1,1392.2 L234.4,1393.6 L234.7,1394.9 L235.1,1396.3 L235.4,1397.6 L235.8,1399.0 L236.1,1400.3 L228.0,1402.5 L227.6,1401.1 L227.3,1399.7 L226.9,1398.2 L226.6,1396.8 L226.3,1395.3 L226.0,1393.9 L225.7,1392.4 L225.4,1391.0 L225.1,1389.5Z" fill="#7e7e80"/><path d="M235.8,1399.0 L236.1,1400.3 L236.5,1401.6 L236.9,1402.9 L237.3,1404.2 L237.8,1405.5 L238.2,1406.8 L238.7,1408.1 L239.1,1409.4 L239.6,1410.6 L231.6,1413.7 L231.1,1412.4 L230.6,1411.0 L230.1,1409.6 L229.7,1408.2 L229.2,1406.8 L228.8,1405.4 L228.4,1403.9 L228.0,1402.5 L227.6,1401.1Z" fill="#7d7d7f"/><path d="M239.1,1409.4 L239.6,1410.6 L240.1,1411.9 L240.7,1413.2 L241.2,1414.4 L241.8,1415.6 L242.4,1416.8 L243.0,1418.0 L243.6,1419.2 L244.2,1420.4 L236.5,1424.5 L235.8,1423.2 L235.2,1421.9 L234.5,1420.5 L233.9,1419.2 L233.3,1417.8 L232.7,1416.5 L232.2,1415.1 L231.6,1413.7 L231.1,1412.4Z" fill="#757577"/><path d="M243.6,1419.2 L244.2,1420.4 L244.9,1421.6 L245.6,1422.8 L246.3,1423.9 L247.0,1425.1 L247.8,1426.2 L248.5,1427.3 L249.3,1428.4 L250.1,1429.6 L242.8,1434.8 L241.9,1433.6 L241.1,1432.3 L240.3,1431.0 L239.5,1429.7 L238.7,1428.5 L237.9,1427.2 L237.2,1425.8 L236.5,1424.5 L235.8,1423.2Z" fill="#69696b"/><path d="M249.3,1428.4 L250.1,1429.6 L250.9,1430.6 L251.8,1431.7 L252.7,1432.8 L253.6,1433.9 L254.5,1434.9 L255.4,1436.0 L256.4,1437.0 L257.4,1438.1 L250.7,1444.4 L249.7,1443.2 L248.6,1442.1 L247.6,1440.9 L246.6,1439.7 L245.6,1438.5 L244.7,1437.3 L243.7,1436.0 L242.8,1434.8 L241.9,1433.6Z" fill="#5d5d5f"/><path d="M256.4,1437.0 L257.4,1438.1 L258.4,1439.1 L259.4,1440.1 L260.5,1441.0 L261.5,1442.0 L262.6,1443.0 L263.7,1443.9 L264.8,1444.8 L266.0,1445.7 L260.1,1453.0 L258.8,1452.0 L257.6,1451.0 L256.4,1449.9 L255.2,1448.9 L254.1,1447.8 L253.0,1446.7 L251.8,1445.5 L250.7,1444.4 L249.7,1443.2Z" fill="#545456"/><path d="M264.8,1444.8 L266.0,1445.7 L267.1,1446.6 L268.3,1447.5 L269.4,1448.3 L270.6,1449.2 L271.8,1450.0 L273.0,1450.8 L274.2,1451.6 L275.4,1452.3 L270.5,1460.4 L269.1,1459.6 L267.8,1458.7 L266.4,1457.8 L265.1,1456.9 L263.8,1456.0 L262.6,1455.0 L261.3,1454.0 L260.1,1453.0 L258.8,1452.0Z" fill="#4d4d4f"/><path d="M274.2,1451.6 L275.4,1452.3 L276.7,1453.0 L277.9,1453.7 L279.2,1454.4 L280.4,1455.1 L281.7,1455.7 L282.9,1456.3 L284.2,1456.9 L285.5,1457.4 L281.6,1466.3 L280.2,1465.7 L278.8,1465.0 L277.4,1464.3 L276.0,1463.6 L274.6,1462.8 L273.2,1462.1 L271.8,1461.3 L270.5,1460.4 L269.1,1459.6Z" fill="#4a4a4c"/><path d="M284.2,1456.9 L285.5,1457.4 L286.8,1458.0 L288.0,1458.5 L289.3,1458.9 L290.6,1459.4 L291.9,1459.8 L293.1,1460.2 L294.4,1460.5 L295.7,1460.9 L293.3,1470.3 L291.8,1469.9 L290.4,1469.5 L288.9,1469.0 L287.4,1468.6 L286.0,1468.0 L284.5,1467.5 L283.1,1466.9 L281.6,1466.3 L280.2,1465.7Z" fill="#48484a"/><path d="M294.4,1460.5 L295.7,1460.9 L297.0,1461.2 L298.2,1461.4 L299.5,1461.7 L300.8,1461.9 L302.0,1462.1 L303.3,1462.2 L304.5,1462.3 L305.7,1462.4 L305.2,1472.2 L303.7,1472.1 L302.2,1471.9 L300.7,1471.7 L299.3,1471.5 L297.8,1471.3 L296.3,1471.0 L294.8,1470.7 L293.3,1470.3 L291.8,1469.9Z" fill="#48484a"/><path d="M304.5,1462.3 L305.7,1462.4 L306.9,1462.4 L308.2,1462.4 L309.4,1462.4 L310.6,1462.4 L311.8,1462.3 L313.0,1462.2 L314.2,1462.1 L315.4,1461.9 L316.9,1471.5 L315.5,1471.8 L314.0,1471.9 L312.6,1472.1 L311.1,1472.2 L309.6,1472.2 L308.2,1472.2 L306.7,1472.2 L305.2,1472.2 L303.7,1472.1Z" fill="#48484a"/><path d="M314.2,1462.1 L315.4,1461.9 L316.6,1461.7 L317.8,1461.5 L318.9,1461.2 L320.1,1461.0 L321.3,1460.6 L322.4,1460.3 L323.6,1459.9 L324.7,1459.5 L328.1,1468.6 L326.8,1469.1 L325.4,1469.5 L324.0,1469.9 L322.6,1470.3 L321.2,1470.7 L319.8,1471.0 L318.3,1471.3 L316.9,1471.5 L315.5,1471.8Z" fill="#48484a"/><path d="M323.6,1459.9 L324.7,1459.5 L325.9,1459.1 L327.0,1458.6 L328.1,1458.1 L329.2,1457.6 L330.3,1457.1 L331.4,1456.5 L332.5,1455.9 L333.6,1455.3 L338.5,1463.4 L337.3,1464.2 L336.0,1464.9 L334.7,1465.6 L333.4,1466.2 L332.1,1466.9 L330.8,1467.5 L329.5,1468.0 L328.1,1468.6 L326.8,1469.1Z" fill="#48484a"/><path d="M332.5,1455.9 L333.6,1455.3 L334.6,1454.7 L335.7,1454.0 L336.7,1453.3 L337.7,1452.6 L338.8,1451.8 L339.8,1451.1 L340.7,1450.3 L341.7,1449.5 L347.9,1456.4 L346.8,1457.4 L345.7,1458.3 L344.5,1459.2 L343.4,1460.1 L342.2,1461.0 L341.0,1461.8 L339.8,1462.6 L338.5,1463.4 L337.3,1464.2Z" fill="#48484a"/><path d="M340.7,1450.3 L341.7,1449.5 L342.7,1448.6 L343.6,1447.8 L344.6,1446.9 L345.5,1446.0 L346.4,1445.0 L347.2,1444.1 L348.1,1443.1 L348.9,1442.1 L356.0,1447.6 L355.1,1448.8 L354.1,1450.0 L353.1,1451.1 L352.1,1452.2 L351.1,1453.3 L350.1,1454.3 L349.0,1455.4 L347.9,1456.4 L346.8,1457.4Z" fill="#48484a"/><path d="M348.1,1443.1 L348.9,1442.1 L349.7,1441.0 L350.5,1440.0 L351.3,1438.9 L352.0,1437.8 L352.7,1436.7 L353.4,1435.6 L354.1,1434.4 L354.8,1433.3 L362.6,1437.4 L361.9,1438.8 L361.1,1440.1 L360.3,1441.4 L359.5,1442.7 L358.7,1444.0 L357.8,1445.2 L356.9,1446.4 L356.0,1447.6 L355.1,1448.8Z" fill="#48484a"/><path d="M354.1,1434.4 L354.8,1433.3 L355.4,1432.1 L356.0,1430.9 L356.6,1429.7 L357.2,1428.4 L357.7,1427.1 L358.2,1425.9 L358.7,1424.5 L359.2,1423.2 L367.4,1426.0 L366.9,1427.5 L366.4,1428.9 L365.8,1430.4 L365.2,1431.8 L364.6,1433.3 L364.0,1434.7 L363.3,1436.1 L362.6,1437.4 L361.9,1438.8Z" fill="#48484a"/><path d="M358.7,1424.5 L359.2,1423.2 L359.6,1421.9 L360.1,1420.5 L360.5,1419.1 L360.9,1417.8 L361.3,1416.4 L361.6,1414.9 L362.0,1413.5 L362.3,1412.1 L370.7,1413.9 L370.3,1415.4 L370.0,1416.9 L369.6,1418.5 L369.2,1420.0 L368.8,1421.5 L368.4,1423.0 L367.9,1424.5 L367.4,1426.0 L366.9,1427.5Z" fill="#48484a"/><path d="M362.0,1413.5 L362.3,1412.1 L362.6,1410.6 L362.9,1409.2 L363.2,1407.7 L363.4,1406.3 L363.7,1404.8 L363.9,1403.3 L364.1,1401.9 L364.3,1400.4 L372.7,1401.5 L372.5,1403.0 L372.3,1404.6 L372.0,1406.1 L371.8,1407.7 L371.5,1409.2 L371.3,1410.8 L371.0,1412.3 L370.7,1413.9 L370.3,1415.4Z" fill="#48484a"/><path d="M364.1,1401.9 L364.3,1400.4 L364.5,1398.9 L364.7,1397.5 L364.9,1396.0 L365.1,1394.5 L365.2,1393.1 L365.4,1391.6 L365.5,1390.2 L365.6,1388.8 L373.9,1389.5 L373.8,1390.9 L373.7,1392.4 L373.5,1393.9 L373.4,1395.4 L373.2,1396.9 L373.1,1398.4 L372.9,1400.0 L372.7,1401.5 L372.5,1403.0Z" fill="#48484a"/><path d="M365.5,1390.2 L365.6,1388.8 L365.7,1387.3 L365.9,1385.9 L366.0,1384.5 L366.1,1383.1 L366.2,1381.7 L366.3,1380.4 L374.5,1380.9 L374.5,1382.3 L374.4,1383.7 L374.3,1385.1 L374.1,1386.6 L374.0,1388.0 L373.9,1389.5 L373.8,1390.9Z" fill="#48484a"/></g><circle cx="372.7" cy="1380.8" r="9.4" fill="#2d2c2c"/><circle cx="372.2" cy="1381.3" r="6.6" fill="#3c3b3b" filter="url(#b1)"/><ellipse cx="372.2" cy="1376.6" rx="4.7" ry="2.4" fill="#6a6a6a" opacity="0.6" filter="url(#b1)"/>
<defs>
<linearGradient id="wb" x1="0" y1="0" x2="0" y2="1">
 <stop offset="0" stop-color="#f2f2f2"/><stop offset="0.35" stop-color="#d4d4d4"/><stop offset="0.6" stop-color="#cbcbcb"/><stop offset="1" stop-color="#ededed"/>
</linearGradient>
<linearGradient id="wd" x1="0" y1="0" x2="1" y2="0">
 <stop offset="0" stop-color="#e2e2e2"/><stop offset="0.6" stop-color="#f7f7f7"/><stop offset="1" stop-color="#fbfbfb"/>
</linearGradient>
<linearGradient id="wf" x1="0" y1="0" x2="1" y2="0">
 <stop offset="0" stop-color="#ededed"/><stop offset="0.7" stop-color="#fafafa"/><stop offset="0.9" stop-color="#e4e4e4"/><stop offset="1" stop-color="#bdbdbd"/>
</linearGradient>
<linearGradient id="wband" x1="0" y1="0" x2="0" y2="1">
 <stop offset="0" stop-color="#e4e4e4"/><stop offset="0.45" stop-color="#bcbcbc"/><stop offset="0.6" stop-color="#bebebe"/><stop offset="1" stop-color="#e2e2e2"/>
</linearGradient>
<filter id="bh" x="-50%" y="-10%" width="200%" height="120%"><feGaussianBlur stdDeviation="6 1"/></filter>
<linearGradient id="wfade" x1="0" y1="0" x2="1" y2="0">
 <stop offset="0" stop-color="#e9e9e9"/><stop offset="0.6" stop-color="#e9e9e9"/><stop offset="1" stop-color="#e9e9e9" stop-opacity="0"/>
</linearGradient>
<linearGradient id="wt" x1="0" y1="0" x2="0" y2="1">
 <stop offset="0" stop-color="#c9c5bf"/><stop offset="0.45" stop-color="#cfcbc6"/><stop offset="0.55" stop-color="#e6e6e6"/><stop offset="1" stop-color="#e9e9e9"/>
</linearGradient>
</defs>
<g>
 <ellipse cx="1094" cy="408" rx="29" ry="47" fill="url(#wd)" stroke="#dedede" stroke-width="1.2"/>
 <ellipse cx="1148" cy="410.5" rx="24" ry="50.5" fill="url(#wd)" stroke="#dedede" stroke-width="1.2"/>
 <path d="M889,410 L917,385 L1196,384 L1196,434 L912,433 Z" fill="url(#wb)"/>
 <path d="M889,410 L917,385 L1060,384.5 L1060,433.5 L912,433 Z" fill="url(#wfade)"/>
 <rect x="1008" y="386" width="34" height="46" fill="url(#wband)" filter="url(#bh)"/>
 <path d="M890,405 L917,385.3 L996,385 L961,400.5 L917,401 Z" fill="#ccc8c2"/>
 <path d="M961,400.5 L996,385 L1000,385 L968,401Z" fill="#d8d6d2"/>
 <path d="M890,408 L917,401 L917,416 L912,433 Z" fill="#dcdcdc"/>
 <rect x="916" y="401.5" width="45" height="11" fill="#bcbcbc"/>
 <rect x="916" y="401.5" width="45" height="2.5" fill="#acacac"/>
 <rect x="916" y="401.5" width="3.5" height="11" fill="#f4f4f4"/>
 <path d="M867,408 C867,405.5 869,405 872,405 L886,405.5 L892,409.5 L888,411.5 L872,411.2 C869,411.2 867,410 867,408Z" fill="#ececec" stroke="#d4d4d4" stroke-width="0.8"/>
 <path d="M1034,384 L1052,384 C1060,395 1066,415 1070,434 L1052,434 C1050,418 1044,398 1034,384Z" fill="#fafafa"/>
 <path d="M1100,384 L1114,384 C1120,398 1124,418 1125,434 L1111,434 C1110,418 1106,398 1100,384Z" fill="#f8f8f8"/>
 <path d="M1156,384 L1167,384 C1171,398 1173,418 1172,434 L1162,434 C1163,418 1161,398 1156,384Z" fill="#f8f8f8"/>
 <ellipse cx="1202.5" cy="411" rx="17" ry="53.5" fill="url(#wf)" stroke="#dcdcdc" stroke-width="1"/>
</g>

<defs>
<linearGradient id="ob" x1="0" y1="0" x2="0" y2="1">
 <stop offset="0" stop-color="#f9981a"/><stop offset="0.45" stop-color="#fa9f1b"/><stop offset="0.65" stop-color="#fcb325"/><stop offset="1" stop-color="#fdcf38"/>
</linearGradient>
<linearGradient id="of" x1="0" y1="0" x2="1" y2="0">
 <stop offset="0" stop-color="#f7a520"/><stop offset="0.6" stop-color="#fab12c"/><stop offset="1" stop-color="#f5a21a"/>
</linearGradient>
</defs>
<g>
 <path d="M1061,820 L1103,802.5 L1109,804 L1107,809 L1114,820 Z" fill="#f99f1c"/>
 <path d="M880,820.7 L1198,819.4 L1198,889.7 L880,888.4 C864,888.4 855.3,871 855.3,854.5 C855.3,838 864,820.7 880,820.7Z" fill="url(#ob)"/>
 <path d="M1070,875 L1111,880.5 L1111,903 L1092,897 L1070,887Z" fill="#f6a90f"/>
 <path d="M1070,875 L1111,880.5 L1111,886 L1070,879Z" fill="#fbbf2e"/>
 <g fill="none" stroke="#ef9a3a" stroke-width="1" opacity="0.35">
  <path d="M901.5,821 V888 M941.8,821 V888 M982,821 V888 M1022.3,821 V888"/>
 </g>
 <path d="M857,851.5 L903.5,849.5 L903.5,840 L947.8,840 L947.8,861.8 L990.6,861.8 L990.6,840.4 L1031.8,840.4 L1031.8,850.5 L1140.6,850.5" fill="none" stroke="#f47d0c" stroke-width="5.5" stroke-linejoin="miter"/>
 <path d="M1056,854.8 L1126,854.8" stroke="#fde9b8" stroke-width="1.4"/>
 <rect x="943" y="845" width="3" height="6" fill="#fff"/>
 <rect x="980" y="858" width="4" height="5" fill="#fff6dc"/>
 <ellipse cx="1209" cy="853.5" rx="12.2" ry="43.6" fill="url(#of)"/>
 <path d="M1214,812 C1222,830 1222,878 1214,895" fill="none" stroke="#f6a417" stroke-width="2"/>
</g>

<defs>
<linearGradient id="sc" x1="0" y1="0" x2="0" y2="1">
 <stop offset="0" stop-color="#333"/><stop offset="0.12" stop-color="#5c5c5c"/><stop offset="0.3" stop-color="#7a7a7a"/><stop offset="0.45" stop-color="#555"/><stop offset="0.5" stop-color="#1a1a1a"/><stop offset="0.56" stop-color="#555"/><stop offset="0.75" stop-color="#6a6a6a"/><stop offset="1" stop-color="#2e2e2e"/>
</linearGradient>
<linearGradient id="sh" x1="0" y1="0" x2="0" y2="1">
 <stop offset="0" stop-color="#2a2a2a"/><stop offset="0.15" stop-color="#555"/><stop offset="0.35" stop-color="#6e6e6e"/><stop offset="0.48" stop-color="#111"/><stop offset="0.55" stop-color="#151515"/><stop offset="0.7" stop-color="#4a4a4a"/><stop offset="1" stop-color="#2a2a2a"/>
</linearGradient>
<linearGradient id="st" x1="0" y1="0" x2="1" y2="0">
 <stop offset="0" stop-color="#3a3a3a"/><stop offset="0.5" stop-color="#6a6a6a"/><stop offset="1" stop-color="#2f2f2f"/>
</linearGradient>
</defs>
<g>
<path d="M882,1303 L887,1294.5 L893,1298.5 Z" fill="#4a4a4a" stroke="#2a2a2a" stroke-width="0.8"/><path d="M898.4,1299 C900.4,1295 902.9,1290.4 905.4,1290.4 C907.9,1290.4 910.4,1295 912.4,1299Z" fill="url(#st)" stroke="#2a2a2a" stroke-width="0.8"/><path d="M916.3,1299 C918.3,1295 920.8,1290.4 923.3,1290.4 C925.8,1290.4 928.3,1295 930.3,1299Z" fill="url(#st)" stroke="#2a2a2a" stroke-width="0.8"/><path d="M934.3,1299 C936.3,1295 938.8,1290.4 941.3,1290.4 C943.8,1290.4 946.3,1295 948.3,1299Z" fill="url(#st)" stroke="#2a2a2a" stroke-width="0.8"/><path d="M952.3,1299 C954.3,1295 956.8,1290.4 959.3,1290.4 C961.8,1290.4 964.3,1295 966.3,1299Z" fill="url(#st)" stroke="#2a2a2a" stroke-width="0.8"/><path d="M970.2,1299 C972.2,1295 974.8,1290.4 977.2,1290.4 C979.8,1290.4 982.2,1295 984.2,1299Z" fill="url(#st)" stroke="#2a2a2a" stroke-width="0.8"/><path d="M988.2,1299 C990.2,1295 992.7,1290.4 995.2,1290.4 C997.7,1290.4 1000.2,1295 1002.2,1299Z" fill="url(#st)" stroke="#2a2a2a" stroke-width="0.8"/><path d="M1006.2,1299 C1008.2,1295 1010.7,1290.4 1013.2,1290.4 C1015.7,1290.4 1018.2,1295 1020.2,1299Z" fill="url(#st)" stroke="#2a2a2a" stroke-width="0.8"/><path d="M1024.2,1299 C1026.2,1295 1028.7,1290.4 1031.2,1290.4 C1033.7,1290.4 1036.2,1295 1038.2,1299Z" fill="url(#st)" stroke="#2a2a2a" stroke-width="0.8"/><path d="M1042.1,1299 C1044.1,1295 1046.6,1290.4 1049.1,1290.4 C1051.6,1290.4 1054.1,1295 1056.1,1299Z" fill="url(#st)" stroke="#2a2a2a" stroke-width="0.8"/><path d="M1060.1,1299 C1062.1,1295 1064.6,1290.4 1067.1,1290.4 C1069.6,1290.4 1072.1,1295 1074.1,1299Z" fill="url(#st)" stroke="#2a2a2a" stroke-width="0.8"/><path d="M1078.1,1299 C1080.1,1295 1082.6,1290.4 1085.1,1290.4 C1087.6,1290.4 1090.1,1295 1092.1,1299Z" fill="url(#st)" stroke="#2a2a2a" stroke-width="0.8"/><path d="M1096.0,1299 C1098.0,1295 1100.5,1290.4 1103.0,1290.4 C1105.5,1290.4 1108.0,1295 1110.0,1299Z" fill="url(#st)" stroke="#2a2a2a" stroke-width="0.8"/><path d="M1114.0,1299 C1116.0,1295 1118.5,1290.4 1121.0,1290.4 C1123.5,1290.4 1126.0,1295 1128.0,1299Z" fill="url(#st)" stroke="#2a2a2a" stroke-width="0.8"/><path d="M1132.0,1299 C1134.0,1295 1136.5,1290.4 1139.0,1290.4 C1141.5,1290.4 1144.0,1295 1146.0,1299Z" fill="url(#st)" stroke="#2a2a2a" stroke-width="0.8"/><path d="M1149.9,1299 C1151.9,1295 1154.4,1290.4 1156.9,1290.4 C1159.4,1290.4 1161.9,1295 1163.9,1299Z" fill="url(#st)" stroke="#2a2a2a" stroke-width="0.8"/><path d="M889.2,1329 C890.7,1334 894.7,1338 896.7,1338 C898.7,1338 902.7,1334 904.2,1329Z" fill="url(#st)" stroke="#2a2a2a" stroke-width="0.8"/><path d="M907.2,1329 C908.7,1334 912.7,1338 914.7,1338 C916.7,1338 920.7,1334 922.2,1329Z" fill="url(#st)" stroke="#2a2a2a" stroke-width="0.8"/><path d="M925.1,1329 C926.6,1334 930.6,1338 932.6,1338 C934.6,1338 938.6,1334 940.1,1329Z" fill="url(#st)" stroke="#2a2a2a" stroke-width="0.8"/><path d="M943.1,1329 C944.6,1334 948.6,1338 950.6,1338 C952.6,1338 956.6,1334 958.1,1329Z" fill="url(#st)" stroke="#2a2a2a" stroke-width="0.8"/><path d="M961.1,1329 C962.6,1334 966.6,1338 968.6,1338 C970.6,1338 974.6,1334 976.1,1329Z" fill="url(#st)" stroke="#2a2a2a" stroke-width="0.8"/><path d="M979.1,1329 C980.6,1334 984.6,1338 986.6,1338 C988.6,1338 992.6,1334 994.1,1329Z" fill="url(#st)" stroke="#2a2a2a" stroke-width="0.8"/><path d="M997.0,1329 C998.5,1334 1002.5,1338 1004.5,1338 C1006.5,1338 1010.5,1334 1012.0,1329Z" fill="url(#st)" stroke="#2a2a2a" stroke-width="0.8"/><path d="M1015.0,1329 C1016.5,1334 1020.5,1338 1022.5,1338 C1024.5,1338 1028.5,1334 1030.0,1329Z" fill="url(#st)" stroke="#2a2a2a" stroke-width="0.8"/><path d="M1033.0,1329 C1034.5,1334 1038.5,1338 1040.5,1338 C1042.5,1338 1046.5,1334 1048.0,1329Z" fill="url(#st)" stroke="#2a2a2a" stroke-width="0.8"/><path d="M1050.9,1329 C1052.4,1334 1056.4,1338 1058.4,1338 C1060.4,1338 1064.4,1334 1065.9,1329Z" fill="url(#st)" stroke="#2a2a2a" stroke-width="0.8"/><path d="M1068.9,1329 C1070.4,1334 1074.4,1338 1076.4,1338 C1078.4,1338 1082.4,1334 1083.9,1329Z" fill="url(#st)" stroke="#2a2a2a" stroke-width="0.8"/><path d="M1086.9,1329 C1088.4,1334 1092.4,1338 1094.4,1338 C1096.4,1338 1100.4,1334 1101.9,1329Z" fill="url(#st)" stroke="#2a2a2a" stroke-width="0.8"/><path d="M1104.8,1329 C1106.3,1334 1110.3,1338 1112.3,1338 C1114.3,1338 1118.3,1334 1119.8,1329Z" fill="url(#st)" stroke="#2a2a2a" stroke-width="0.8"/><path d="M1122.8,1329 C1124.3,1334 1128.3,1338 1130.3,1338 C1132.3,1338 1136.3,1334 1137.8,1329Z" fill="url(#st)" stroke="#2a2a2a" stroke-width="0.8"/><path d="M1140.8,1329 C1142.3,1334 1146.3,1338 1148.3,1338 C1150.3,1338 1154.3,1334 1155.8,1329Z" fill="url(#st)" stroke="#2a2a2a" stroke-width="0.8"/><path d="M1158.8,1329 C1160.2,1334 1164.2,1338 1166.2,1338 C1168.2,1338 1172.2,1334 1173.8,1329Z" fill="url(#st)" stroke="#2a2a2a" stroke-width="0.8"/><path d="M872,1321 L878,1333 L884,1326 Z" fill="#4a4a4a" stroke="#2a2a2a" stroke-width="0.8"/><path d="M860,1314.5 L868,1311 L880,1304 L893.6,1297.4 L1170,1296.8 L1170,1331 L893.6,1330.9 L880,1325 L868,1318 Z" fill="url(#sc)"/><path d="M889.4,1297.5 C893.4,1310 895.4,1320 896.9,1330.5" fill="none" stroke="#2e2e2e" stroke-width="2.2" opacity="0.85"/><path d="M891.9,1297.5 C895.9,1310 897.9,1320 899.4,1330.5" fill="none" stroke="#8a8a8a" stroke-width="1" opacity="0.6"/><path d="M907.4,1297.5 C911.4,1310 913.4,1320 914.9,1330.5" fill="none" stroke="#2e2e2e" stroke-width="2.2" opacity="0.85"/><path d="M909.9,1297.5 C913.9,1310 915.9,1320 917.4,1330.5" fill="none" stroke="#8a8a8a" stroke-width="1" opacity="0.6"/><path d="M925.3,1297.5 C929.3,1310 931.3,1320 932.8,1330.5" fill="none" stroke="#2e2e2e" stroke-width="2.2" opacity="0.85"/><path d="M927.8,1297.5 C931.8,1310 933.8,1320 935.3,1330.5" fill="none" stroke="#8a8a8a" stroke-width="1" opacity="0.6"/><path d="M943.3,1297.5 C947.3,1310 949.3,1320 950.8,1330.5" fill="none" stroke="#2e2e2e" stroke-width="2.2" opacity="0.85"/><path d="M945.8,1297.5 C949.8,1310 951.8,1320 953.3,1330.5" fill="none" stroke="#8a8a8a" stroke-width="1" opacity="0.6"/><path d="M961.3,1297.5 C965.3,1310 967.3,1320 968.8,1330.5" fill="none" stroke="#2e2e2e" stroke-width="2.2" opacity="0.85"/><path d="M963.8,1297.5 C967.8,1310 969.8,1320 971.3,1330.5" fill="none" stroke="#8a8a8a" stroke-width="1" opacity="0.6"/><path d="M979.2,1297.5 C983.2,1310 985.2,1320 986.8,1330.5" fill="none" stroke="#2e2e2e" stroke-width="2.2" opacity="0.85"/><path d="M981.8,1297.5 C985.8,1310 987.8,1320 989.2,1330.5" fill="none" stroke="#8a8a8a" stroke-width="1" opacity="0.6"/><path d="M997.2,1297.5 C1001.2,1310 1003.2,1320 1004.7,1330.5" fill="none" stroke="#2e2e2e" stroke-width="2.2" opacity="0.85"/><path d="M999.7,1297.5 C1003.7,1310 1005.7,1320 1007.2,1330.5" fill="none" stroke="#8a8a8a" stroke-width="1" opacity="0.6"/><path d="M1015.2,1297.5 C1019.2,1310 1021.2,1320 1022.7,1330.5" fill="none" stroke="#2e2e2e" stroke-width="2.2" opacity="0.85"/><path d="M1017.7,1297.5 C1021.7,1310 1023.7,1320 1025.2,1330.5" fill="none" stroke="#8a8a8a" stroke-width="1" opacity="0.6"/><path d="M1033.2,1297.5 C1037.2,1310 1039.2,1320 1040.7,1330.5" fill="none" stroke="#2e2e2e" stroke-width="2.2" opacity="0.85"/><path d="M1035.7,1297.5 C1039.7,1310 1041.7,1320 1043.2,1330.5" fill="none" stroke="#8a8a8a" stroke-width="1" opacity="0.6"/><path d="M1051.1,1297.5 C1055.1,1310 1057.1,1320 1058.6,1330.5" fill="none" stroke="#2e2e2e" stroke-width="2.2" opacity="0.85"/><path d="M1053.6,1297.5 C1057.6,1310 1059.6,1320 1061.1,1330.5" fill="none" stroke="#8a8a8a" stroke-width="1" opacity="0.6"/><path d="M1069.1,1297.5 C1073.1,1310 1075.1,1320 1076.6,1330.5" fill="none" stroke="#2e2e2e" stroke-width="2.2" opacity="0.85"/><path d="M1071.6,1297.5 C1075.6,1310 1077.6,1320 1079.1,1330.5" fill="none" stroke="#8a8a8a" stroke-width="1" opacity="0.6"/><path d="M1087.1,1297.5 C1091.1,1310 1093.1,1320 1094.6,1330.5" fill="none" stroke="#2e2e2e" stroke-width="2.2" opacity="0.85"/><path d="M1089.6,1297.5 C1093.6,1310 1095.6,1320 1097.1,1330.5" fill="none" stroke="#8a8a8a" stroke-width="1" opacity="0.6"/><path d="M1105.0,1297.5 C1109.0,1310 1111.0,1320 1112.5,1330.5" fill="none" stroke="#2e2e2e" stroke-width="2.2" opacity="0.85"/><path d="M1107.5,1297.5 C1111.5,1310 1113.5,1320 1115.0,1330.5" fill="none" stroke="#8a8a8a" stroke-width="1" opacity="0.6"/><path d="M1123.0,1297.5 C1127.0,1310 1129.0,1320 1130.5,1330.5" fill="none" stroke="#2e2e2e" stroke-width="2.2" opacity="0.85"/><path d="M1125.5,1297.5 C1129.5,1310 1131.5,1320 1133.0,1330.5" fill="none" stroke="#8a8a8a" stroke-width="1" opacity="0.6"/><path d="M1141.0,1297.5 C1145.0,1310 1147.0,1320 1148.5,1330.5" fill="none" stroke="#2e2e2e" stroke-width="2.2" opacity="0.85"/><path d="M1143.5,1297.5 C1147.5,1310 1149.5,1320 1151.0,1330.5" fill="none" stroke="#8a8a8a" stroke-width="1" opacity="0.6"/><path d="M1158.9,1297.5 C1162.9,1310 1164.9,1320 1166.4,1330.5" fill="none" stroke="#2e2e2e" stroke-width="2.2" opacity="0.85"/><path d="M1161.4,1297.5 C1165.4,1310 1167.4,1320 1168.9,1330.5" fill="none" stroke="#8a8a8a" stroke-width="1" opacity="0.6"/><path d="M858,1314.5 L866,1311 L874,1306 L880,1303 L884,1312 L879,1322 L871,1319 Z" fill="#3a3a3a"/><path d="M1164,1297 C1180,1292 1196,1276 1205,1263.3 L1212,1268 C1216,1285 1217,1340 1212,1358 L1205,1363.2 C1196,1350 1180,1334 1164,1331 Z" fill="url(#sh)"/><ellipse cx="1209.5" cy="1313.2" rx="6.5" ry="49.5" fill="none" stroke="#5a5a5a" stroke-width="2"/><ellipse cx="1210" cy="1313.2" rx="5" ry="48" fill="#2a2a2a"/></g><!-- title -->

<!-- dimension lines -->
<g fill="none" stroke="#12217a" stroke-width="2">
<path d="M185,156 H89 V356 M89,394 V539 H237"/>
<path d="M183,629 H89 V829 M89,866 V1012 H237"/>
<path d="M185,1099 H89 V1299 M89,1336 V1483 H237"/>
</g>
<g class="t" style="font-size:32.5px">
<text x="0.8" y="386.2" textLength="142" lengthAdjust="spacingAndGlyphs">22cm/9in</text>
<text x="0" y="859.3" textLength="170" lengthAdjust="spacingAndGlyphs">20cm/8.2in</text>
<text x="1" y="1329.7" textLength="187" lengthAdjust="spacingAndGlyphs">16cm/6.29in</text>
</g>
<g class="t" style="font-size:34px">
<text x="957" y="316.6" textLength="173" lengthAdjust="spacingAndGlyphs">42cm/4.1in</text>
<text x="957" y="769.6" textLength="173" lengthAdjust="spacingAndGlyphs">42cm/4.1in</text>
<text x="957" y="1230.8" textLength="173" lengthAdjust="spacingAndGlyphs">42cm/4.1in</text>
</g>
<g class="t" style="font-size:32px">
<text x="337" y="369.5" transform="rotate(5.2 337 369.5)" textLength="137" lengthAdjust="spacingAndGlyphs">15cm/6in</text>
<text x="311" y="852.5" transform="rotate(5.2 311 852.5)" textLength="165" lengthAdjust="spacingAndGlyphs">13cm/5.1in</text>
<text x="292" y="1335.5" transform="rotate(5.0 292 1335.5)" textLength="168" lengthAdjust="spacingAndGlyphs">8cm/3.14in</text>
</g>
<!-- right brackets -->
<g fill="none" stroke="#12217a" stroke-width="2">
<path d="M862,395 V304 H946 M1146,304 H1208 V348"/>
<path d="M1235,362 H1281 V456 H1235"/>
<path d="M863,827 V757.5 H946 M1146,757.5 H1208 V801"/>
<path d="M1217,808 H1262.5 V901 H1217"/>
<path d="M863,1289 V1218.5 H946 M1146,1218.5 H1208 V1263"/>
<path d="M1217,1269 H1262.5 V1362 H1217"/>
</g>
<!-- angled lines -->
<g stroke="#16329a" stroke-width="2.2">
<line x1="301" y1="374" x2="498" y2="392.4"/>
<line x1="308" y1="861" x2="470.5" y2="876.4"/>
<line x1="292.5" y1="1342" x2="434.5" y2="1356"/>
</g>
</svg>
</body></html>
